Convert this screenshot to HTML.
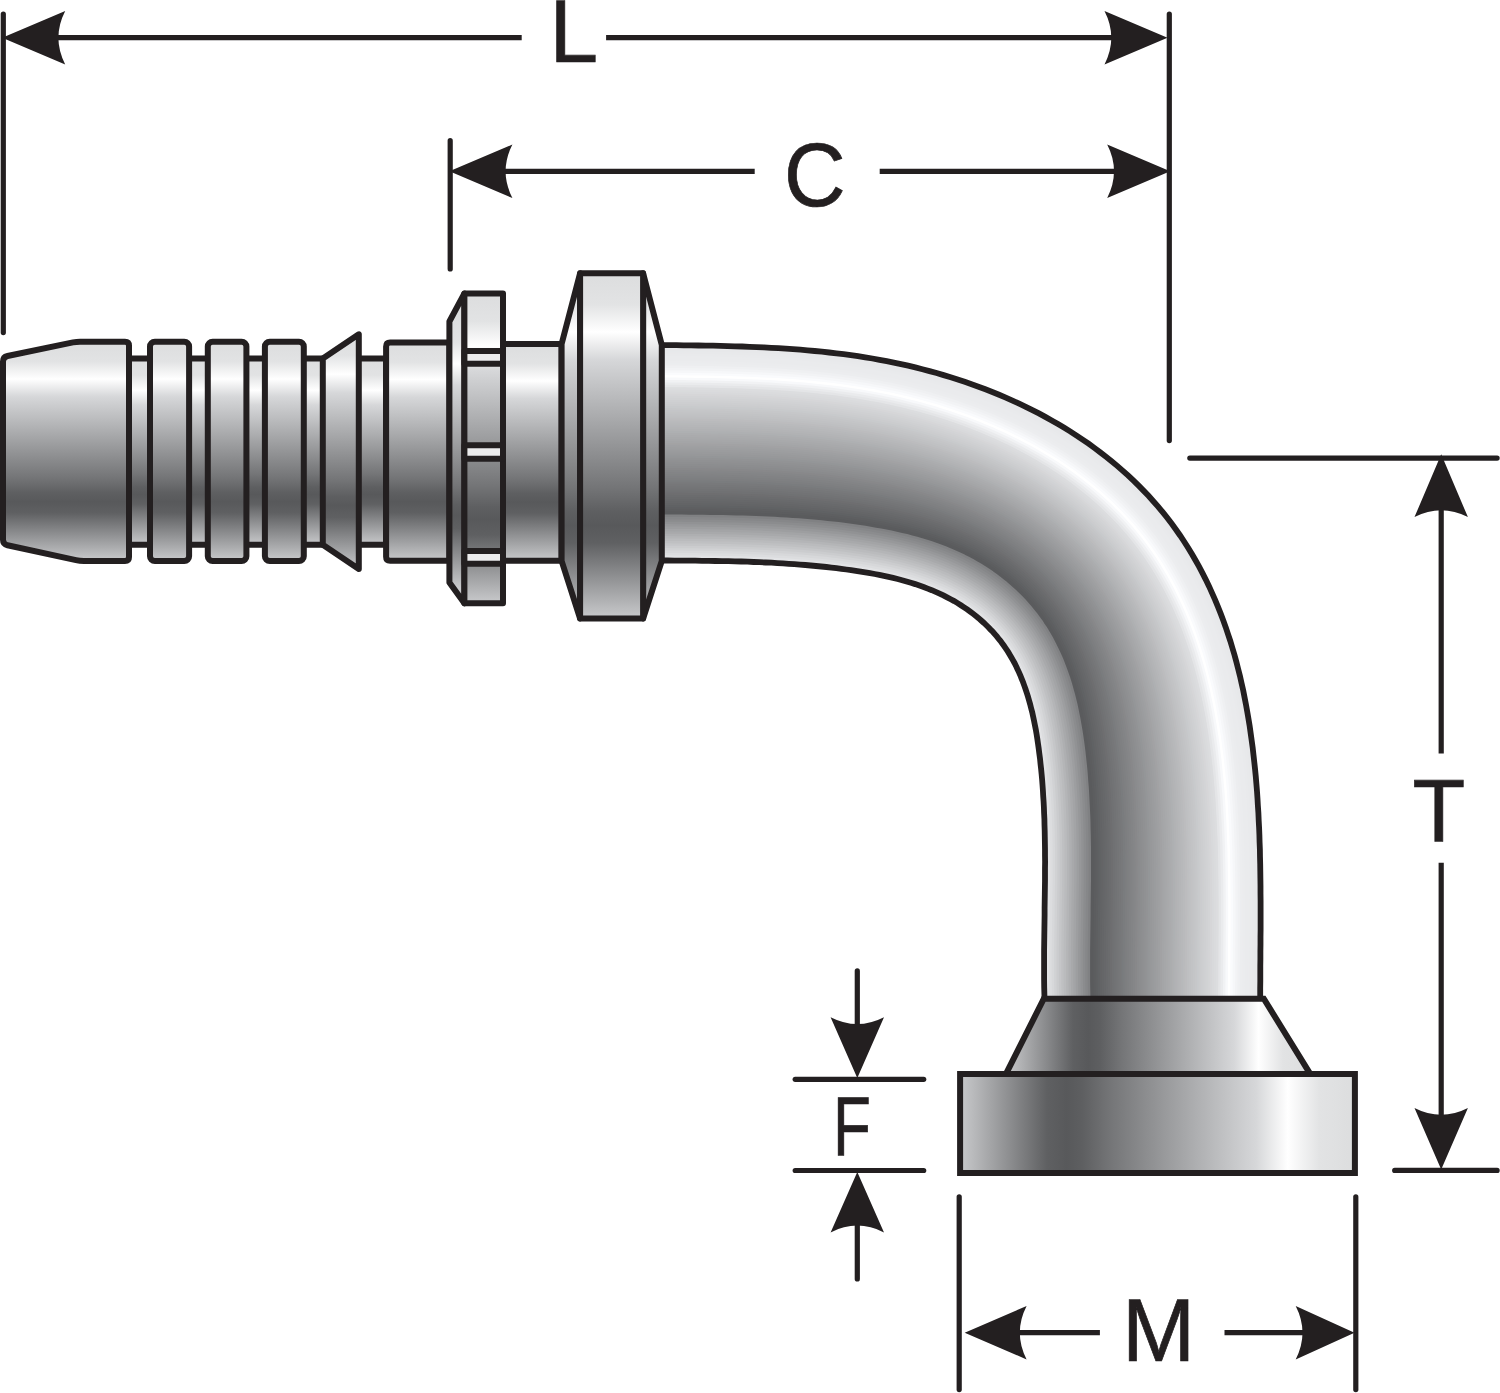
<!DOCTYPE html>
<html><head><meta charset="utf-8"><title>Fitting dimensions L C T F M</title>
<style>html,body{margin:0;padding:0;background:#fff}svg{display:block}</style></head>
<body>
<svg width="1500" height="1393" viewBox="0 0 1500 1393">
<rect width="1500" height="1393" fill="#ffffff"/>
<defs>
<linearGradient id="gv" x1="0" y1="0" x2="0" y2="1"><stop offset="0.000" stop-color="#dcddde"/><stop offset="0.090" stop-color="#e2e3e4"/><stop offset="0.170" stop-color="#ffffff"/><stop offset="0.250" stop-color="#d6d7d9"/><stop offset="0.620" stop-color="#747577"/><stop offset="0.690" stop-color="#5e5f61"/><stop offset="0.730" stop-color="#58595b"/><stop offset="0.780" stop-color="#5f6062"/><stop offset="1.000" stop-color="#c9cacc"/></linearGradient>
<linearGradient id="gh" x1="1" y1="0" x2="0" y2="0"><stop offset="0.000" stop-color="#dcddde"/><stop offset="0.090" stop-color="#e2e3e4"/><stop offset="0.170" stop-color="#ffffff"/><stop offset="0.250" stop-color="#d6d7d9"/><stop offset="0.620" stop-color="#747577"/><stop offset="0.690" stop-color="#5e5f61"/><stop offset="0.730" stop-color="#58595b"/><stop offset="0.780" stop-color="#5f6062"/><stop offset="1.000" stop-color="#c9cacc"/></linearGradient>
<linearGradient id="gbev" gradientUnits="userSpaceOnUse" x1="0" y1="318" x2="0" y2="588"><stop offset="0.000" stop-color="#dcddde"/><stop offset="0.090" stop-color="#e2e3e4"/><stop offset="0.170" stop-color="#ffffff"/><stop offset="0.250" stop-color="#d6d7d9"/><stop offset="0.620" stop-color="#747577"/><stop offset="0.690" stop-color="#5e5f61"/><stop offset="0.730" stop-color="#58595b"/><stop offset="0.780" stop-color="#5f6062"/><stop offset="1.000" stop-color="#c9cacc"/></linearGradient>
</defs>
<!-- bent tube -->
<clipPath id="tubeclip"><path d="M639.9,344.9L647.3,345.0L654.6,345.1L661.9,345.1L669.2,345.2L676.5,345.2L683.8,345.3L691.1,345.4L698.4,345.5L705.7,345.6L713.0,345.7L720.3,345.9L727.6,346.1L734.9,346.3L742.2,346.5L749.4,346.8L756.7,347.1L764.0,347.4L771.2,347.8L778.5,348.2L785.8,348.7L793.0,349.2L800.3,349.7L807.5,350.3L814.7,351.0L821.9,351.7L829.2,352.5L836.4,353.3L843.6,354.2L850.8,355.2L858.0,356.2L865.2,357.4L872.4,358.5L879.5,359.8L886.7,361.2L893.8,362.6L901.0,364.1L908.1,365.7L915.3,367.4L922.4,369.2L929.5,371.1L936.6,373.0L943.6,375.1L950.7,377.2L957.7,379.4L964.7,381.8L971.6,384.2L978.5,386.7L985.4,389.3L992.3,392.0L999.1,394.8L1005.8,397.6L1012.5,400.6L1019.2,403.7L1025.8,406.8L1032.4,410.1L1038.9,413.4L1045.3,416.9L1051.7,420.4L1058.0,424.1L1064.3,427.8L1070.5,431.6L1076.6,435.6L1082.6,439.6L1088.6,443.7L1094.5,448.0L1100.3,452.3L1106.0,456.7L1111.6,461.2L1117.2,465.9L1122.6,470.6L1128.0,475.4L1133.3,480.4L1138.4,485.4L1143.5,490.6L1148.5,495.8L1153.3,501.2L1158.1,506.6L1162.7,512.2L1167.2,517.8L1171.6,523.6L1175.9,529.5L1180.1,535.5L1184.1,541.5L1188.1,547.7L1191.9,554.0L1195.5,560.3L1199.1,566.7L1202.5,573.2L1205.9,579.8L1209.1,586.4L1212.1,593.1L1215.1,599.8L1217.9,606.6L1220.6,613.4L1223.2,620.3L1225.7,627.2L1228.0,634.1L1230.3,641.0L1232.4,648.0L1234.5,655.0L1236.4,662.1L1238.2,669.1L1240.0,676.2L1241.6,683.3L1243.2,690.4L1244.6,697.6L1246.0,704.7L1247.3,711.9L1248.5,719.1L1249.7,726.3L1250.7,733.5L1251.7,740.7L1252.7,747.9L1253.5,755.1L1254.3,762.3L1255.1,769.6L1255.8,776.8L1256.4,784.1L1257.0,791.3L1257.5,798.6L1257.9,805.9L1258.4,813.1L1258.7,820.4L1259.1,827.7L1259.4,835.0L1259.6,842.3L1259.9,849.6L1260.0,856.8L1260.2,864.1L1260.3,871.4L1260.4,878.7L1260.5,886.0L1260.5,893.3L1260.6,900.6L1260.6,907.9L1260.6,915.2L1260.6,922.5L1260.6,929.8L1260.5,937.1L1260.5,944.4L1260.4,951.7L1260.4,959.0L1260.3,966.3L1260.3,973.6L1260.3,980.9L1260.2,988.2L1260.2,995.4L1260.2,1002.7L1260.2,1010.0L1044.5,1010.3L1044.5,1002.6L1044.4,994.9L1044.2,987.4L1044.1,979.8L1044.1,972.4L1044.1,965.0L1044.1,957.6L1044.1,950.4L1044.2,943.2L1044.3,936.0L1044.4,928.9L1044.5,921.9L1044.6,915.0L1044.6,908.1L1044.7,901.3L1044.8,894.6L1044.9,887.9L1045.0,881.3L1045.0,874.8L1045.0,868.3L1045.1,861.9L1045.0,855.5L1045.0,849.3L1044.9,843.1L1044.8,836.9L1044.7,830.9L1044.5,824.9L1044.4,819.0L1044.1,813.1L1043.9,807.3L1043.6,801.6L1043.2,796.0L1042.9,790.4L1042.5,784.9L1042.1,779.5L1041.6,774.1L1041.1,768.8L1040.5,763.6L1040.0,758.5L1039.3,753.4L1038.7,748.5L1038.0,743.6L1037.3,738.8L1036.6,734.2L1035.8,729.6L1034.9,725.1L1034.0,720.7L1033.1,716.4L1032.2,712.2L1031.1,708.1L1030.1,704.1L1029.0,700.2L1027.9,696.4L1026.7,692.6L1025.5,689.0L1024.2,685.4L1023.0,682.0L1021.6,678.6L1020.3,675.3L1018.9,672.1L1017.4,669.0L1016.0,665.9L1014.5,663.0L1012.9,660.2L1011.4,657.5L1009.9,654.9L1008.4,652.4L1006.9,650.0L1005.4,647.8L1003.8,645.5L1002.1,643.2L1000.4,640.9L998.6,638.7L996.8,636.4L994.8,634.1L992.8,631.8L990.6,629.6L988.4,627.3L986.1,625.0L983.7,622.7L981.2,620.5L978.6,618.2L975.9,616.0L973.1,613.8L970.2,611.6L967.2,609.4L964.1,607.3L960.9,605.2L957.6,603.1L954.2,601.1L950.7,599.2L947.1,597.3L943.4,595.4L939.6,593.6L935.7,591.9L931.8,590.2L927.7,588.6L923.6,587.0L919.4,585.5L915.2,584.1L910.9,582.8L906.5,581.5L902.1,580.2L897.6,579.0L893.1,577.9L888.6,576.9L884.0,575.9L879.3,574.9L874.7,574.0L870.0,573.1L865.3,572.3L860.6,571.6L855.8,570.8L851.1,570.1L846.3,569.5L841.4,568.8L836.4,568.2L831.4,567.6L826.4,567.0L821.2,566.5L816.0,566.0L810.7,565.5L805.3,565.0L799.9,564.6L794.4,564.1L788.8,563.8L783.1,563.4L777.4,563.1L771.5,562.7L765.6,562.5L759.6,562.2L753.6,562.0L747.4,561.7L741.2,561.5L734.9,561.4L728.5,561.2L722.0,561.1L715.4,561.0L708.8,560.9L702.1,560.8L695.3,560.7L688.4,560.7L681.5,560.6L674.4,560.6L667.3,560.5L660.2,560.5L652.9,560.4L645.5,560.4L638.1,560.3Z"/></clipPath>
<g clip-path="url(#tubeclip)" fill="none" stroke-linejoin="round">
<path d="M639.9,346.9L647.2,347.0L654.6,347.1L661.9,347.1L669.2,347.2L676.5,347.2L683.8,347.3L691.1,347.4L698.4,347.5L705.7,347.6L713.0,347.7L720.3,347.9L727.6,348.1L734.8,348.3L742.1,348.5L749.4,348.8L756.6,349.1L763.9,349.4L771.1,349.8L778.4,350.2L785.6,350.6L792.9,351.2L800.1,351.7L807.3,352.3L814.5,353.0L821.7,353.7L828.9,354.5L836.1,355.3L843.3,356.2L850.5,357.2L857.7,358.2L864.9,359.3L872.0,360.5L879.2,361.8L886.3,363.1L893.4,364.6L900.6,366.1L907.7,367.7L914.8,369.4L921.9,371.1L929.0,373.0L936.0,374.9L943.1,377.0L950.1,379.1L957.1,381.3L964.0,383.7L970.9,386.1L977.8,388.6L984.7,391.1L991.5,393.8L998.3,396.6L1005.0,399.5L1011.7,402.4L1018.3,405.5L1024.9,408.6L1031.5,411.9L1037.9,415.2L1044.4,418.6L1050.7,422.2L1057.0,425.8L1063.2,429.5L1069.4,433.3L1075.5,437.2L1081.5,441.2L1087.4,445.4L1093.3,449.6L1099.1,453.9L1104.8,458.3L1110.4,462.8L1115.9,467.4L1121.3,472.1L1126.6,476.9L1131.9,481.8L1137.0,486.8L1142.1,491.9L1147.0,497.2L1151.8,502.5L1156.5,507.9L1161.2,513.4L1165.6,519.1L1170.0,524.8L1174.3,530.6L1178.4,536.6L1182.5,542.6L1186.4,548.8L1190.1,555.0L1193.8,561.3L1197.3,567.7L1200.8,574.1L1204.1,580.7L1207.2,587.3L1210.3,593.9L1213.2,600.6L1216.0,607.4L1218.7,614.1L1221.3,621.0L1223.8,627.8L1226.1,634.7L1228.4,641.6L1230.5,648.6L1232.5,655.6L1234.5,662.6L1236.3,669.6L1238.0,676.7L1239.7,683.7L1241.2,690.8L1242.7,698.0L1244.0,705.1L1245.3,712.2L1246.6,719.4L1247.7,726.6L1248.8,733.7L1249.8,740.9L1250.7,748.1L1251.5,755.3L1252.3,762.6L1253.1,769.8L1253.8,777.0L1254.4,784.2L1255.0,791.5L1255.5,798.7L1255.9,806.0L1256.4,813.2L1256.7,820.5L1257.1,827.8L1257.4,835.1L1257.6,842.3L1257.9,849.6L1258.0,856.9L1258.2,864.2L1258.3,871.5L1258.4,878.8L1258.5,886.1L1258.5,893.3L1258.6,900.6L1258.6,907.9L1258.6,915.2L1258.6,922.5L1258.6,929.8L1258.5,937.1L1258.5,944.4L1258.4,951.7L1258.4,959.0L1258.3,966.3L1258.3,973.6L1258.3,980.9L1258.2,988.1L1258.2,995.4L1258.2,1002.7L1258.2,1010.0" stroke="#e6e7e9" stroke-width="6.4"/>
<path d="M639.9,349.3L647.2,349.4L654.5,349.5L661.9,349.5L669.2,349.6L676.5,349.6L683.8,349.7L691.1,349.8L698.4,349.9L705.7,350.0L712.9,350.1L720.2,350.3L727.5,350.5L734.8,350.7L742.0,350.9L749.3,351.2L756.5,351.5L763.8,351.8L771.0,352.2L778.2,352.6L785.5,353.0L792.7,353.5L799.9,354.1L807.1,354.7L814.3,355.4L821.5,356.1L828.7,356.9L835.9,357.7L843.0,358.6L850.2,359.6L857.3,360.6L864.5,361.7L871.6,362.9L878.7,364.1L885.9,365.5L893.0,366.9L900.1,368.4L907.1,370.0L914.2,371.7L921.3,373.5L928.3,375.3L935.4,377.3L942.4,379.3L949.4,381.4L956.3,383.6L963.2,385.9L970.1,388.3L977.0,390.8L983.8,393.4L990.6,396.1L997.4,398.8L1004.1,401.7L1010.7,404.6L1017.3,407.6L1023.9,410.8L1030.4,414.0L1036.8,417.3L1043.2,420.7L1049.5,424.2L1055.8,427.9L1062.0,431.6L1068.1,435.4L1074.2,439.2L1080.1,443.2L1086.0,447.3L1091.9,451.5L1097.6,455.8L1103.3,460.2L1108.8,464.6L1114.3,469.2L1119.7,473.9L1125.0,478.7L1130.2,483.6L1135.3,488.5L1140.3,493.6L1145.2,498.8L1150.0,504.1L1154.7,509.5L1159.3,514.9L1163.8,520.5L1168.1,526.2L1172.3,532.0L1176.4,537.9L1180.4,543.9L1184.3,550.0L1188.1,556.2L1191.7,562.5L1195.2,568.8L1198.6,575.3L1201.9,581.7L1205.1,588.3L1208.1,594.9L1211.0,601.6L1213.8,608.3L1216.5,615.0L1219.1,621.8L1221.5,628.6L1223.9,635.5L1226.1,642.4L1228.2,649.3L1230.2,656.2L1232.1,663.2L1234.0,670.2L1235.7,677.2L1237.3,684.3L1238.9,691.3L1240.3,698.4L1241.7,705.5L1243.0,712.6L1244.2,719.8L1245.3,726.9L1246.4,734.1L1247.4,741.2L1248.3,748.4L1249.2,755.6L1250.0,762.8L1250.7,770.0L1251.4,777.2L1252.0,784.4L1252.6,791.7L1253.1,798.9L1253.6,806.1L1254.0,813.4L1254.4,820.6L1254.7,827.9L1255.0,835.1L1255.2,842.4L1255.5,849.7L1255.6,857.0L1255.8,864.2L1255.9,871.5L1256.0,878.8L1256.1,886.1L1256.1,893.4L1256.2,900.6L1256.2,907.9L1256.2,915.2L1256.2,922.5L1256.2,929.8L1256.1,937.1L1256.1,944.4L1256.0,951.7L1256.0,959.0L1255.9,966.3L1255.9,973.6L1255.9,980.9L1255.8,988.1L1255.8,995.4L1255.8,1002.7L1255.8,1010.0" stroke="#e7e8ea" stroke-width="6.4"/>
<path d="M639.9,351.7L647.2,351.8L654.5,351.9L661.8,351.9L669.1,352.0L676.4,352.0L683.7,352.1L691.0,352.2L698.3,352.3L705.6,352.4L712.9,352.5L720.2,352.7L727.4,352.9L734.7,353.1L741.9,353.3L749.2,353.6L756.4,353.9L763.7,354.2L770.9,354.6L778.1,355.0L785.3,355.4L792.5,355.9L799.7,356.5L806.9,357.1L814.1,357.8L821.2,358.5L828.4,359.2L835.6,360.1L842.7,361.0L849.8,361.9L857.0,363.0L864.1,364.1L871.2,365.2L878.3,366.5L885.4,367.8L892.5,369.3L899.5,370.8L906.6,372.3L913.7,374.0L920.7,375.8L927.7,377.6L934.7,379.6L941.7,381.6L948.6,383.7L955.6,385.9L962.5,388.2L969.3,390.6L976.2,393.1L983.0,395.6L989.7,398.3L996.4,401.0L1003.1,403.9L1009.7,406.8L1016.3,409.8L1022.8,412.9L1029.3,416.1L1035.7,419.5L1042.1,422.8L1048.4,426.3L1054.6,429.9L1060.7,433.6L1066.8,437.4L1072.9,441.3L1078.8,445.2L1084.7,449.3L1090.5,453.4L1096.2,457.7L1101.8,462.1L1107.3,466.5L1112.8,471.1L1118.1,475.7L1123.4,480.4L1128.6,485.3L1133.6,490.2L1138.6,495.3L1143.5,500.4L1148.2,505.7L1152.9,511.0L1157.4,516.5L1161.9,522.0L1166.2,527.7L1170.4,533.4L1174.5,539.3L1178.4,545.2L1182.3,551.3L1186.0,557.4L1189.6,563.7L1193.1,570.0L1196.5,576.4L1199.8,582.8L1202.9,589.3L1205.9,595.9L1208.8,602.5L1211.6,609.2L1214.3,615.9L1216.8,622.6L1219.3,629.4L1221.6,636.2L1223.8,643.1L1225.9,650.0L1227.9,656.9L1229.8,663.8L1231.6,670.8L1233.4,677.8L1235.0,684.8L1236.5,691.8L1238.0,698.9L1239.3,706.0L1240.6,713.1L1241.8,720.2L1242.9,727.3L1244.0,734.4L1245.0,741.6L1245.9,748.7L1246.8,755.9L1247.6,763.1L1248.3,770.2L1249.0,777.4L1249.6,784.6L1250.2,791.8L1250.7,799.1L1251.2,806.3L1251.6,813.5L1252.0,820.7L1252.3,828.0L1252.6,835.2L1252.8,842.5L1253.1,849.7L1253.2,857.0L1253.4,864.3L1253.5,871.5L1253.6,878.8L1253.7,886.1L1253.7,893.4L1253.8,900.7L1253.8,907.9L1253.8,915.2L1253.8,922.5L1253.8,929.8L1253.7,937.1L1253.7,944.4L1253.6,951.7L1253.6,959.0L1253.5,966.3L1253.5,973.6L1253.5,980.8L1253.4,988.1L1253.4,995.4L1253.4,1002.7L1253.4,1010.0" stroke="#e7e8ea" stroke-width="6.4"/>
<path d="M639.9,354.1L647.2,354.2L654.5,354.3L661.8,354.3L669.1,354.4L676.4,354.4L683.7,354.5L691.0,354.6L698.3,354.7L705.6,354.8L712.8,354.9L720.1,355.1L727.4,355.3L734.6,355.5L741.9,355.7L749.1,356.0L756.3,356.3L763.5,356.6L770.8,357.0L778.0,357.4L785.2,357.8L792.3,358.3L799.5,358.9L806.7,359.5L813.9,360.1L821.0,360.9L828.1,361.6L835.3,362.5L842.4,363.3L849.5,364.3L856.6,365.3L863.7,366.4L870.8,367.6L877.9,368.9L884.9,370.2L892.0,371.6L899.0,373.1L906.1,374.7L913.1,376.3L920.1,378.1L927.1,379.9L934.1,381.9L941.0,383.9L947.9,386.0L954.8,388.2L961.7,390.5L968.5,392.8L975.3,395.3L982.1,397.9L988.8,400.5L995.5,403.2L1002.2,406.1L1008.7,409.0L1015.3,412.0L1021.8,415.1L1028.2,418.3L1034.6,421.6L1040.9,425.0L1047.2,428.4L1053.4,432.0L1059.5,435.7L1065.6,439.4L1071.5,443.3L1077.4,447.2L1083.3,451.2L1089.0,455.4L1094.7,459.6L1100.3,463.9L1105.8,468.4L1111.2,472.9L1116.5,477.5L1121.8,482.2L1126.9,487.0L1131.9,491.9L1136.9,496.9L1141.7,502.1L1146.4,507.3L1151.1,512.6L1155.6,518.0L1160.0,523.5L1164.3,529.1L1168.4,534.8L1172.5,540.6L1176.4,546.5L1180.2,552.6L1183.9,558.7L1187.5,564.8L1191.0,571.1L1194.4,577.5L1197.6,583.9L1200.7,590.3L1203.7,596.9L1206.6,603.4L1209.4,610.1L1212.0,616.7L1214.6,623.5L1217.0,630.2L1219.3,637.0L1221.5,643.8L1223.6,650.7L1225.6,657.5L1227.5,664.4L1229.3,671.4L1231.0,678.3L1232.6,685.3L1234.2,692.3L1235.6,699.4L1237.0,706.4L1238.2,713.5L1239.4,720.6L1240.6,727.6L1241.6,734.8L1242.6,741.9L1243.5,749.0L1244.4,756.2L1245.2,763.3L1245.9,770.5L1246.6,777.7L1247.2,784.8L1247.8,792.0L1248.3,799.2L1248.8,806.4L1249.2,813.6L1249.6,820.9L1249.9,828.1L1250.2,835.3L1250.4,842.6L1250.7,849.8L1250.8,857.1L1251.0,864.3L1251.1,871.6L1251.2,878.8L1251.3,886.1L1251.3,893.4L1251.4,900.7L1251.4,907.9L1251.4,915.2L1251.4,922.5L1251.4,929.8L1251.3,937.1L1251.3,944.4L1251.2,951.7L1251.2,959.0L1251.1,966.2L1251.1,973.5L1251.1,980.8L1251.0,988.1L1251.0,995.4L1251.0,1002.7L1251.0,1010.0" stroke="#e8e9eb" stroke-width="6.4"/>
<path d="M639.8,356.5L647.2,356.6L654.5,356.7L661.8,356.7L669.1,356.8L676.4,356.8L683.7,356.9L691.0,357.0L698.3,357.1L705.5,357.2L712.8,357.3L720.1,357.5L727.3,357.7L734.5,357.9L741.8,358.1L749.0,358.4L756.2,358.7L763.4,359.0L770.6,359.4L777.8,359.8L785.0,360.2L792.2,360.7L799.3,361.3L806.5,361.9L813.6,362.5L820.8,363.2L827.9,364.0L835.0,364.8L842.1,365.7L849.2,366.7L856.3,367.7L863.3,368.8L870.4,370.0L877.4,371.2L884.5,372.6L891.5,374.0L898.5,375.4L905.5,377.0L912.5,378.7L919.5,380.4L926.5,382.3L933.4,384.2L940.3,386.2L947.2,388.3L954.1,390.5L960.9,392.7L967.7,395.1L974.5,397.6L981.2,400.1L987.9,402.7L994.6,405.5L1001.2,408.3L1007.8,411.2L1014.3,414.2L1020.7,417.3L1027.1,420.4L1033.5,423.7L1039.8,427.1L1046.0,430.5L1052.2,434.1L1058.2,437.7L1064.3,441.4L1070.2,445.3L1076.1,449.2L1081.9,453.2L1087.6,457.3L1093.3,461.5L1098.8,465.8L1104.3,470.2L1109.7,474.7L1115.0,479.3L1120.1,484.0L1125.2,488.8L1130.3,493.6L1135.2,498.6L1140.0,503.7L1144.6,508.9L1149.2,514.1L1153.7,519.5L1158.1,525.0L1162.3,530.5L1166.5,536.2L1170.5,542.0L1174.4,547.9L1178.2,553.8L1181.9,559.9L1185.5,566.0L1188.9,572.3L1192.2,578.6L1195.5,584.9L1198.6,591.4L1201.5,597.8L1204.4,604.4L1207.2,611.0L1209.8,617.6L1212.3,624.3L1214.7,631.0L1217.0,637.8L1219.2,644.5L1221.3,651.3L1223.3,658.2L1225.2,665.1L1227.0,672.0L1228.7,678.9L1230.3,685.9L1231.8,692.8L1233.3,699.8L1234.6,706.8L1235.9,713.9L1237.1,720.9L1238.2,728.0L1239.3,735.1L1240.2,742.2L1241.2,749.3L1242.0,756.4L1242.8,763.6L1243.5,770.7L1244.2,777.9L1244.8,785.0L1245.4,792.2L1245.9,799.4L1246.4,806.6L1246.8,813.8L1247.2,821.0L1247.5,828.2L1247.8,835.4L1248.0,842.6L1248.3,849.9L1248.4,857.1L1248.6,864.4L1248.7,871.6L1248.8,878.9L1248.9,886.1L1248.9,893.4L1249.0,900.7L1249.0,907.9L1249.0,915.2L1249.0,922.5L1249.0,929.8L1248.9,937.1L1248.9,944.4L1248.8,951.6L1248.8,958.9L1248.7,966.2L1248.7,973.5L1248.7,980.8L1248.6,988.1L1248.6,995.4L1248.6,1002.7L1248.6,1010.0" stroke="#e9eaec" stroke-width="6.4"/>
<path d="M639.8,358.9L647.1,359.0L654.5,359.1L661.8,359.1L669.1,359.2L676.4,359.2L683.7,359.3L690.9,359.4L698.2,359.5L705.5,359.6L712.7,359.7L720.0,359.9L727.2,360.1L734.5,360.3L741.7,360.5L748.9,360.8L756.1,361.1L763.3,361.4L770.5,361.8L777.7,362.2L784.8,362.6L792.0,363.1L799.1,363.7L806.3,364.3L813.4,364.9L820.5,365.6L827.6,366.4L834.7,367.2L841.8,368.1L848.9,369.1L855.9,370.1L863.0,371.2L870.0,372.3L877.0,373.6L884.0,374.9L891.0,376.3L898.0,377.8L905.0,379.4L912.0,381.0L918.9,382.8L925.8,384.6L932.7,386.5L939.6,388.5L946.5,390.6L953.3,392.8L960.2,395.0L966.9,397.4L973.7,399.8L980.4,402.3L987.0,405.0L993.7,407.7L1000.2,410.5L1006.8,413.4L1013.3,416.3L1019.7,419.4L1026.1,422.6L1032.4,425.8L1038.6,429.2L1044.8,432.6L1050.9,436.1L1057.0,439.8L1063.0,443.5L1068.9,447.3L1074.8,451.2L1080.5,455.2L1086.2,459.3L1091.8,463.4L1097.3,467.7L1102.8,472.1L1108.1,476.5L1113.4,481.1L1118.5,485.7L1123.6,490.5L1128.6,495.3L1133.4,500.3L1138.2,505.3L1142.9,510.5L1147.4,515.7L1151.9,521.0L1156.2,526.4L1160.4,532.0L1164.5,537.6L1168.5,543.3L1172.4,549.2L1176.2,555.1L1179.8,561.1L1183.4,567.2L1186.8,573.4L1190.1,579.7L1193.3,586.0L1196.4,592.4L1199.4,598.8L1202.2,605.3L1204.9,611.9L1207.6,618.5L1210.1,625.1L1212.5,631.8L1214.7,638.5L1216.9,645.3L1219.0,652.0L1221.0,658.8L1222.9,665.7L1224.7,672.6L1226.4,679.5L1228.0,686.4L1229.5,693.3L1230.9,700.3L1232.2,707.3L1233.5,714.3L1234.7,721.3L1235.8,728.4L1236.9,735.4L1237.9,742.5L1238.8,749.6L1239.6,756.7L1240.4,763.8L1241.1,771.0L1241.8,778.1L1242.4,785.2L1243.0,792.4L1243.5,799.6L1244.0,806.7L1244.4,813.9L1244.8,821.1L1245.1,828.3L1245.4,835.5L1245.6,842.7L1245.9,849.9L1246.0,857.2L1246.2,864.4L1246.3,871.7L1246.4,878.9L1246.5,886.2L1246.5,893.4L1246.6,900.7L1246.6,907.9L1246.6,915.2L1246.6,922.5L1246.6,929.8L1246.5,937.1L1246.5,944.3L1246.4,951.6L1246.4,958.9L1246.3,966.2L1246.3,973.5L1246.3,980.8L1246.2,988.1L1246.2,995.4L1246.2,1002.7L1246.2,1010.0" stroke="#eaebed" stroke-width="6.4"/>
<path d="M639.8,361.3L647.1,361.4L654.4,361.5L661.8,361.5L669.1,361.6L676.4,361.6L683.6,361.7L690.9,361.8L698.2,361.9L705.4,362.0L712.7,362.1L719.9,362.3L727.2,362.5L734.4,362.7L741.6,362.9L748.8,363.2L756.0,363.5L763.2,363.8L770.4,364.2L777.5,364.6L784.7,365.0L791.8,365.5L798.9,366.1L806.1,366.7L813.2,367.3L820.3,368.0L827.3,368.8L834.4,369.6L841.5,370.5L848.5,371.4L855.6,372.5L862.6,373.5L869.6,374.7L876.6,375.9L883.6,377.3L890.5,378.7L897.5,380.1L904.4,381.7L911.4,383.3L918.3,385.1L925.2,386.9L932.1,388.8L939.0,390.8L945.8,392.9L952.6,395.0L959.4,397.3L966.1,399.6L972.8,402.1L979.5,404.6L986.2,407.2L992.7,409.9L999.3,412.7L1005.8,415.5L1012.2,418.5L1018.6,421.6L1025.0,424.7L1031.3,428.0L1037.5,431.3L1043.6,434.7L1049.7,438.2L1055.8,441.8L1061.7,445.5L1067.6,449.3L1073.4,453.2L1079.1,457.1L1084.8,461.2L1090.4,465.3L1095.8,469.6L1101.2,473.9L1106.6,478.4L1111.8,482.9L1116.9,487.5L1121.9,492.2L1126.9,497.0L1131.7,501.9L1136.4,507.0L1141.1,512.0L1145.6,517.2L1150.0,522.5L1154.3,527.9L1158.5,533.4L1162.6,539.0L1166.5,544.7L1170.4,550.5L1174.1,556.4L1177.8,562.3L1181.3,568.4L1184.7,574.5L1188.0,580.8L1191.2,587.1L1194.2,593.4L1197.2,599.8L1200.0,606.3L1202.7,612.8L1205.3,619.3L1207.8,625.9L1210.2,632.6L1212.5,639.3L1214.6,646.0L1216.7,652.7L1218.7,659.5L1220.6,666.3L1222.3,673.1L1224.0,680.0L1225.6,686.9L1227.1,693.8L1228.5,700.8L1229.9,707.7L1231.2,714.7L1232.3,721.7L1233.5,728.7L1234.5,735.8L1235.5,742.8L1236.4,749.9L1237.2,757.0L1238.0,764.1L1238.8,771.2L1239.4,778.3L1240.0,785.4L1240.6,792.6L1241.1,799.7L1241.6,806.9L1242.0,814.0L1242.4,821.2L1242.7,828.4L1243.0,835.6L1243.2,842.8L1243.5,850.0L1243.6,857.2L1243.8,864.5L1243.9,871.7L1244.0,878.9L1244.1,886.2L1244.1,893.4L1244.2,900.7L1244.2,907.9L1244.2,915.2L1244.2,922.5L1244.2,929.8L1244.1,937.0L1244.1,944.3L1244.0,951.6L1244.0,958.9L1243.9,966.2L1243.9,973.5L1243.9,980.8L1243.8,988.1L1243.8,995.4L1243.8,1002.7L1243.8,1010.0" stroke="#eaebed" stroke-width="6.4"/>
<path d="M639.8,363.7L647.1,363.8L654.4,363.9L661.7,363.9L669.0,364.0L676.3,364.0L683.6,364.1L690.9,364.2L698.2,364.3L705.4,364.4L712.7,364.5L719.9,364.7L727.1,364.9L734.3,365.1L741.5,365.3L748.7,365.6L755.9,365.9L763.1,366.2L770.2,366.6L777.4,367.0L784.5,367.4L791.6,367.9L798.8,368.5L805.9,369.0L812.9,369.7L820.0,370.4L827.1,371.2L834.1,372.0L841.2,372.9L848.2,373.8L855.2,374.8L862.2,375.9L869.2,377.1L876.1,378.3L883.1,379.6L890.1,381.0L897.0,382.5L903.9,384.0L910.8,385.7L917.7,387.4L924.6,389.2L931.4,391.1L938.3,393.1L945.1,395.2L951.9,397.3L958.6,399.6L965.3,401.9L972.0,404.3L978.7,406.8L985.3,409.4L991.8,412.1L998.3,414.9L1004.8,417.7L1011.2,420.7L1017.6,423.7L1023.9,426.9L1030.1,430.1L1036.3,433.4L1042.5,436.8L1048.5,440.3L1054.5,443.9L1060.4,447.5L1066.3,451.3L1072.1,455.1L1077.7,459.1L1083.4,463.1L1088.9,467.3L1094.4,471.5L1099.7,475.8L1105.0,480.2L1110.2,484.7L1115.3,489.3L1120.3,494.0L1125.2,498.7L1130.0,503.6L1134.7,508.6L1139.3,513.6L1143.8,518.8L1148.1,524.1L1152.4,529.4L1156.6,534.8L1160.6,540.4L1164.5,546.0L1168.4,551.8L1172.1,557.6L1175.7,563.6L1179.2,569.6L1182.6,575.7L1185.8,581.9L1189.0,588.1L1192.0,594.4L1195.0,600.8L1197.8,607.2L1200.5,613.7L1203.1,620.2L1205.6,626.8L1207.9,633.4L1210.2,640.0L1212.4,646.7L1214.4,653.4L1216.4,660.2L1218.2,666.9L1220.0,673.7L1221.7,680.6L1223.3,687.4L1224.8,694.3L1226.2,701.2L1227.5,708.2L1228.8,715.1L1230.0,722.1L1231.1,729.1L1232.1,736.1L1233.1,743.2L1234.0,750.2L1234.9,757.3L1235.6,764.3L1236.4,771.4L1237.0,778.5L1237.6,785.6L1238.2,792.7L1238.7,799.9L1239.2,807.0L1239.6,814.2L1240.0,821.3L1240.3,828.5L1240.6,835.7L1240.8,842.9L1241.1,850.1L1241.2,857.3L1241.4,864.5L1241.5,871.7L1241.6,879.0L1241.7,886.2L1241.7,893.4L1241.8,900.7L1241.8,908.0L1241.8,915.2L1241.8,922.5L1241.8,929.8L1241.7,937.0L1241.7,944.3L1241.6,951.6L1241.6,958.9L1241.5,966.2L1241.5,973.5L1241.5,980.8L1241.4,988.1L1241.4,995.4L1241.4,1002.7L1241.4,1010.0" stroke="#ebecee" stroke-width="6.4"/>
<path d="M639.8,366.1L647.1,366.2L654.4,366.3L661.7,366.3L669.0,366.4L676.3,366.4L683.6,366.5L690.9,366.6L698.1,366.7L705.4,366.8L712.6,366.9L719.8,367.1L727.1,367.3L734.3,367.5L741.4,367.7L748.6,368.0L755.8,368.3L763.0,368.6L770.1,368.9L777.2,369.4L784.4,369.8L791.5,370.3L798.6,370.8L805.6,371.4L812.7,372.1L819.8,372.8L826.8,373.5L833.8,374.4L840.9,375.2L847.9,376.2L854.8,377.2L861.8,378.3L868.8,379.4L875.7,380.7L882.7,382.0L889.6,383.4L896.5,384.8L903.4,386.4L910.2,388.0L917.1,389.7L924.0,391.5L930.8,393.4L937.6,395.4L944.4,397.5L951.1,399.6L957.8,401.8L964.5,404.2L971.2,406.6L977.8,409.1L984.4,411.6L990.9,414.3L997.4,417.1L1003.8,419.9L1010.2,422.9L1016.5,425.9L1022.8,429.0L1029.0,432.2L1035.2,435.5L1041.3,438.9L1047.3,442.3L1053.3,445.9L1059.1,449.6L1065.0,453.3L1070.7,457.1L1076.4,461.0L1082.0,465.1L1087.5,469.2L1092.9,473.4L1098.2,477.6L1103.4,482.0L1108.6,486.5L1113.7,491.0L1118.6,495.7L1123.5,500.4L1128.2,505.3L1132.9,510.2L1137.5,515.2L1141.9,520.4L1146.3,525.6L1150.5,530.9L1154.6,536.3L1158.7,541.8L1162.6,547.4L1166.4,553.1L1170.0,558.9L1173.6,564.8L1177.1,570.8L1180.5,576.8L1183.7,583.0L1186.8,589.2L1189.9,595.4L1192.8,601.8L1195.6,608.2L1198.3,614.6L1200.8,621.1L1203.3,627.6L1205.7,634.2L1207.9,640.8L1210.1,647.4L1212.1,654.1L1214.1,660.8L1215.9,667.5L1217.7,674.3L1219.3,681.1L1220.9,688.0L1222.4,694.8L1223.8,701.7L1225.2,708.6L1226.4,715.5L1227.6,722.5L1228.7,729.5L1229.8,736.5L1230.7,743.5L1231.6,750.5L1232.5,757.5L1233.3,764.6L1234.0,771.7L1234.6,778.7L1235.3,785.8L1235.8,792.9L1236.3,800.0L1236.8,807.2L1237.2,814.3L1237.6,821.5L1237.9,828.6L1238.2,835.8L1238.4,843.0L1238.7,850.1L1238.8,857.3L1239.0,864.5L1239.1,871.8L1239.2,879.0L1239.3,886.2L1239.3,893.5L1239.4,900.7L1239.4,908.0L1239.4,915.2L1239.4,922.5L1239.4,929.7L1239.3,937.0L1239.3,944.3L1239.2,951.6L1239.2,958.9L1239.1,966.2L1239.1,973.5L1239.1,980.8L1239.0,988.1L1239.0,995.4L1239.0,1002.7L1239.0,1010.0" stroke="#ecedef" stroke-width="6.4"/>
<path d="M639.7,368.5L647.1,368.6L654.4,368.7L661.7,368.7L669.0,368.8L676.3,368.8L683.6,368.9L690.8,369.0L698.1,369.1L705.3,369.2L712.6,369.3L719.8,369.5L727.0,369.7L734.2,369.9L741.4,370.1L748.5,370.4L755.7,370.7L762.8,371.0L770.0,371.3L777.1,371.8L784.2,372.2L791.3,372.7L798.4,373.2L805.4,373.8L812.5,374.5L819.5,375.2L826.5,375.9L833.5,376.7L840.5,377.6L847.5,378.6L854.5,379.6L861.4,380.7L868.4,381.8L875.3,383.0L882.2,384.3L889.1,385.7L896.0,387.2L902.8,388.7L909.7,390.3L916.5,392.1L923.3,393.8L930.1,395.7L936.9,397.7L943.7,399.7L950.4,401.9L957.1,404.1L963.7,406.4L970.3,408.8L976.9,411.3L983.5,413.9L990.0,416.5L996.4,419.3L1002.8,422.1L1009.2,425.0L1015.5,428.0L1021.7,431.1L1027.9,434.3L1034.0,437.6L1040.1,441.0L1046.1,444.4L1052.0,448.0L1057.9,451.6L1063.6,455.3L1069.4,459.1L1075.0,463.0L1080.5,467.0L1086.0,471.1L1091.4,475.2L1096.7,479.5L1101.9,483.8L1107.0,488.3L1112.0,492.8L1117.0,497.4L1121.8,502.1L1126.5,506.9L1131.2,511.8L1135.7,516.8L1140.1,521.9L1144.4,527.1L1148.6,532.4L1152.7,537.7L1156.7,543.2L1160.6,548.7L1164.3,554.4L1168.0,560.2L1171.6,566.0L1175.0,572.0L1178.4,578.0L1181.6,584.1L1184.7,590.2L1187.7,596.5L1190.6,602.8L1193.4,609.1L1196.0,615.5L1198.6,621.9L1201.1,628.4L1203.4,635.0L1205.6,641.5L1207.8,648.1L1209.8,654.8L1211.8,661.5L1213.6,668.2L1215.3,674.9L1217.0,681.7L1218.6,688.5L1220.1,695.3L1221.5,702.2L1222.8,709.1L1224.1,716.0L1225.2,722.9L1226.3,729.8L1227.4,736.8L1228.3,743.8L1229.2,750.8L1230.1,757.8L1230.9,764.8L1231.6,771.9L1232.3,778.9L1232.9,786.0L1233.4,793.1L1233.9,800.2L1234.4,807.3L1234.8,814.4L1235.2,821.6L1235.5,828.7L1235.8,835.9L1236.0,843.0L1236.3,850.2L1236.4,857.4L1236.6,864.6L1236.7,871.8L1236.8,879.0L1236.9,886.2L1236.9,893.5L1237.0,900.7L1237.0,908.0L1237.0,915.2L1237.0,922.5L1237.0,929.7L1236.9,937.0L1236.9,944.3L1236.8,951.6L1236.8,958.9L1236.7,966.2L1236.7,973.5L1236.7,980.8L1236.6,988.1L1236.6,995.4L1236.6,1002.7L1236.6,1010.0" stroke="#eff0f2" stroke-width="6.4"/>
<path d="M639.7,370.9L647.1,371.0L654.4,371.1L661.7,371.1L669.0,371.2L676.3,371.2L683.5,371.3L690.8,371.4L698.0,371.5L705.3,371.6L712.5,371.7L719.7,371.9L726.9,372.1L734.1,372.3L741.3,372.5L748.4,372.8L755.6,373.0L762.7,373.4L769.8,373.7L776.9,374.1L784.0,374.6L791.1,375.1L798.2,375.6L805.2,376.2L812.3,376.9L819.3,377.6L826.3,378.3L833.3,379.1L840.2,380.0L847.2,380.9L854.1,382.0L861.1,383.0L868.0,384.2L874.9,385.4L881.7,386.7L888.6,388.1L895.4,389.5L902.3,391.1L909.1,392.7L915.9,394.4L922.7,396.2L929.5,398.0L936.2,400.0L942.9,402.0L949.6,404.2L956.3,406.4L962.9,408.7L969.5,411.1L976.1,413.5L982.6,416.1L989.0,418.7L995.5,421.5L1001.8,424.3L1008.2,427.2L1014.4,430.2L1020.6,433.3L1026.8,436.5L1032.9,439.7L1038.9,443.1L1044.9,446.5L1050.8,450.0L1056.6,453.6L1062.3,457.3L1068.0,461.1L1073.6,465.0L1079.1,468.9L1084.5,473.0L1089.9,477.1L1095.2,481.4L1100.3,485.7L1105.4,490.1L1110.4,494.6L1115.3,499.2L1120.1,503.8L1124.8,508.6L1129.4,513.5L1133.9,518.4L1138.3,523.5L1142.6,528.6L1146.7,533.8L1150.8,539.2L1154.7,544.6L1158.6,550.1L1162.3,555.7L1166.0,561.4L1169.5,567.2L1172.9,573.1L1176.2,579.1L1179.4,585.2L1182.5,591.3L1185.5,597.5L1188.4,603.7L1191.2,610.0L1193.8,616.4L1196.4,622.8L1198.8,629.3L1201.1,635.8L1203.4,642.3L1205.5,648.9L1207.5,655.5L1209.4,662.1L1211.3,668.8L1213.0,675.5L1214.7,682.2L1216.2,689.0L1217.7,695.8L1219.1,702.6L1220.5,709.5L1221.7,716.4L1222.9,723.3L1224.0,730.2L1225.0,737.1L1226.0,744.1L1226.9,751.1L1227.7,758.1L1228.5,765.1L1229.2,772.1L1229.9,779.2L1230.5,786.2L1231.0,793.3L1231.5,800.4L1232.0,807.5L1232.4,814.6L1232.8,821.7L1233.1,828.8L1233.4,836.0L1233.6,843.1L1233.9,850.3L1234.0,857.5L1234.2,864.6L1234.3,871.8L1234.4,879.0L1234.5,886.3L1234.5,893.5L1234.6,900.7L1234.6,908.0L1234.6,915.2L1234.6,922.5L1234.6,929.7L1234.5,937.0L1234.5,944.3L1234.4,951.6L1234.4,958.8L1234.3,966.1L1234.3,973.4L1234.3,980.7L1234.2,988.1L1234.2,995.4L1234.2,1002.7L1234.2,1010.0" stroke="#f2f3f5" stroke-width="6.4"/>
<path d="M639.7,373.3L647.0,373.4L654.4,373.5L661.7,373.5L669.0,373.6L676.2,373.6L683.5,373.7L690.8,373.8L698.0,373.9L705.2,374.0L712.5,374.1L719.7,374.3L726.9,374.5L734.0,374.7L741.2,374.9L748.4,375.2L755.5,375.4L762.6,375.8L769.7,376.1L776.8,376.5L783.9,377.0L790.9,377.5L798.0,378.0L805.0,378.6L812.0,379.3L819.0,380.0L826.0,380.7L833.0,381.5L839.9,382.4L846.9,383.3L853.8,384.3L860.7,385.4L867.6,386.5L874.4,387.8L881.3,389.0L888.1,390.4L894.9,391.9L901.7,393.4L908.5,395.0L915.3,396.7L922.1,398.5L928.8,400.3L935.5,402.3L942.2,404.3L948.9,406.5L955.5,408.7L962.1,410.9L968.7,413.3L975.2,415.8L981.7,418.3L988.1,421.0L994.5,423.7L1000.9,426.5L1007.1,429.4L1013.4,432.4L1019.6,435.4L1025.7,438.6L1031.7,441.8L1037.7,445.1L1043.7,448.6L1049.5,452.1L1055.3,455.6L1061.0,459.3L1066.7,463.1L1072.2,466.9L1077.7,470.9L1083.1,474.9L1088.4,479.0L1093.6,483.2L1098.8,487.5L1103.8,491.9L1108.8,496.3L1113.6,500.9L1118.4,505.5L1123.1,510.3L1127.6,515.1L1132.1,520.0L1136.4,525.0L1140.7,530.1L1144.8,535.3L1148.9,540.6L1152.8,546.0L1156.6,551.4L1160.3,557.0L1163.9,562.7L1167.4,568.5L1170.8,574.3L1174.1,580.3L1177.3,586.3L1180.4,592.4L1183.4,598.5L1186.2,604.7L1189.0,611.0L1191.6,617.3L1194.1,623.7L1196.5,630.1L1198.9,636.5L1201.1,643.0L1203.2,649.6L1205.2,656.2L1207.1,662.8L1209.0,669.4L1210.7,676.1L1212.3,682.8L1213.9,689.5L1215.4,696.3L1216.8,703.1L1218.1,709.9L1219.3,716.8L1220.5,723.7L1221.6,730.6L1222.6,737.5L1223.6,744.4L1224.5,751.4L1225.3,758.4L1226.1,765.4L1226.8,772.4L1227.5,779.4L1228.1,786.4L1228.6,793.5L1229.1,800.5L1229.6,807.6L1230.0,814.7L1230.4,821.8L1230.7,828.9L1231.0,836.1L1231.2,843.2L1231.5,850.3L1231.6,857.5L1231.8,864.7L1231.9,871.9L1232.0,879.1L1232.1,886.3L1232.1,893.5L1232.2,900.7L1232.2,908.0L1232.2,915.2L1232.2,922.5L1232.2,929.7L1232.1,937.0L1232.1,944.3L1232.0,951.5L1232.0,958.8L1231.9,966.1L1231.9,973.4L1231.9,980.7L1231.8,988.1L1231.8,995.4L1231.8,1002.7L1231.8,1010.0" stroke="#f6f7f9" stroke-width="6.4"/>
<path d="M639.7,375.7L647.0,375.8L654.3,375.9L661.6,375.9L668.9,376.0L676.2,376.0L683.5,376.1L690.7,376.2L698.0,376.3L705.2,376.4L712.4,376.5L719.6,376.7L726.8,376.9L734.0,377.1L741.1,377.3L748.3,377.6L755.4,377.8L762.5,378.2L769.6,378.5L776.7,378.9L783.7,379.4L790.8,379.9L797.8,380.4L804.8,381.0L811.8,381.6L818.8,382.3L825.7,383.1L832.7,383.9L839.6,384.8L846.5,385.7L853.4,386.7L860.3,387.8L867.2,388.9L874.0,390.1L880.8,391.4L887.6,392.8L894.4,394.2L901.2,395.7L908.0,397.3L914.7,399.0L921.5,400.8L928.2,402.7L934.9,404.6L941.5,406.6L948.1,408.7L954.8,410.9L961.3,413.2L967.8,415.6L974.3,418.0L980.8,420.6L987.2,423.2L993.6,425.9L999.9,428.7L1006.1,431.6L1012.3,434.5L1018.5,437.6L1024.6,440.7L1030.6,443.9L1036.5,447.2L1042.4,450.6L1048.3,454.1L1054.0,457.7L1059.7,461.3L1065.3,465.1L1070.8,468.9L1076.3,472.8L1081.6,476.8L1086.9,480.9L1092.1,485.1L1097.2,489.3L1102.2,493.7L1107.2,498.1L1112.0,502.6L1116.7,507.3L1121.3,511.9L1125.9,516.7L1130.3,521.6L1134.6,526.6L1138.8,531.6L1143.0,536.8L1147.0,542.0L1150.8,547.4L1154.6,552.8L1158.3,558.3L1161.9,564.0L1165.4,569.7L1168.8,575.5L1172.0,581.4L1175.2,587.4L1178.2,593.4L1181.2,599.5L1184.0,605.7L1186.8,611.9L1189.4,618.2L1191.9,624.5L1194.3,630.9L1196.6,637.3L1198.8,643.8L1200.9,650.3L1202.9,656.8L1204.8,663.4L1206.6,670.0L1208.4,676.7L1210.0,683.4L1211.6,690.1L1213.0,696.8L1214.4,703.6L1215.7,710.4L1217.0,717.2L1218.1,724.1L1219.2,730.9L1220.3,737.8L1221.2,744.7L1222.1,751.7L1222.9,758.6L1223.7,765.6L1224.4,772.6L1225.1,779.6L1225.7,786.6L1226.2,793.6L1226.7,800.7L1227.2,807.8L1227.6,814.8L1228.0,821.9L1228.3,829.0L1228.6,836.1L1228.8,843.3L1229.1,850.4L1229.2,857.6L1229.4,864.7L1229.5,871.9L1229.6,879.1L1229.7,886.3L1229.7,893.5L1229.8,900.7L1229.8,908.0L1229.8,915.2L1229.8,922.4L1229.8,929.7L1229.7,937.0L1229.7,944.2L1229.6,951.5L1229.6,958.8L1229.5,966.1L1229.5,973.4L1229.5,980.7L1229.4,988.0L1229.4,995.4L1229.4,1002.7L1229.4,1010.0" stroke="#fafbfd" stroke-width="6.4"/>
<path d="M639.7,378.1L647.0,378.2L654.3,378.3L661.6,378.3L668.9,378.4L676.2,378.4L683.5,378.5L690.7,378.6L697.9,378.7L705.2,378.8L712.4,378.9L719.6,379.1L726.7,379.3L733.9,379.5L741.0,379.7L748.2,380.0L755.3,380.2L762.4,380.6L769.5,380.9L776.5,381.3L783.6,381.8L790.6,382.3L797.6,382.8L804.6,383.4L811.6,384.0L818.5,384.7L825.5,385.5L832.4,386.3L839.3,387.1L846.2,388.1L853.1,389.1L859.9,390.1L866.7,391.3L873.6,392.5L880.4,393.8L887.1,395.1L893.9,396.5L900.7,398.1L907.4,399.7L914.1,401.3L920.8,403.1L927.5,405.0L934.2,406.9L940.8,408.9L947.4,411.0L954.0,413.2L960.5,415.5L967.0,417.8L973.5,420.3L979.9,422.8L986.3,425.4L992.6,428.1L998.9,430.9L1005.1,433.7L1011.3,436.7L1017.4,439.7L1023.4,442.8L1029.4,446.0L1035.4,449.3L1041.2,452.7L1047.0,456.2L1052.7,459.7L1058.4,463.3L1064.0,467.1L1069.5,470.9L1074.9,474.7L1080.2,478.7L1085.4,482.8L1090.6,486.9L1095.7,491.2L1100.6,495.5L1105.5,499.9L1110.3,504.4L1115.0,509.0L1119.6,513.6L1124.1,518.4L1128.5,523.2L1132.8,528.1L1137.0,533.2L1141.1,538.3L1145.0,543.5L1148.9,548.7L1152.6,554.1L1156.3,559.6L1159.9,565.2L1163.3,570.9L1166.7,576.7L1169.9,582.5L1173.1,588.5L1176.1,594.5L1179.0,600.6L1181.8,606.7L1184.5,612.9L1187.1,619.1L1189.6,625.4L1192.0,631.7L1194.3,638.1L1196.5,644.6L1198.6,651.0L1200.6,657.5L1202.5,664.1L1204.3,670.6L1206.0,677.3L1207.7,683.9L1209.2,690.6L1210.7,697.3L1212.1,704.0L1213.4,710.8L1214.6,717.6L1215.8,724.4L1216.9,731.3L1217.9,738.2L1218.8,745.1L1219.7,752.0L1220.6,758.9L1221.3,765.9L1222.0,772.8L1222.7,779.8L1223.3,786.8L1223.8,793.8L1224.4,800.9L1224.8,807.9L1225.2,815.0L1225.6,822.0L1225.9,829.1L1226.2,836.2L1226.4,843.3L1226.7,850.5L1226.8,857.6L1227.0,864.8L1227.1,871.9L1227.2,879.1L1227.3,886.3L1227.3,893.5L1227.4,900.7L1227.4,908.0L1227.4,915.2L1227.4,922.4L1227.4,929.7L1227.3,937.0L1227.3,944.2L1227.2,951.5L1227.2,958.8L1227.1,966.1L1227.1,973.4L1227.1,980.7L1227.0,988.0L1227.0,995.4L1227.0,1002.7L1227.0,1010.0" stroke="#ffffff" stroke-width="6.4"/>
<path d="M639.6,380.5L647.0,380.6L654.3,380.7L661.6,380.7L668.9,380.8L676.2,380.8L683.4,380.9L690.7,381.0L697.9,381.1L705.1,381.2L712.3,381.3L719.5,381.5L726.7,381.7L733.8,381.9L741.0,382.1L748.1,382.4L755.2,382.6L762.3,383.0L769.3,383.3L776.4,383.7L783.4,384.2L790.4,384.7L797.4,385.2L804.4,385.8L811.3,386.4L818.3,387.1L825.2,387.9L832.1,388.7L839.0,389.5L845.9,390.5L852.7,391.4L859.5,392.5L866.3,393.6L873.1,394.8L879.9,396.1L886.7,397.5L893.4,398.9L900.1,400.4L906.8,402.0L913.5,403.7L920.2,405.4L926.9,407.3L933.5,409.2L940.1,411.2L946.7,413.3L953.2,415.5L959.7,417.7L966.2,420.1L972.6,422.5L979.0,425.0L985.3,427.6L991.6,430.3L997.9,433.1L1004.1,435.9L1010.2,438.8L1016.3,441.8L1022.3,445.0L1028.3,448.1L1034.2,451.4L1040.0,454.8L1045.8,458.2L1051.5,461.7L1057.1,465.3L1062.6,469.0L1068.1,472.8L1073.4,476.7L1078.7,480.6L1084.0,484.7L1089.1,488.8L1094.1,493.0L1099.1,497.3L1103.9,501.6L1108.7,506.1L1113.3,510.7L1117.9,515.3L1122.4,520.0L1126.7,524.8L1131.0,529.7L1135.1,534.7L1139.2,539.7L1143.1,544.9L1146.9,550.1L1150.7,555.5L1154.3,560.9L1157.8,566.5L1161.2,572.1L1164.6,577.9L1167.8,583.7L1170.9,589.6L1173.9,595.6L1176.8,601.6L1179.6,607.7L1182.3,613.8L1184.9,620.0L1187.4,626.3L1189.8,632.6L1192.1,638.9L1194.2,645.3L1196.3,651.7L1198.3,658.2L1200.2,664.7L1202.0,671.3L1203.7,677.8L1205.3,684.5L1206.9,691.1L1208.3,697.8L1209.7,704.5L1211.0,711.3L1212.2,718.0L1213.4,724.8L1214.5,731.7L1215.5,738.5L1216.5,745.4L1217.3,752.3L1218.2,759.2L1218.9,766.1L1219.6,773.1L1220.3,780.0L1220.9,787.0L1221.5,794.0L1222.0,801.0L1222.4,808.0L1222.8,815.1L1223.2,822.2L1223.5,829.2L1223.8,836.3L1224.0,843.4L1224.3,850.5L1224.4,857.7L1224.6,864.8L1224.7,872.0L1224.8,879.2L1224.9,886.3L1224.9,893.5L1225.0,900.7L1225.0,908.0L1225.0,915.2L1225.0,922.4L1225.0,929.7L1224.9,936.9L1224.9,944.2L1224.8,951.5L1224.8,958.8L1224.7,966.1L1224.7,973.4L1224.7,980.7L1224.6,988.0L1224.6,995.4L1224.6,1002.7L1224.6,1010.0" stroke="#f8f9fb" stroke-width="6.4"/>
<path d="M639.6,382.9L647.0,383.0L654.3,383.1L661.6,383.1L668.9,383.2L676.1,383.2L683.4,383.3L690.6,383.4L697.9,383.5L705.1,383.6L712.3,383.7L719.5,383.9L726.6,384.1L733.8,384.3L740.9,384.5L748.0,384.7L755.1,385.0L762.1,385.4L769.2,385.7L776.2,386.1L783.2,386.6L790.2,387.1L797.2,387.6L804.2,388.2L811.1,388.8L818.0,389.5L824.9,390.2L831.8,391.0L838.7,391.9L845.5,392.8L852.3,393.8L859.2,394.9L865.9,396.0L872.7,397.2L879.4,398.5L886.2,399.8L892.9,401.2L899.6,402.7L906.3,404.3L912.9,406.0L919.6,407.7L926.2,409.6L932.8,411.5L939.4,413.5L945.9,415.6L952.4,417.7L958.9,420.0L965.4,422.3L971.8,424.7L978.1,427.2L984.4,429.8L990.7,432.5L996.9,435.2L1003.1,438.1L1009.2,441.0L1015.2,444.0L1021.2,447.1L1027.1,450.2L1033.0,453.5L1038.8,456.8L1044.5,460.3L1050.2,463.8L1055.8,467.3L1061.3,471.0L1066.7,474.8L1072.0,478.6L1077.3,482.5L1082.5,486.5L1087.6,490.6L1092.6,494.8L1097.5,499.1L1102.3,503.4L1107.0,507.8L1111.6,512.4L1116.2,517.0L1120.6,521.6L1124.9,526.4L1129.1,531.3L1133.3,536.2L1137.3,541.2L1141.2,546.3L1145.0,551.5L1148.7,556.8L1152.3,562.3L1155.8,567.8L1159.2,573.4L1162.5,579.1L1165.7,584.8L1168.8,590.7L1171.8,596.6L1174.7,602.6L1177.5,608.7L1180.1,614.8L1182.7,620.9L1185.2,627.1L1187.5,633.4L1189.8,639.7L1192.0,646.1L1194.0,652.5L1196.0,658.9L1197.9,665.4L1199.7,671.9L1201.4,678.4L1203.0,685.0L1204.5,691.6L1206.0,698.3L1207.4,705.0L1208.7,711.7L1209.9,718.4L1211.0,725.2L1212.1,732.0L1213.1,738.8L1214.1,745.7L1215.0,752.6L1215.8,759.5L1216.5,766.4L1217.3,773.3L1217.9,780.2L1218.5,787.2L1219.1,794.2L1219.6,801.2L1220.0,808.2L1220.4,815.2L1220.8,822.3L1221.1,829.3L1221.4,836.4L1221.7,843.5L1221.9,850.6L1222.0,857.7L1222.2,864.9L1222.3,872.0L1222.4,879.2L1222.5,886.4L1222.5,893.6L1222.6,900.8L1222.6,908.0L1222.6,915.2L1222.6,922.4L1222.6,929.7L1222.5,936.9L1222.5,944.2L1222.4,951.5L1222.4,958.8L1222.3,966.1L1222.3,973.4L1222.3,980.7L1222.2,988.0L1222.2,995.3L1222.2,1002.7L1222.2,1010.0" stroke="#f1f2f4" stroke-width="6.4"/>
<path d="M639.6,385.3L646.9,385.4L654.3,385.5L661.6,385.5L668.9,385.6L676.1,385.6L683.4,385.7L690.6,385.8L697.8,385.9L705.0,386.0L712.2,386.1L719.4,386.3L726.5,386.5L733.7,386.7L740.8,386.9L747.9,387.1L755.0,387.4L762.0,387.8L769.1,388.1L776.1,388.5L783.1,389.0L790.1,389.5L797.0,390.0L804.0,390.6L810.9,391.2L817.8,391.9L824.7,392.6L831.5,393.4L838.4,394.3L845.2,395.2L852.0,396.2L858.8,397.2L865.5,398.4L872.3,399.6L879.0,400.8L885.7,402.2L892.4,403.6L899.0,405.1L905.7,406.7L912.3,408.3L919.0,410.1L925.5,411.9L932.1,413.8L938.7,415.8L945.2,417.9L951.7,420.0L958.1,422.3L964.5,424.6L970.9,427.0L977.2,429.5L983.5,432.0L989.7,434.7L995.9,437.4L1002.0,440.2L1008.1,443.1L1014.1,446.1L1020.1,449.2L1026.0,452.4L1031.8,455.6L1037.6,458.9L1043.3,462.3L1048.9,465.8L1054.4,469.4L1059.9,473.0L1065.3,476.7L1070.6,480.6L1075.8,484.5L1081.0,488.4L1086.0,492.5L1091.0,496.6L1095.9,500.9L1100.7,505.2L1105.3,509.6L1109.9,514.1L1114.4,518.6L1118.8,523.3L1123.1,528.0L1127.3,532.8L1131.4,537.7L1135.4,542.7L1139.3,547.8L1143.0,552.9L1146.7,558.2L1150.3,563.6L1153.7,569.0L1157.1,574.6L1160.4,580.2L1163.6,586.0L1166.7,591.8L1169.6,597.7L1172.5,603.6L1175.3,609.6L1177.9,615.7L1180.5,621.8L1182.9,628.0L1185.3,634.2L1187.5,640.5L1189.7,646.8L1191.8,653.2L1193.7,659.6L1195.6,666.0L1197.4,672.5L1199.1,679.0L1200.7,685.6L1202.2,692.2L1203.6,698.8L1205.0,705.4L1206.3,712.1L1207.5,718.9L1208.7,725.6L1209.7,732.4L1210.7,739.2L1211.7,746.0L1212.6,752.9L1213.4,759.7L1214.2,766.6L1214.9,773.5L1215.5,780.5L1216.1,787.4L1216.7,794.4L1217.2,801.3L1217.6,808.3L1218.0,815.4L1218.4,822.4L1218.7,829.4L1219.0,836.5L1219.3,843.6L1219.5,850.7L1219.6,857.8L1219.8,864.9L1219.9,872.1L1220.0,879.2L1220.1,886.4L1220.1,893.6L1220.2,900.8L1220.2,908.0L1220.2,915.2L1220.2,922.4L1220.2,929.7L1220.1,936.9L1220.1,944.2L1220.0,951.5L1220.0,958.8L1219.9,966.1L1219.9,973.4L1219.9,980.7L1219.8,988.0L1219.8,995.3L1219.8,1002.7L1219.8,1010.0" stroke="#eaebed" stroke-width="6.4"/>
<path d="M639.6,387.7L646.9,387.8L654.2,387.9L661.5,387.9L668.8,388.0L676.1,388.0L683.4,388.1L690.6,388.2L697.8,388.3L705.0,388.4L712.2,388.5L719.3,388.7L726.5,388.9L733.6,389.1L740.7,389.3L747.8,389.5L754.9,389.8L761.9,390.2L768.9,390.5L775.9,390.9L782.9,391.4L789.9,391.8L796.8,392.4L803.8,393.0L810.7,393.6L817.5,394.3L824.4,395.0L831.2,395.8L838.1,396.7L844.9,397.6L851.6,398.6L858.4,399.6L865.1,400.7L871.8,401.9L878.5,403.2L885.2,404.5L891.9,405.9L898.5,407.4L905.1,409.0L911.7,410.6L918.3,412.4L924.9,414.2L931.4,416.1L938.0,418.1L944.4,420.1L950.9,422.3L957.3,424.5L963.7,426.8L970.0,429.2L976.3,431.7L982.6,434.3L988.8,436.9L994.9,439.6L1001.0,442.4L1007.1,445.3L1013.1,448.3L1019.0,451.3L1024.8,454.5L1030.6,457.7L1036.4,461.0L1042.0,464.4L1047.6,467.8L1053.1,471.4L1058.6,475.0L1063.9,478.7L1069.2,482.5L1074.4,486.4L1079.5,490.3L1084.5,494.4L1089.4,498.5L1094.3,502.7L1099.0,506.9L1103.7,511.3L1108.2,515.8L1112.7,520.3L1117.1,524.9L1121.3,529.6L1125.5,534.4L1129.5,539.2L1133.5,544.2L1137.3,549.2L1141.1,554.3L1144.7,559.5L1148.3,564.9L1151.7,570.3L1155.1,575.8L1158.3,581.4L1161.5,587.1L1164.5,592.9L1167.5,598.7L1170.3,604.6L1173.1,610.6L1175.7,616.7L1178.3,622.7L1180.7,628.9L1183.0,635.1L1185.3,641.3L1187.4,647.6L1189.5,653.9L1191.4,660.3L1193.3,666.7L1195.0,673.1L1196.7,679.6L1198.3,686.1L1199.9,692.7L1201.3,699.3L1202.7,705.9L1203.9,712.6L1205.2,719.3L1206.3,726.0L1207.4,732.7L1208.4,739.5L1209.3,746.3L1210.2,753.2L1211.0,760.0L1211.8,766.9L1212.5,773.8L1213.1,780.7L1213.7,787.6L1214.3,794.5L1214.8,801.5L1215.2,808.5L1215.6,815.5L1216.0,822.5L1216.3,829.5L1216.6,836.6L1216.9,843.7L1217.1,850.7L1217.2,857.8L1217.4,865.0L1217.5,872.1L1217.6,879.2L1217.7,886.4L1217.7,893.6L1217.8,900.8L1217.8,908.0L1217.8,915.2L1217.8,922.4L1217.8,929.7L1217.7,936.9L1217.7,944.2L1217.6,951.5L1217.6,958.7L1217.5,966.0L1217.5,973.3L1217.5,980.7L1217.4,988.0L1217.4,995.3L1217.4,1002.7L1217.4,1010.0" stroke="#e4e5e7" stroke-width="6.4"/>
<path d="M639.6,390.1L646.9,390.2L654.2,390.3L661.5,390.3L668.8,390.4L676.1,390.4L683.3,390.5L690.6,390.6L697.8,390.7L705.0,390.8L712.1,390.9L719.3,391.1L726.4,391.3L733.5,391.5L740.6,391.7L747.7,391.9L754.8,392.2L761.8,392.6L768.8,392.9L775.8,393.3L782.8,393.8L789.7,394.2L796.6,394.8L803.5,395.3L810.4,396.0L817.3,396.7L824.1,397.4L831.0,398.2L837.8,399.0L844.5,400.0L851.3,400.9L858.0,402.0L864.7,403.1L871.4,404.3L878.1,405.5L884.7,406.9L891.4,408.3L898.0,409.8L904.6,411.3L911.1,413.0L917.7,414.7L924.2,416.5L930.8,418.4L937.2,420.4L943.7,422.4L950.1,424.6L956.5,426.8L962.9,429.1L969.2,431.5L975.4,433.9L981.7,436.5L987.8,439.1L993.9,441.8L1000.0,444.6L1006.0,447.5L1012.0,450.4L1017.9,453.5L1023.7,456.6L1029.5,459.8L1035.2,463.0L1040.8,466.4L1046.3,469.8L1051.8,473.4L1057.2,477.0L1062.5,480.7L1067.8,484.4L1072.9,488.3L1078.0,492.2L1083.0,496.2L1087.9,500.3L1092.7,504.5L1097.4,508.7L1102.0,513.0L1106.6,517.5L1111.0,522.0L1115.3,526.5L1119.5,531.2L1123.7,535.9L1127.7,540.7L1131.6,545.7L1135.4,550.6L1139.1,555.7L1142.7,560.9L1146.2,566.2L1149.7,571.6L1153.0,577.0L1156.2,582.6L1159.4,588.3L1162.4,594.0L1165.3,599.8L1168.2,605.7L1170.9,611.6L1173.5,617.6L1176.0,623.6L1178.5,629.7L1180.8,635.9L1183.0,642.1L1185.1,648.3L1187.2,654.6L1189.1,661.0L1191.0,667.3L1192.7,673.7L1194.4,680.2L1196.0,686.7L1197.5,693.2L1198.9,699.8L1200.3,706.4L1201.6,713.0L1202.8,719.7L1203.9,726.4L1205.0,733.1L1206.0,739.9L1206.9,746.7L1207.8,753.5L1208.6,760.3L1209.4,767.1L1210.1,774.0L1210.7,780.9L1211.3,787.8L1211.9,794.7L1212.4,801.7L1212.8,808.6L1213.2,815.6L1213.6,822.6L1213.9,829.6L1214.2,836.7L1214.5,843.7L1214.7,850.8L1214.9,857.9L1215.0,865.0L1215.1,872.1L1215.2,879.3L1215.3,886.4L1215.3,893.6L1215.4,900.8L1215.4,908.0L1215.4,915.2L1215.4,922.4L1215.4,929.6L1215.3,936.9L1215.3,944.2L1215.2,951.4L1215.2,958.7L1215.1,966.0L1215.1,973.3L1215.1,980.7L1215.0,988.0L1215.0,995.3L1215.0,1002.7L1215.0,1010.0" stroke="#dddee0" stroke-width="6.4"/>
<path d="M639.6,390.4L646.9,390.5L654.2,390.6L661.5,390.6L668.8,390.7L676.1,390.7L683.3,390.8L690.6,390.9L697.8,391.0L705.0,391.1L712.1,391.2L719.3,391.4L726.4,391.6L733.5,391.8L740.6,392.0L747.7,392.2L754.7,392.5L761.8,392.9L768.8,393.2L775.8,393.6L782.7,394.1L789.7,394.5L796.6,395.1L803.5,395.6L810.4,396.3L817.3,397.0L824.1,397.7L830.9,398.5L837.7,399.3L844.5,400.3L851.2,401.2L858.0,402.3L864.7,403.4L871.4,404.6L878.0,405.8L884.7,407.2L891.3,408.6L897.9,410.1L904.5,411.6L911.1,413.3L917.6,415.0L924.2,416.8L930.7,418.7L937.1,420.7L943.6,422.7L950.0,424.8L956.4,427.1L962.8,429.4L969.1,431.7L975.3,434.2L981.5,436.7L987.7,439.4L993.8,442.1L999.9,444.9L1005.9,447.7L1011.8,450.7L1017.7,453.7L1023.6,456.8L1029.3,460.0L1035.0,463.3L1040.6,466.7L1046.2,470.1L1051.6,473.6L1057.0,477.2L1062.4,480.9L1067.6,484.7L1072.8,488.5L1077.8,492.4L1082.8,496.4L1087.7,500.5L1092.5,504.7L1097.2,508.9L1101.8,513.3L1106.3,517.7L1110.8,522.2L1115.1,526.7L1119.3,531.4L1123.4,536.1L1127.5,540.9L1131.4,545.8L1135.2,550.8L1138.9,555.9L1142.5,561.1L1146.0,566.3L1149.4,571.7L1152.7,577.2L1156.0,582.8L1159.1,588.4L1162.1,594.1L1165.1,599.9L1167.9,605.8L1170.6,611.7L1173.2,617.7L1175.8,623.8L1178.2,629.9L1180.5,636.0L1182.7,642.2L1184.9,648.4L1186.9,654.7L1188.8,661.0L1190.7,667.4L1192.4,673.8L1194.1,680.3L1195.7,686.8L1197.2,693.3L1198.7,699.8L1200.0,706.4L1201.3,713.1L1202.5,719.7L1203.6,726.4L1204.7,733.2L1205.7,739.9L1206.6,746.7L1207.5,753.5L1208.3,760.3L1209.1,767.2L1209.8,774.0L1210.4,780.9L1211.0,787.8L1211.6,794.7L1212.1,801.7L1212.5,808.7L1212.9,815.6L1213.3,822.6L1213.6,829.7L1213.9,836.7L1214.2,843.8L1214.4,850.8L1214.6,857.9L1214.7,865.0L1214.8,872.1L1214.9,879.3L1215.0,886.4L1215.0,893.6L1215.1,900.8L1215.1,908.0L1215.1,915.2L1215.1,922.4L1215.1,929.6L1215.0,936.9L1215.0,944.2L1214.9,951.4L1214.9,958.7L1214.8,966.0L1214.8,973.3L1214.8,980.7L1214.7,988.0L1214.7,995.3L1214.7,1002.7L1214.7,1010.0" stroke="#dcdddf" stroke-width="6.4"/>
<path d="M639.5,392.5L646.9,392.6L654.2,392.6L661.5,392.7L668.8,392.7L676.1,392.8L683.3,392.9L690.5,393.0L697.7,393.1L704.9,393.2L712.1,393.3L719.2,393.4L726.4,393.6L733.5,393.8L740.6,394.0L747.6,394.3L754.7,394.6L761.7,394.9L768.7,395.3L775.7,395.7L782.6,396.1L789.5,396.6L796.5,397.1L803.3,397.7L810.2,398.3L817.1,399.0L823.9,399.7L830.7,400.5L837.4,401.4L844.2,402.3L850.9,403.2L857.6,404.3L864.3,405.4L871.0,406.6L877.6,407.8L884.3,409.1L890.9,410.5L897.4,412.0L904.0,413.5L910.6,415.2L917.1,416.9L923.6,418.7L930.1,420.6L936.6,422.5L943.0,424.6L949.4,426.7L955.8,428.9L962.1,431.2L968.4,433.5L974.6,436.0L980.8,438.5L986.9,441.1L993.0,443.8L999.1,446.6L1005.1,449.4L1011.0,452.4L1016.8,455.4L1022.6,458.5L1028.4,461.7L1034.0,464.9L1039.6,468.3L1045.2,471.7L1050.6,475.2L1056.0,478.8L1061.3,482.5L1066.5,486.2L1071.6,490.0L1076.6,493.9L1081.6,497.9L1086.5,502.0L1091.2,506.1L1095.9,510.3L1100.5,514.6L1105.0,519.0L1109.4,523.5L1113.7,528.0L1117.9,532.7L1122.0,537.4L1126.0,542.2L1129.8,547.0L1133.6,552.0L1137.3,557.0L1140.9,562.2L1144.4,567.4L1147.8,572.7L1151.1,578.2L1154.3,583.7L1157.4,589.3L1160.4,595.0L1163.3,600.8L1166.1,606.6L1168.8,612.5L1171.4,618.5L1173.9,624.5L1176.3,630.6L1178.7,636.7L1180.9,642.8L1183.0,649.1L1185.0,655.3L1186.9,661.6L1188.8,668.0L1190.5,674.3L1192.2,680.8L1193.8,687.2L1195.3,693.7L1196.7,700.3L1198.0,706.8L1199.3,713.4L1200.5,720.1L1201.6,726.8L1202.7,733.5L1203.7,740.2L1204.6,747.0L1205.5,753.7L1206.3,760.6L1207.1,767.4L1207.8,774.2L1208.4,781.1L1209.0,788.0L1209.6,794.9L1210.0,801.8L1210.5,808.8L1210.9,815.8L1211.3,822.7L1211.6,829.7L1211.9,836.8L1212.1,843.8L1212.3,850.9L1212.5,858.0L1212.6,865.1L1212.8,872.2L1212.9,879.3L1212.9,886.4L1213.0,893.6L1213.0,900.8L1213.0,908.0L1213.0,915.2L1213.0,922.4L1213.0,929.6L1212.9,936.9L1212.9,944.1L1212.9,951.4L1212.8,958.7L1212.8,966.0L1212.7,973.3L1212.7,980.6L1212.7,988.0L1212.6,995.3L1212.6,1002.7L1212.6,1010.0" stroke="#dadbdd" stroke-width="6.4"/>
<path d="M639.5,394.6L646.9,394.6L654.2,394.7L661.5,394.7L668.8,394.8L676.0,394.9L683.3,394.9L690.5,395.0L697.7,395.1L704.9,395.2L712.1,395.4L719.2,395.5L726.3,395.7L733.4,395.9L740.5,396.1L747.5,396.4L754.6,396.6L761.6,397.0L768.6,397.3L775.5,397.7L782.5,398.1L789.4,398.6L796.3,399.2L803.2,399.7L810.0,400.3L816.8,401.0L823.6,401.7L830.4,402.5L837.2,403.4L843.9,404.3L850.6,405.2L857.3,406.3L864.0,407.4L870.6,408.5L877.3,409.8L883.9,411.1L890.4,412.5L897.0,413.9L903.5,415.5L910.1,417.1L916.6,418.8L923.1,420.6L929.5,422.5L936.0,424.4L942.4,426.4L948.8,428.5L955.1,430.7L961.4,433.0L967.7,435.3L973.9,437.8L980.1,440.3L986.2,442.9L992.2,445.6L998.3,448.3L1004.2,451.2L1010.1,454.1L1016.0,457.1L1021.7,460.2L1027.4,463.3L1033.1,466.6L1038.7,469.9L1044.1,473.3L1049.6,476.8L1054.9,480.4L1060.2,484.0L1065.4,487.7L1070.5,491.5L1075.5,495.4L1080.4,499.4L1085.2,503.4L1090.0,507.6L1094.6,511.8L1099.2,516.0L1103.6,520.4L1108.0,524.8L1112.3,529.3L1116.4,533.9L1120.5,538.6L1124.5,543.4L1128.3,548.2L1132.1,553.1L1135.7,558.1L1139.3,563.2L1142.7,568.5L1146.1,573.8L1149.4,579.2L1152.6,584.7L1155.7,590.3L1158.7,595.9L1161.6,601.7L1164.4,607.5L1167.0,613.3L1169.6,619.3L1172.1,625.2L1174.5,631.3L1176.8,637.4L1179.0,643.5L1181.1,649.7L1183.1,655.9L1185.0,662.2L1186.9,668.5L1188.6,674.8L1190.3,681.2L1191.8,687.7L1193.3,694.2L1194.7,700.7L1196.1,707.2L1197.4,713.8L1198.5,720.4L1199.7,727.1L1200.7,733.8L1201.7,740.5L1202.6,747.2L1203.5,754.0L1204.3,760.8L1205.1,767.6L1205.8,774.4L1206.4,781.3L1207.0,788.2L1207.5,795.1L1208.0,802.0L1208.5,808.9L1208.9,815.9L1209.2,822.8L1209.5,829.8L1209.8,836.9L1210.0,843.9L1210.3,850.9L1210.4,858.0L1210.6,865.1L1210.7,872.2L1210.8,879.3L1210.9,886.5L1210.9,893.6L1210.9,900.8L1210.9,908.0L1210.9,915.2L1210.9,922.4L1210.9,929.6L1210.9,936.9L1210.8,944.1L1210.8,951.4L1210.7,958.7L1210.7,966.0L1210.6,973.3L1210.6,980.6L1210.6,988.0L1210.6,995.3L1210.6,1002.7L1210.6,1010.1" stroke="#d8d9db" stroke-width="6.4"/>
<path d="M639.5,396.6L646.8,396.7L654.2,396.7L661.5,396.8L668.8,396.9L676.0,396.9L683.3,397.0L690.5,397.1L697.7,397.2L704.9,397.3L712.0,397.4L719.1,397.6L726.3,397.7L733.3,397.9L740.4,398.2L747.5,398.4L754.5,398.7L761.5,399.0L768.5,399.4L775.4,399.8L782.3,400.2L789.2,400.7L796.1,401.2L803.0,401.8L809.8,402.4L816.6,403.1L823.4,403.8L830.2,404.6L836.9,405.4L843.6,406.3L850.3,407.3L857.0,408.3L863.6,409.4L870.3,410.5L876.9,411.8L883.4,413.1L890.0,414.4L896.5,415.9L903.1,417.4L909.6,419.0L916.1,420.7L922.5,422.5L929.0,424.3L935.4,426.3L941.8,428.3L948.1,430.4L954.5,432.6L960.7,434.8L967.0,437.1L973.2,439.6L979.3,442.1L985.4,444.6L991.5,447.3L997.5,450.0L1003.4,452.9L1009.3,455.8L1015.1,458.8L1020.8,461.8L1026.5,465.0L1032.1,468.2L1037.7,471.5L1043.1,474.9L1048.5,478.4L1053.8,481.9L1059.1,485.6L1064.2,489.3L1069.3,493.1L1074.3,496.9L1079.2,500.9L1084.0,504.9L1088.7,509.0L1093.3,513.2L1097.9,517.4L1102.3,521.7L1106.6,526.2L1110.9,530.7L1115.0,535.2L1119.0,539.9L1123.0,544.6L1126.8,549.4L1130.5,554.3L1134.1,559.3L1137.7,564.3L1141.1,569.5L1144.5,574.8L1147.7,580.2L1150.9,585.6L1154.0,591.2L1156.9,596.8L1159.8,602.5L1162.6,608.3L1165.3,614.1L1167.8,620.0L1170.3,626.0L1172.7,632.0L1175.0,638.0L1177.2,644.1L1179.2,650.3L1181.2,656.5L1183.1,662.7L1185.0,669.0L1186.7,675.4L1188.3,681.7L1189.9,688.1L1191.4,694.6L1192.8,701.1L1194.1,707.6L1195.4,714.2L1196.6,720.8L1197.7,727.4L1198.7,734.1L1199.7,740.8L1200.6,747.5L1201.5,754.2L1202.3,761.0L1203.0,767.8L1203.7,774.6L1204.4,781.5L1205.0,788.3L1205.5,795.2L1206.0,802.1L1206.4,809.0L1206.8,816.0L1207.2,822.9L1207.5,829.9L1207.8,836.9L1208.0,844.0L1208.2,851.0L1208.4,858.1L1208.5,865.1L1208.6,872.2L1208.7,879.3L1208.8,886.5L1208.8,893.6L1208.9,900.8L1208.9,908.0L1208.9,915.2L1208.8,922.4L1208.8,929.6L1208.8,936.9L1208.7,944.1L1208.7,951.4L1208.6,958.7L1208.6,966.0L1208.6,973.3L1208.5,980.6L1208.5,988.0L1208.5,995.3L1208.5,1002.7L1208.5,1010.1" stroke="#d6d6d8" stroke-width="6.4"/>
<path d="M639.5,398.7L646.8,398.8L654.2,398.8L661.5,398.9L668.7,398.9L676.0,399.0L683.2,399.1L690.5,399.1L697.6,399.2L704.8,399.4L712.0,399.5L719.1,399.6L726.2,399.8L733.3,400.0L740.3,400.2L747.4,400.5L754.4,400.7L761.4,401.1L768.3,401.4L775.3,401.8L782.2,402.2L789.1,402.7L796.0,403.2L802.8,403.8L809.6,404.4L816.4,405.1L823.2,405.8L829.9,406.6L836.7,407.4L843.4,408.3L850.0,409.3L856.7,410.3L863.3,411.4L869.9,412.5L876.5,413.7L883.0,415.0L889.6,416.4L896.1,417.8L902.6,419.4L909.1,421.0L915.6,422.6L922.0,424.4L928.4,426.2L934.8,428.1L941.2,430.1L947.5,432.2L953.8,434.4L960.1,436.6L966.3,438.9L972.5,441.3L978.6,443.8L984.7,446.4L990.7,449.0L996.6,451.8L1002.6,454.6L1008.4,457.5L1014.2,460.4L1019.9,463.5L1025.6,466.6L1031.2,469.8L1036.7,473.1L1042.1,476.5L1047.5,480.0L1052.8,483.5L1058.0,487.1L1063.1,490.8L1068.2,494.6L1073.1,498.4L1078.0,502.3L1082.7,506.3L1087.4,510.4L1092.0,514.6L1096.5,518.8L1100.9,523.1L1105.2,527.5L1109.5,532.0L1113.6,536.5L1117.6,541.1L1121.5,545.8L1125.3,550.6L1129.0,555.4L1132.6,560.4L1136.1,565.4L1139.5,570.6L1142.8,575.8L1146.1,581.2L1149.2,586.6L1152.2,592.1L1155.2,597.7L1158.1,603.4L1160.8,609.1L1163.5,614.9L1166.0,620.8L1168.5,626.7L1170.9,632.7L1173.1,638.7L1175.3,644.8L1177.4,650.9L1179.4,657.1L1181.3,663.3L1183.1,669.6L1184.8,675.9L1186.4,682.2L1188.0,688.6L1189.4,695.0L1190.8,701.5L1192.2,708.0L1193.4,714.5L1194.6,721.1L1195.7,727.7L1196.7,734.4L1197.7,741.1L1198.6,747.8L1199.5,754.5L1200.3,761.2L1201.0,768.0L1201.7,774.8L1202.3,781.6L1202.9,788.5L1203.5,795.4L1203.9,802.2L1204.4,809.2L1204.8,816.1L1205.1,823.0L1205.4,830.0L1205.7,837.0L1205.9,844.0L1206.1,851.1L1206.3,858.1L1206.5,865.2L1206.6,872.3L1206.7,879.4L1206.7,886.5L1206.8,893.6L1206.8,900.8L1206.8,908.0L1206.8,915.2L1206.8,922.4L1206.7,929.6L1206.7,936.9L1206.7,944.1L1206.6,951.4L1206.6,958.7L1206.5,966.0L1206.5,973.3L1206.5,980.6L1206.4,988.0L1206.4,995.3L1206.4,1002.7L1206.4,1010.1" stroke="#d3d4d6" stroke-width="6.4"/>
<path d="M639.5,400.8L646.8,400.8L654.1,400.9L661.4,400.9L668.7,401.0L676.0,401.1L683.2,401.1L690.4,401.2L697.6,401.3L704.8,401.4L711.9,401.5L719.1,401.7L726.1,401.9L733.2,402.1L740.3,402.3L747.3,402.5L754.3,402.8L761.3,403.1L768.2,403.5L775.2,403.9L782.1,404.3L788.9,404.8L795.8,405.3L802.6,405.8L809.4,406.5L816.2,407.1L823.0,407.8L829.7,408.6L836.4,409.4L843.1,410.3L849.7,411.3L856.4,412.3L863.0,413.3L869.5,414.5L876.1,415.7L882.6,417.0L889.2,418.3L895.6,419.8L902.1,421.3L908.6,422.9L915.0,424.5L921.5,426.3L927.9,428.1L934.2,430.0L940.6,432.0L946.9,434.1L953.2,436.2L959.4,438.4L965.6,440.7L971.7,443.1L977.8,445.6L983.9,448.2L989.9,450.8L995.8,453.5L1001.7,456.3L1007.5,459.2L1013.3,462.1L1019.0,465.2L1024.6,468.3L1030.2,471.5L1035.7,474.8L1041.1,478.1L1046.5,481.6L1051.7,485.1L1056.9,488.7L1062.0,492.3L1067.0,496.1L1071.9,499.9L1076.8,503.8L1081.5,507.8L1086.2,511.8L1090.7,516.0L1095.2,520.2L1099.6,524.5L1103.9,528.8L1108.0,533.3L1112.1,537.8L1116.1,542.4L1120.0,547.0L1123.8,551.8L1127.4,556.6L1131.0,561.5L1134.5,566.5L1137.9,571.6L1141.2,576.8L1144.4,582.2L1147.5,587.6L1150.5,593.0L1153.5,598.6L1156.3,604.3L1159.1,610.0L1161.7,615.7L1164.2,621.6L1166.7,627.4L1169.0,633.4L1171.3,639.4L1173.4,645.4L1175.5,651.5L1177.5,657.7L1179.4,663.9L1181.2,670.1L1182.9,676.4L1184.5,682.7L1186.0,689.1L1187.5,695.5L1188.9,701.9L1190.2,708.4L1191.4,714.9L1192.6,721.5L1193.7,728.1L1194.8,734.7L1195.7,741.3L1196.6,748.0L1197.5,754.7L1198.3,761.5L1199.0,768.2L1199.7,775.0L1200.3,781.8L1200.9,788.7L1201.4,795.5L1201.9,802.4L1202.3,809.3L1202.7,816.2L1203.1,823.1L1203.4,830.1L1203.7,837.1L1203.9,844.1L1204.1,851.1L1204.3,858.2L1204.4,865.2L1204.5,872.3L1204.6,879.4L1204.7,886.5L1204.7,893.7L1204.7,900.8L1204.7,908.0L1204.7,915.2L1204.7,922.4L1204.7,929.6L1204.6,936.8L1204.6,944.1L1204.5,951.4L1204.5,958.7L1204.4,966.0L1204.4,973.3L1204.4,980.6L1204.4,987.9L1204.3,995.3L1204.3,1002.7L1204.4,1010.1" stroke="#d1d2d4" stroke-width="6.4"/>
<path d="M639.5,402.8L646.8,402.9L654.1,402.9L661.4,403.0L668.7,403.1L676.0,403.1L683.2,403.2L690.4,403.3L697.6,403.4L704.7,403.5L711.9,403.6L719.0,403.7L726.1,403.9L733.2,404.1L740.2,404.3L747.2,404.6L754.2,404.9L761.2,405.2L768.1,405.5L775.0,405.9L781.9,406.3L788.8,406.8L795.6,407.3L802.5,407.9L809.2,408.5L816.0,409.1L822.7,409.9L829.4,410.6L836.1,411.4L842.8,412.3L849.4,413.3L856.0,414.3L862.6,415.3L869.2,416.5L875.7,417.7L882.2,419.0L888.7,420.3L895.2,421.7L901.7,423.2L908.1,424.8L914.5,426.5L920.9,428.2L927.3,430.0L933.7,431.9L940.0,433.9L946.3,435.9L952.5,438.0L958.7,440.3L964.9,442.5L971.0,444.9L977.1,447.4L983.1,449.9L989.1,452.5L995.0,455.2L1000.9,458.0L1006.7,460.9L1012.4,463.8L1018.1,466.8L1023.7,469.9L1029.2,473.1L1034.7,476.4L1040.1,479.7L1045.4,483.1L1050.6,486.6L1055.8,490.2L1060.9,493.9L1065.8,497.6L1070.7,501.4L1075.6,505.3L1080.3,509.2L1084.9,513.3L1089.4,517.4L1093.9,521.6L1098.2,525.8L1102.5,530.2L1106.6,534.6L1110.7,539.1L1114.6,543.6L1118.5,548.3L1122.2,553.0L1125.9,557.8L1129.4,562.6L1132.9,567.6L1136.2,572.7L1139.5,577.9L1142.7,583.1L1145.8,588.5L1148.8,594.0L1151.7,599.5L1154.6,605.1L1157.3,610.8L1159.9,616.5L1162.4,622.3L1164.9,628.2L1167.2,634.1L1169.4,640.1L1171.6,646.1L1173.6,652.2L1175.6,658.3L1177.5,664.4L1179.3,670.6L1181.0,676.9L1182.6,683.2L1184.1,689.5L1185.6,695.9L1186.9,702.3L1188.2,708.8L1189.5,715.3L1190.6,721.8L1191.7,728.4L1192.8,735.0L1193.7,741.6L1194.6,748.3L1195.5,755.0L1196.3,761.7L1197.0,768.5L1197.7,775.2L1198.3,782.0L1198.9,788.8L1199.4,795.7L1199.9,802.5L1200.3,809.4L1200.7,816.3L1201.0,823.2L1201.3,830.2L1201.6,837.2L1201.8,844.2L1202.0,851.2L1202.2,858.2L1202.3,865.3L1202.4,872.3L1202.5,879.4L1202.6,886.5L1202.6,893.7L1202.6,900.8L1202.6,908.0L1202.6,915.2L1202.6,922.4L1202.6,929.6L1202.5,936.8L1202.5,944.1L1202.5,951.4L1202.4,958.6L1202.4,965.9L1202.3,973.3L1202.3,980.6L1202.3,987.9L1202.3,995.3L1202.3,1002.7L1202.3,1010.1" stroke="#cfd0d2" stroke-width="6.4"/>
<path d="M639.4,404.9L646.8,405.0L654.1,405.0L661.4,405.1L668.7,405.1L675.9,405.2L683.2,405.3L690.4,405.3L697.6,405.4L704.7,405.5L711.8,405.7L719.0,405.8L726.0,406.0L733.1,406.2L740.1,406.4L747.1,406.6L754.1,406.9L761.1,407.2L768.0,407.6L774.9,408.0L781.8,408.4L788.6,408.8L795.5,409.4L802.3,409.9L809.0,410.5L815.8,411.2L822.5,411.9L829.2,412.6L835.9,413.5L842.5,414.3L849.1,415.3L855.7,416.3L862.3,417.3L868.8,418.5L875.3,419.7L881.8,420.9L888.3,422.3L894.7,423.7L901.2,425.2L907.6,426.7L914.0,428.4L920.4,430.1L926.7,431.9L933.1,433.8L939.4,435.7L945.6,437.8L951.9,439.9L958.1,442.1L964.2,444.3L970.3,446.7L976.4,449.2L982.4,451.7L988.3,454.3L994.2,457.0L1000.1,459.7L1005.8,462.6L1011.5,465.5L1017.2,468.5L1022.8,471.6L1028.3,474.8L1033.7,478.0L1039.1,481.3L1044.4,484.7L1049.6,488.2L1054.7,491.8L1059.7,495.4L1064.7,499.1L1069.6,502.9L1074.3,506.8L1079.0,510.7L1083.6,514.7L1088.1,518.8L1092.6,523.0L1096.9,527.2L1101.1,531.5L1105.2,535.9L1109.2,540.3L1113.2,544.9L1117.0,549.5L1120.7,554.2L1124.3,558.9L1127.8,563.8L1131.3,568.7L1134.6,573.7L1137.9,578.9L1141.0,584.1L1144.1,589.5L1147.1,594.9L1150.0,600.4L1152.8,606.0L1155.5,611.6L1158.1,617.3L1160.6,623.1L1163.1,628.9L1165.4,634.8L1167.6,640.8L1169.7,646.7L1171.8,652.8L1173.7,658.9L1175.6,665.0L1177.3,671.2L1179.0,677.4L1180.6,683.7L1182.2,690.0L1183.6,696.3L1185.0,702.7L1186.3,709.2L1187.5,715.6L1188.7,722.2L1189.8,728.7L1190.8,735.3L1191.7,741.9L1192.6,748.6L1193.5,755.2L1194.3,761.9L1195.0,768.7L1195.7,775.4L1196.3,782.2L1196.8,789.0L1197.4,795.8L1197.8,802.7L1198.3,809.5L1198.6,816.4L1199.0,823.3L1199.3,830.3L1199.6,837.2L1199.8,844.2L1200.0,851.2L1200.1,858.2L1200.3,865.3L1200.4,872.4L1200.5,879.4L1200.5,886.6L1200.6,893.7L1200.6,900.8L1200.6,908.0L1200.6,915.2L1200.5,922.4L1200.5,929.6L1200.5,936.8L1200.4,944.1L1200.4,951.3L1200.3,958.6L1200.3,965.9L1200.2,973.3L1200.2,980.6L1200.2,987.9L1200.2,995.3L1200.2,1002.7L1200.2,1010.1" stroke="#cdced0" stroke-width="6.4"/>
<path d="M639.4,407.0L646.8,407.0L654.1,407.1L661.4,407.1L668.7,407.2L675.9,407.3L683.1,407.3L690.3,407.4L697.5,407.5L704.7,407.6L711.8,407.7L718.9,407.9L726.0,408.0L733.0,408.2L740.1,408.4L747.1,408.7L754.0,409.0L761.0,409.3L767.9,409.6L774.8,410.0L781.7,410.4L788.5,410.9L795.3,411.4L802.1,412.0L808.9,412.6L815.6,413.2L822.3,413.9L829.0,414.7L835.6,415.5L842.2,416.3L848.8,417.3L855.4,418.3L861.9,419.3L868.5,420.4L875.0,421.6L881.4,422.9L887.9,424.2L894.3,425.6L900.7,427.1L907.1,428.6L913.5,430.3L919.9,432.0L926.2,433.8L932.5,435.6L938.8,437.6L945.0,439.6L951.2,441.7L957.4,443.9L963.5,446.2L969.6,448.5L975.6,450.9L981.6,453.4L987.5,456.0L993.4,458.7L999.2,461.4L1005.0,464.3L1010.7,467.2L1016.3,470.2L1021.8,473.2L1027.3,476.4L1032.7,479.6L1038.1,482.9L1043.3,486.3L1048.5,489.8L1053.6,493.3L1058.6,496.9L1063.5,500.6L1068.4,504.4L1073.1,508.2L1077.8,512.1L1082.4,516.1L1086.9,520.2L1091.2,524.3L1095.5,528.5L1099.7,532.8L1103.8,537.2L1107.8,541.6L1111.7,546.1L1115.5,550.7L1119.2,555.3L1122.8,560.1L1126.3,564.9L1129.7,569.8L1133.0,574.8L1136.2,579.9L1139.4,585.1L1142.4,590.4L1145.4,595.8L1148.3,601.3L1151.1,606.8L1153.8,612.5L1156.3,618.1L1158.8,623.9L1161.2,629.7L1163.5,635.5L1165.8,641.4L1167.9,647.4L1169.9,653.4L1171.8,659.5L1173.7,665.6L1175.4,671.7L1177.1,677.9L1178.7,684.2L1180.2,690.5L1181.7,696.8L1183.0,703.2L1184.3,709.6L1185.5,716.0L1186.7,722.5L1187.8,729.0L1188.8,735.6L1189.7,742.2L1190.6,748.8L1191.5,755.5L1192.3,762.2L1193.0,768.9L1193.6,775.6L1194.3,782.4L1194.8,789.2L1195.3,796.0L1195.8,802.8L1196.2,809.7L1196.6,816.5L1196.9,823.4L1197.2,830.4L1197.5,837.3L1197.7,844.3L1197.9,851.3L1198.1,858.3L1198.2,865.3L1198.3,872.4L1198.4,879.5L1198.4,886.6L1198.5,893.7L1198.5,900.8L1198.5,908.0L1198.5,915.2L1198.5,922.4L1198.4,929.6L1198.4,936.8L1198.3,944.1L1198.3,951.3L1198.2,958.6L1198.2,965.9L1198.2,973.2L1198.1,980.6L1198.1,987.9L1198.1,995.3L1198.1,1002.7L1198.1,1010.1" stroke="#cbccce" stroke-width="6.4"/>
<path d="M639.4,409.0L646.7,409.1L654.1,409.1L661.4,409.2L668.6,409.3L675.9,409.3L683.1,409.4L690.3,409.5L697.5,409.6L704.6,409.7L711.8,409.8L718.9,409.9L725.9,410.1L733.0,410.3L740.0,410.5L747.0,410.7L753.9,411.0L760.9,411.3L767.8,411.7L774.7,412.1L781.5,412.5L788.3,412.9L795.1,413.4L801.9,414.0L808.7,414.6L815.4,415.2L822.1,415.9L828.7,416.7L835.3,417.5L842.0,418.4L848.5,419.3L855.1,420.3L861.6,421.3L868.1,422.4L874.6,423.6L881.0,424.8L887.4,426.2L893.8,427.6L900.2,429.0L906.6,430.6L913.0,432.2L919.3,433.9L925.6,435.6L931.9,437.5L938.2,439.4L944.4,441.4L950.6,443.5L956.7,445.7L962.8,448.0L968.9,450.3L974.9,452.7L980.8,455.2L986.7,457.8L992.6,460.4L998.4,463.1L1004.1,466.0L1009.8,468.9L1015.4,471.8L1020.9,474.9L1026.4,478.0L1031.8,481.2L1037.1,484.5L1042.3,487.9L1047.4,491.3L1052.5,494.9L1057.5,498.5L1062.4,502.1L1067.2,505.9L1071.9,509.7L1076.6,513.6L1081.1,517.6L1085.6,521.6L1089.9,525.7L1094.2,529.9L1098.3,534.2L1102.4,538.5L1106.4,542.9L1110.2,547.4L1114.0,551.9L1117.7,556.5L1121.2,561.2L1124.7,566.0L1128.1,570.9L1131.4,575.9L1134.6,580.9L1137.7,586.1L1140.7,591.4L1143.7,596.8L1146.5,602.2L1149.3,607.7L1152.0,613.3L1154.6,618.9L1157.0,624.6L1159.4,630.4L1161.7,636.2L1163.9,642.1L1166.0,648.0L1168.0,654.0L1169.9,660.1L1171.8,666.1L1173.5,672.3L1175.2,678.4L1176.8,684.7L1178.3,690.9L1179.7,697.2L1181.1,703.6L1182.4,710.0L1183.6,716.4L1184.7,722.9L1185.8,729.4L1186.8,735.9L1187.8,742.5L1188.6,749.1L1189.5,755.7L1190.2,762.4L1191.0,769.1L1191.6,775.8L1192.2,782.6L1192.8,789.3L1193.3,796.1L1193.8,802.9L1194.2,809.8L1194.6,816.6L1194.9,823.5L1195.2,830.5L1195.5,837.4L1195.7,844.4L1195.9,851.3L1196.0,858.3L1196.2,865.4L1196.3,872.4L1196.3,879.5L1196.4,886.6L1196.4,893.7L1196.4,900.8L1196.4,908.0L1196.4,915.2L1196.4,922.4L1196.3,929.6L1196.3,936.8L1196.3,944.0L1196.2,951.3L1196.2,958.6L1196.1,965.9L1196.1,973.2L1196.1,980.6L1196.1,987.9L1196.1,995.3L1196.1,1002.7L1196.1,1010.1" stroke="#c8cacc" stroke-width="6.4"/>
<path d="M639.4,411.1L646.7,411.1L654.1,411.2L661.4,411.3L668.6,411.3L675.9,411.4L683.1,411.4L690.3,411.5L697.5,411.6L704.6,411.7L711.7,411.8L718.8,412.0L725.9,412.2L732.9,412.3L739.9,412.6L746.9,412.8L753.9,413.1L760.8,413.4L767.7,413.7L774.5,414.1L781.4,414.5L788.2,415.0L795.0,415.5L801.7,416.0L808.5,416.6L815.2,417.3L821.8,418.0L828.5,418.7L835.1,419.5L841.7,420.4L848.2,421.3L854.8,422.3L861.3,423.3L867.7,424.4L874.2,425.6L880.6,426.8L887.0,428.1L893.4,429.5L899.8,431.0L906.1,432.5L912.5,434.1L918.8,435.8L925.1,437.5L931.3,439.4L937.6,441.3L943.8,443.3L949.9,445.4L956.0,447.5L962.1,449.8L968.2,452.1L974.1,454.5L980.1,456.9L986.0,459.5L991.8,462.1L997.6,464.9L1003.3,467.7L1008.9,470.5L1014.5,473.5L1020.0,476.5L1025.4,479.7L1030.8,482.9L1036.1,486.1L1041.3,489.5L1046.4,492.9L1051.4,496.4L1056.4,500.0L1061.2,503.7L1066.0,507.4L1070.7,511.2L1075.3,515.1L1079.8,519.0L1084.3,523.0L1088.6,527.1L1092.8,531.3L1097.0,535.5L1101.0,539.8L1104.9,544.2L1108.8,548.6L1112.5,553.1L1116.1,557.7L1119.7,562.4L1123.1,567.1L1126.5,572.0L1129.7,576.9L1132.9,582.0L1136.0,587.1L1139.0,592.4L1142.0,597.7L1144.8,603.1L1147.6,608.6L1150.2,614.1L1152.8,619.7L1155.2,625.4L1157.6,631.1L1159.9,636.9L1162.1,642.8L1164.2,648.7L1166.2,654.6L1168.1,660.7L1169.9,666.7L1171.6,672.8L1173.3,678.9L1174.9,685.1L1176.4,691.4L1177.8,697.7L1179.1,704.0L1180.4,710.3L1181.6,716.8L1182.7,723.2L1183.8,729.7L1184.8,736.2L1185.8,742.8L1186.6,749.4L1187.5,756.0L1188.2,762.6L1188.9,769.3L1189.6,776.0L1190.2,782.7L1190.8,789.5L1191.3,796.3L1191.7,803.1L1192.2,809.9L1192.5,816.8L1192.9,823.6L1193.1,830.5L1193.4,837.5L1193.6,844.4L1193.8,851.4L1194.0,858.4L1194.1,865.4L1194.2,872.5L1194.3,879.5L1194.3,886.6L1194.3,893.7L1194.4,900.8L1194.4,908.0L1194.3,915.2L1194.3,922.4L1194.3,929.6L1194.2,936.8L1194.2,944.0L1194.1,951.3L1194.1,958.6L1194.0,965.9L1194.0,973.2L1194.0,980.6L1194.0,987.9L1194.0,995.3L1194.0,1002.7L1194.0,1010.1" stroke="#c6c7c9" stroke-width="6.4"/>
<path d="M639.4,413.1L646.7,413.2L654.0,413.3L661.3,413.3L668.6,413.4L675.9,413.4L683.1,413.5L690.3,413.6L697.4,413.7L704.6,413.8L711.7,413.9L718.8,414.0L725.8,414.2L732.9,414.4L739.9,414.6L746.8,414.9L753.8,415.1L760.7,415.4L767.6,415.8L774.4,416.1L781.3,416.6L788.0,417.0L794.8,417.5L801.6,418.1L808.3,418.7L815.0,419.3L821.6,420.0L828.2,420.7L834.8,421.5L841.4,422.4L847.9,423.3L854.4,424.3L860.9,425.3L867.4,426.4L873.8,427.6L880.2,428.8L886.6,430.1L893.0,431.4L899.3,432.9L905.6,434.4L911.9,436.0L918.2,437.7L924.5,439.4L930.7,441.2L937.0,443.1L943.1,445.1L949.3,447.2L955.4,449.3L961.4,451.6L967.4,453.9L973.4,456.2L979.3,458.7L985.2,461.2L991.0,463.9L996.7,466.6L1002.4,469.4L1008.0,472.2L1013.6,475.2L1019.0,478.2L1024.5,481.3L1029.8,484.5L1035.0,487.7L1040.2,491.1L1045.3,494.5L1050.3,498.0L1055.3,501.5L1060.1,505.2L1064.9,508.9L1069.5,512.7L1074.1,516.5L1078.6,520.4L1083.0,524.4L1087.3,528.5L1091.5,532.6L1095.6,536.8L1099.6,541.1L1103.5,545.4L1107.3,549.9L1111.0,554.4L1114.6,558.9L1118.1,563.5L1121.5,568.3L1124.9,573.1L1128.1,578.0L1131.3,583.0L1134.4,588.1L1137.4,593.3L1140.3,598.6L1143.1,604.0L1145.8,609.4L1148.5,615.0L1151.0,620.5L1153.4,626.2L1155.8,631.9L1158.1,637.6L1160.2,643.5L1162.3,649.3L1164.3,655.3L1166.2,661.2L1168.0,667.3L1169.7,673.3L1171.4,679.5L1172.9,685.6L1174.4,691.8L1175.8,698.1L1177.2,704.4L1178.4,710.7L1179.6,717.1L1180.8,723.5L1181.8,730.0L1182.8,736.5L1183.8,743.1L1184.6,749.6L1185.5,756.2L1186.2,762.9L1186.9,769.5L1187.6,776.2L1188.2,782.9L1188.7,789.7L1189.2,796.4L1189.7,803.2L1190.1,810.0L1190.5,816.9L1190.8,823.7L1191.1,830.6L1191.4,837.5L1191.6,844.5L1191.8,851.5L1191.9,858.4L1192.0,865.5L1192.1,872.5L1192.2,879.5L1192.2,886.6L1192.3,893.7L1192.3,900.8L1192.3,908.0L1192.3,915.2L1192.2,922.3L1192.2,929.6L1192.1,936.8L1192.1,944.0L1192.1,951.3L1192.0,958.6L1192.0,965.9L1191.9,973.2L1191.9,980.5L1191.9,987.9L1191.9,995.3L1191.9,1002.7L1191.9,1010.1" stroke="#c4c5c7" stroke-width="6.4"/>
<path d="M639.3,415.2L646.7,415.3L654.0,415.3L661.3,415.4L668.6,415.4L675.8,415.5L683.1,415.6L690.2,415.7L697.4,415.7L704.5,415.8L711.6,416.0L718.7,416.1L725.8,416.3L732.8,416.5L739.8,416.7L746.7,416.9L753.7,417.2L760.6,417.5L767.5,417.8L774.3,418.2L781.1,418.6L787.9,419.1L794.7,419.6L801.4,420.1L808.1,420.7L814.7,421.3L821.4,422.0L828.0,422.8L834.6,423.5L841.1,424.4L847.6,425.3L854.1,426.3L860.6,427.3L867.0,428.4L873.4,429.5L879.8,430.7L886.2,432.0L892.5,433.4L898.8,434.8L905.1,436.3L911.4,437.9L917.7,439.6L923.9,441.3L930.2,443.1L936.4,445.0L942.5,447.0L948.6,449.0L954.7,451.2L960.7,453.4L966.7,455.6L972.7,458.0L978.6,460.5L984.4,463.0L990.2,465.6L995.9,468.3L1001.5,471.1L1007.1,473.9L1012.7,476.8L1018.1,479.8L1023.5,482.9L1028.8,486.1L1034.0,489.3L1039.2,492.7L1044.2,496.1L1049.2,499.5L1054.1,503.1L1058.9,506.7L1063.7,510.4L1068.3,514.1L1072.9,518.0L1077.3,521.9L1081.7,525.8L1085.9,529.9L1090.1,534.0L1094.2,538.2L1098.2,542.4L1102.1,546.7L1105.8,551.1L1109.5,555.6L1113.1,560.1L1116.6,564.7L1120.0,569.4L1123.3,574.1L1126.5,579.0L1129.6,584.0L1132.7,589.1L1135.7,594.3L1138.6,599.5L1141.4,604.9L1144.1,610.3L1146.7,615.8L1149.2,621.3L1151.6,626.9L1154.0,632.6L1156.2,638.4L1158.4,644.1L1160.4,650.0L1162.4,655.9L1164.3,661.8L1166.1,667.8L1167.8,673.9L1169.5,680.0L1171.0,686.1L1172.5,692.3L1173.9,698.5L1175.2,704.8L1176.5,711.1L1177.7,717.5L1178.8,723.9L1179.9,730.3L1180.8,736.8L1181.8,743.3L1182.6,749.9L1183.5,756.5L1184.2,763.1L1184.9,769.7L1185.6,776.4L1186.2,783.1L1186.7,789.8L1187.2,796.6L1187.7,803.4L1188.1,810.2L1188.4,817.0L1188.8,823.8L1189.1,830.7L1189.3,837.6L1189.5,844.6L1189.7,851.5L1189.8,858.5L1190.0,865.5L1190.1,872.5L1190.1,879.6L1190.2,886.6L1190.2,893.7L1190.2,900.9L1190.2,908.0L1190.2,915.2L1190.2,922.3L1190.1,929.5L1190.1,936.8L1190.0,944.0L1190.0,951.3L1189.9,958.6L1189.9,965.9L1189.9,973.2L1189.8,980.5L1189.8,987.9L1189.8,995.3L1189.9,1002.7L1189.9,1010.1" stroke="#c2c3c5" stroke-width="6.4"/>
<path d="M639.3,417.3L646.7,417.3L654.0,417.4L661.3,417.5L668.6,417.5L675.8,417.6L683.0,417.6L690.2,417.7L697.4,417.8L704.5,417.9L711.6,418.0L718.7,418.2L725.7,418.3L732.7,418.5L739.7,418.7L746.7,419.0L753.6,419.2L760.5,419.5L767.3,419.9L774.2,420.2L781.0,420.7L787.8,421.1L794.5,421.6L801.2,422.1L807.9,422.7L814.5,423.4L821.1,424.0L827.7,424.8L834.3,425.6L840.8,426.4L847.3,427.3L853.8,428.3L860.2,429.3L866.7,430.4L873.0,431.5L879.4,432.7L885.7,434.0L892.1,435.3L898.4,436.8L904.6,438.3L910.9,439.8L917.2,441.5L923.4,443.2L929.6,445.0L935.7,446.9L941.9,448.8L948.0,450.9L954.0,453.0L960.0,455.2L966.0,457.4L971.9,459.8L977.8,462.2L983.6,464.7L989.4,467.3L995.1,470.0L1000.7,472.8L1006.2,475.6L1011.7,478.5L1017.2,481.5L1022.5,484.6L1027.8,487.7L1033.0,490.9L1038.1,494.2L1043.2,497.6L1048.1,501.1L1053.0,504.6L1057.8,508.2L1062.5,511.9L1067.1,515.6L1071.6,519.4L1076.0,523.3L1080.4,527.2L1084.6,531.3L1088.8,535.3L1092.8,539.5L1096.8,543.7L1100.6,548.0L1104.4,552.4L1108.0,556.8L1111.6,561.3L1115.0,565.9L1118.4,570.5L1121.7,575.2L1124.9,580.1L1128.0,585.0L1131.0,590.1L1134.0,595.2L1136.8,600.5L1139.6,605.8L1142.3,611.2L1144.9,616.6L1147.4,622.1L1149.8,627.7L1152.2,633.4L1154.4,639.1L1156.5,644.8L1158.6,650.6L1160.5,656.5L1162.4,662.4L1164.2,668.4L1165.9,674.4L1167.5,680.5L1169.1,686.6L1170.6,692.8L1172.0,699.0L1173.3,705.2L1174.5,711.5L1175.7,717.9L1176.8,724.2L1177.9,730.7L1178.9,737.1L1179.8,743.6L1180.6,750.2L1181.5,756.7L1182.2,763.3L1182.9,770.0L1183.5,776.6L1184.1,783.3L1184.7,790.0L1185.2,796.7L1185.6,803.5L1186.0,810.3L1186.4,817.1L1186.7,823.9L1187.0,830.8L1187.3,837.7L1187.5,844.6L1187.6,851.6L1187.8,858.5L1187.9,865.5L1188.0,872.6L1188.1,879.6L1188.1,886.7L1188.1,893.7L1188.1,900.9L1188.1,908.0L1188.1,915.2L1188.1,922.3L1188.0,929.5L1188.0,936.8L1187.9,944.0L1187.9,951.3L1187.8,958.5L1187.8,965.9L1187.8,973.2L1187.8,980.5L1187.8,987.9L1187.8,995.3L1187.8,1002.7L1187.8,1010.1" stroke="#c0c1c3" stroke-width="6.4"/>
<path d="M639.3,419.3L646.7,419.4L654.0,419.5L661.3,419.5L668.6,419.6L675.8,419.6L683.0,419.7L690.2,419.8L697.3,419.9L704.5,420.0L711.6,420.1L718.6,420.2L725.7,420.4L732.7,420.6L739.6,420.8L746.6,421.0L753.5,421.3L760.4,421.6L767.2,421.9L774.1,422.3L780.8,422.7L787.6,423.2L794.3,423.6L801.0,424.2L807.7,424.8L814.3,425.4L820.9,426.1L827.5,426.8L834.0,427.6L840.5,428.4L847.0,429.3L853.5,430.3L859.9,431.3L866.3,432.3L872.7,433.5L879.0,434.7L885.3,435.9L891.6,437.3L897.9,438.7L904.2,440.2L910.4,441.7L916.6,443.4L922.8,445.1L929.0,446.9L935.1,448.7L941.3,450.7L947.3,452.7L953.4,454.8L959.3,457.0L965.3,459.2L971.2,461.6L977.0,464.0L982.8,466.5L988.5,469.1L994.2,471.7L999.8,474.5L1005.4,477.3L1010.8,480.2L1016.2,483.1L1021.6,486.2L1026.8,489.3L1032.0,492.5L1037.1,495.8L1042.1,499.2L1047.0,502.6L1051.9,506.1L1056.6,509.7L1061.3,513.4L1065.9,517.1L1070.4,520.9L1074.8,524.7L1079.1,528.6L1083.3,532.6L1087.4,536.7L1091.4,540.8L1095.4,545.0L1099.2,549.3L1102.9,553.6L1106.5,558.0L1110.1,562.5L1113.5,567.0L1116.8,571.6L1120.1,576.3L1123.2,581.1L1126.3,586.1L1129.3,591.1L1132.3,596.2L1135.1,601.4L1137.9,606.7L1140.6,612.0L1143.2,617.4L1145.6,622.9L1148.0,628.5L1150.3,634.1L1152.6,639.8L1154.7,645.5L1156.7,651.3L1158.7,657.1L1160.5,663.0L1162.3,669.0L1164.0,675.0L1165.6,681.0L1167.2,687.1L1168.6,693.2L1170.0,699.4L1171.3,705.6L1172.6,711.9L1173.7,718.2L1174.8,724.6L1175.9,731.0L1176.9,737.4L1177.8,743.9L1178.6,750.4L1179.4,757.0L1180.2,763.6L1180.9,770.2L1181.5,776.8L1182.1,783.5L1182.7,790.2L1183.2,796.9L1183.6,803.6L1184.0,810.4L1184.4,817.2L1184.7,824.0L1185.0,830.9L1185.2,837.8L1185.4,844.7L1185.6,851.6L1185.7,858.6L1185.8,865.6L1185.9,872.6L1186.0,879.6L1186.0,886.7L1186.1,893.8L1186.1,900.9L1186.1,908.0L1186.0,915.2L1186.0,922.3L1186.0,929.5L1185.9,936.7L1185.9,944.0L1185.8,951.3L1185.8,958.5L1185.7,965.8L1185.7,973.2L1185.7,980.5L1185.7,987.9L1185.7,995.3L1185.7,1002.7L1185.7,1010.1" stroke="#bebfc1" stroke-width="6.4"/>
<path d="M639.3,421.4L646.7,421.5L654.0,421.5L661.3,421.6L668.5,421.6L675.8,421.7L683.0,421.8L690.2,421.8L697.3,421.9L704.4,422.0L711.5,422.2L718.6,422.3L725.6,422.4L732.6,422.6L739.6,422.8L746.5,423.1L753.4,423.3L760.3,423.6L767.1,424.0L773.9,424.3L780.7,424.8L787.5,425.2L794.2,425.7L800.8,426.2L807.5,426.8L814.1,427.4L820.7,428.1L827.2,428.8L833.8,429.6L840.3,430.4L846.7,431.3L853.2,432.3L859.6,433.3L865.9,434.3L872.3,435.5L878.6,436.6L884.9,437.9L891.2,439.2L897.4,440.6L903.7,442.1L909.9,443.6L916.1,445.3L922.3,447.0L928.4,448.7L934.5,450.6L940.6,452.5L946.7,454.5L952.7,456.6L958.7,458.8L964.6,461.0L970.4,463.3L976.3,465.7L982.0,468.2L987.7,470.8L993.4,473.4L999.0,476.2L1004.5,479.0L1009.9,481.8L1015.3,484.8L1020.6,487.8L1025.8,491.0L1031.0,494.1L1036.1,497.4L1041.0,500.8L1045.9,504.2L1050.8,507.7L1055.5,511.2L1060.1,514.9L1064.7,518.6L1069.1,522.3L1073.5,526.2L1077.8,530.1L1082.0,534.0L1086.1,538.1L1090.1,542.2L1093.9,546.3L1097.7,550.6L1101.4,554.9L1105.0,559.2L1108.5,563.7L1111.9,568.2L1115.2,572.7L1118.5,577.4L1121.6,582.2L1124.7,587.1L1127.7,592.1L1130.6,597.1L1133.4,602.3L1136.2,607.6L1138.8,612.9L1141.4,618.3L1143.9,623.7L1146.2,629.3L1148.5,634.8L1150.7,640.5L1152.8,646.2L1154.9,651.9L1156.8,657.8L1158.7,663.6L1160.4,669.5L1162.1,675.5L1163.7,681.5L1165.2,687.6L1166.7,693.7L1168.1,699.8L1169.4,706.0L1170.6,712.3L1171.8,718.6L1172.9,724.9L1173.9,731.3L1174.9,737.7L1175.8,744.2L1176.6,750.7L1177.4,757.2L1178.2,763.8L1178.9,770.4L1179.5,777.0L1180.1,783.7L1180.6,790.3L1181.1,797.0L1181.6,803.8L1182.0,810.5L1182.3,817.3L1182.6,824.1L1182.9,831.0L1183.2,837.9L1183.4,844.8L1183.5,851.7L1183.7,858.6L1183.8,865.6L1183.9,872.6L1183.9,879.6L1184.0,886.7L1184.0,893.8L1184.0,900.9L1184.0,908.0L1184.0,915.1L1183.9,922.3L1183.9,929.5L1183.8,936.7L1183.8,944.0L1183.7,951.2L1183.7,958.5L1183.6,965.8L1183.6,973.2L1183.6,980.5L1183.6,987.9L1183.6,995.3L1183.7,1002.7L1183.7,1010.1" stroke="#bcbcbe" stroke-width="6.4"/>
<path d="M639.3,423.5L646.6,423.5L654.0,423.6L661.3,423.6L668.5,423.7L675.8,423.8L683.0,423.8L690.1,423.9L697.3,424.0L704.4,424.1L711.5,424.2L718.5,424.4L725.6,424.5L732.5,424.7L739.5,424.9L746.4,425.1L753.3,425.4L760.2,425.7L767.0,426.0L773.8,426.4L780.6,426.8L787.3,427.2L794.0,427.7L800.7,428.3L807.3,428.8L813.9,429.5L820.5,430.1L827.0,430.8L833.5,431.6L840.0,432.4L846.4,433.3L852.8,434.3L859.2,435.3L865.6,436.3L871.9,437.4L878.2,438.6L884.5,439.9L890.7,441.2L896.9,442.6L903.2,444.0L909.4,445.6L915.6,447.2L921.7,448.8L927.8,450.6L933.9,452.4L940.0,454.4L946.0,456.3L952.0,458.4L958.0,460.6L963.9,462.8L969.7,465.1L975.5,467.5L981.2,470.0L986.9,472.5L992.5,475.1L998.1,477.8L1003.6,480.6L1009.0,483.5L1014.4,486.5L1019.7,489.5L1024.9,492.6L1030.0,495.8L1035.0,499.0L1040.0,502.3L1044.9,505.7L1049.6,509.2L1054.3,512.7L1059.0,516.3L1063.5,520.0L1067.9,523.8L1072.3,527.6L1076.5,531.5L1080.7,535.4L1084.7,539.4L1088.7,543.5L1092.5,547.6L1096.3,551.8L1100.0,556.1L1103.5,560.5L1107.0,564.9L1110.4,569.3L1113.7,573.9L1116.9,578.5L1120.0,583.3L1123.0,588.1L1126.0,593.1L1128.9,598.1L1131.7,603.2L1134.4,608.5L1137.1,613.7L1139.6,619.1L1142.1,624.5L1144.4,630.0L1146.7,635.6L1148.9,641.2L1151.0,646.9L1153.0,652.6L1154.9,658.4L1156.8,664.2L1158.5,670.1L1160.2,676.0L1161.8,682.0L1163.3,688.1L1164.8,694.1L1166.1,700.3L1167.4,706.5L1168.7,712.7L1169.8,719.0L1170.9,725.3L1171.9,731.6L1172.9,738.0L1173.8,744.5L1174.6,751.0L1175.4,757.5L1176.2,764.0L1176.9,770.6L1177.5,777.2L1178.1,783.8L1178.6,790.5L1179.1,797.2L1179.5,803.9L1179.9,810.7L1180.3,817.4L1180.6,824.2L1180.9,831.1L1181.1,837.9L1181.3,844.8L1181.5,851.7L1181.6,858.7L1181.7,865.7L1181.8,872.6L1181.9,879.7L1181.9,886.7L1181.9,893.8L1181.9,900.9L1181.9,908.0L1181.9,915.1L1181.8,922.3L1181.8,929.5L1181.8,936.7L1181.7,944.0L1181.7,951.2L1181.6,958.5L1181.6,965.8L1181.5,973.1L1181.5,980.5L1181.5,987.9L1181.5,995.3L1181.6,1002.7L1181.6,1010.1" stroke="#b9babc" stroke-width="6.4"/>
<path d="M639.3,425.5L646.6,425.6L653.9,425.7L661.2,425.7L668.5,425.8L675.7,425.8L682.9,425.9L690.1,426.0L697.3,426.1L704.4,426.2L711.4,426.3L718.5,426.4L725.5,426.6L732.5,426.7L739.4,427.0L746.4,427.2L753.2,427.5L760.1,427.7L766.9,428.1L773.7,428.4L780.4,428.8L787.2,429.3L793.8,429.8L800.5,430.3L807.1,430.9L813.7,431.5L820.2,432.1L826.8,432.9L833.2,433.6L839.7,434.4L846.1,435.3L852.5,436.3L858.9,437.2L865.2,438.3L871.5,439.4L877.8,440.6L884.0,441.8L890.3,443.1L896.5,444.5L902.7,445.9L908.9,447.5L915.0,449.1L921.1,450.7L927.3,452.5L933.3,454.3L939.4,456.2L945.4,458.2L951.3,460.2L957.3,462.4L963.1,464.6L969.0,466.9L974.7,469.2L980.5,471.7L986.1,474.2L991.7,476.9L997.2,479.5L1002.7,482.3L1008.1,485.2L1013.4,488.1L1018.7,491.1L1023.9,494.2L1029.0,497.4L1034.0,500.6L1038.9,503.9L1043.8,507.3L1048.5,510.7L1053.2,514.3L1057.8,517.8L1062.3,521.5L1066.7,525.2L1071.0,529.0L1075.2,532.9L1079.3,536.8L1083.4,540.8L1087.3,544.8L1091.1,548.9L1094.9,553.1L1098.5,557.4L1102.0,561.7L1105.5,566.0L1108.8,570.5L1112.1,575.0L1115.3,579.6L1118.4,584.3L1121.4,589.1L1124.3,594.1L1127.2,599.1L1130.0,604.2L1132.7,609.4L1135.3,614.6L1137.9,619.9L1140.3,625.3L1142.6,630.8L1144.9,636.3L1147.1,641.9L1149.2,647.5L1151.2,653.2L1153.1,659.0L1154.9,664.8L1156.6,670.7L1158.3,676.6L1159.9,682.5L1161.4,688.5L1162.8,694.6L1164.2,700.7L1165.5,706.9L1166.7,713.1L1167.8,719.3L1168.9,725.6L1169.9,732.0L1170.9,738.3L1171.8,744.8L1172.6,751.2L1173.4,757.7L1174.2,764.3L1174.8,770.8L1175.5,777.4L1176.1,784.0L1176.6,790.7L1177.1,797.3L1177.5,804.0L1177.9,810.8L1178.2,817.5L1178.5,824.3L1178.8,831.2L1179.1,838.0L1179.3,844.9L1179.4,851.8L1179.6,858.7L1179.7,865.7L1179.7,872.7L1179.8,879.7L1179.8,886.7L1179.9,893.8L1179.8,900.9L1179.8,908.0L1179.8,915.1L1179.8,922.3L1179.7,929.5L1179.7,936.7L1179.6,944.0L1179.6,951.2L1179.5,958.5L1179.5,965.8L1179.5,973.1L1179.4,980.5L1179.5,987.9L1179.5,995.3L1179.5,1002.7L1179.5,1010.1" stroke="#b7b8ba" stroke-width="6.4"/>
<path d="M639.2,427.6L646.6,427.7L653.9,427.7L661.2,427.8L668.5,427.8L675.7,427.9L682.9,428.0L690.1,428.0L697.2,428.1L704.3,428.2L711.4,428.3L718.4,428.5L725.5,428.6L732.4,428.8L739.4,429.0L746.3,429.2L753.1,429.5L760.0,429.8L766.8,430.1L773.6,430.5L780.3,430.9L787.0,431.3L793.7,431.8L800.3,432.3L806.9,432.9L813.5,433.5L820.0,434.2L826.5,434.9L833.0,435.6L839.4,436.5L845.8,437.3L852.2,438.3L858.5,439.2L864.8,440.3L871.1,441.4L877.4,442.5L883.6,443.8L889.8,445.1L896.0,446.4L902.2,447.9L908.3,449.4L914.5,451.0L920.6,452.6L926.7,454.3L932.7,456.2L938.7,458.0L944.7,460.0L950.7,462.0L956.6,464.2L962.4,466.4L968.2,468.6L974.0,471.0L979.7,473.4L985.3,476.0L990.9,478.6L996.4,481.2L1001.8,484.0L1007.2,486.8L1012.5,489.8L1017.7,492.7L1022.9,495.8L1028.0,499.0L1032.9,502.2L1037.8,505.5L1042.7,508.8L1047.4,512.3L1052.0,515.8L1056.6,519.3L1061.1,523.0L1065.4,526.7L1069.7,530.4L1073.9,534.3L1078.0,538.2L1082.0,542.1L1085.9,546.2L1089.7,550.2L1093.4,554.4L1097.0,558.6L1100.6,562.9L1104.0,567.2L1107.3,571.6L1110.5,576.1L1113.7,580.7L1116.7,585.4L1119.7,590.2L1122.7,595.0L1125.5,600.0L1128.3,605.1L1131.0,610.2L1133.6,615.5L1136.1,620.8L1138.5,626.1L1140.8,631.6L1143.1,637.1L1145.2,642.6L1147.3,648.2L1149.3,653.9L1151.2,659.6L1153.0,665.4L1154.7,671.2L1156.4,677.1L1158.0,683.0L1159.5,689.0L1160.9,695.1L1162.2,701.1L1163.5,707.3L1164.7,713.5L1165.9,719.7L1166.9,726.0L1168.0,732.3L1168.9,738.7L1169.8,745.1L1170.6,751.5L1171.4,758.0L1172.2,764.5L1172.8,771.0L1173.5,777.6L1174.0,784.2L1174.6,790.8L1175.0,797.5L1175.5,804.2L1175.9,810.9L1176.2,817.7L1176.5,824.4L1176.8,831.2L1177.0,838.1L1177.2,845.0L1177.4,851.9L1177.5,858.8L1177.6,865.7L1177.7,872.7L1177.7,879.7L1177.8,886.7L1177.8,893.8L1177.8,900.9L1177.8,908.0L1177.7,915.1L1177.7,922.3L1177.6,929.5L1177.6,936.7L1177.5,943.9L1177.5,951.2L1177.4,958.5L1177.4,965.8L1177.4,973.1L1177.4,980.5L1177.4,987.8L1177.4,995.2L1177.4,1002.7L1177.5,1010.1" stroke="#b5b6b8" stroke-width="6.4"/>
<path d="M639.2,429.7L646.6,429.7L653.9,429.8L661.2,429.8L668.5,429.9L675.7,430.0L682.9,430.0L690.1,430.1L697.2,430.2L704.3,430.3L711.4,430.4L718.4,430.5L725.4,430.7L732.4,430.9L739.3,431.1L746.2,431.3L753.1,431.6L759.9,431.9L766.7,432.2L773.4,432.5L780.2,432.9L786.9,433.4L793.5,433.9L800.1,434.4L806.7,434.9L813.3,435.5L819.8,436.2L826.3,436.9L832.7,437.7L839.1,438.5L845.5,439.3L851.9,440.3L858.2,441.2L864.5,442.3L870.7,443.3L877.0,444.5L883.2,445.7L889.4,447.0L895.5,448.4L901.7,449.8L907.8,451.3L913.9,452.9L920.0,454.5L926.1,456.2L932.1,458.0L938.1,459.9L944.1,461.8L950.0,463.9L955.9,466.0L961.7,468.2L967.5,470.4L973.2,472.8L978.9,475.2L984.5,477.7L990.0,480.3L995.5,482.9L1001.0,485.7L1006.3,488.5L1011.6,491.4L1016.8,494.4L1021.9,497.4L1026.9,500.6L1031.9,503.8L1036.8,507.0L1041.6,510.4L1046.3,513.8L1050.9,517.3L1055.4,520.8L1059.9,524.4L1064.2,528.1L1068.5,531.9L1072.6,535.7L1076.7,539.6L1080.7,543.5L1084.5,547.5L1088.3,551.6L1092.0,555.7L1095.6,559.9L1099.1,564.1L1102.4,568.4L1105.7,572.8L1108.9,577.2L1112.1,581.8L1115.1,586.4L1118.1,591.2L1121.0,596.0L1123.8,601.0L1126.6,606.0L1129.2,611.1L1131.8,616.3L1134.3,621.6L1136.7,626.9L1139.0,632.3L1141.3,637.8L1143.4,643.3L1145.5,648.9L1147.4,654.5L1149.3,660.2L1151.1,666.0L1152.9,671.8L1154.5,677.6L1156.1,683.6L1157.5,689.5L1159.0,695.5L1160.3,701.6L1161.6,707.7L1162.8,713.9L1163.9,720.1L1165.0,726.3L1166.0,732.6L1166.9,739.0L1167.8,745.3L1168.6,751.8L1169.4,758.2L1170.1,764.7L1170.8,771.2L1171.4,777.8L1172.0,784.4L1172.5,791.0L1173.0,797.6L1173.4,804.3L1173.8,811.0L1174.2,817.8L1174.5,824.5L1174.7,831.3L1175.0,838.2L1175.1,845.0L1175.3,851.9L1175.4,858.8L1175.5,865.8L1175.6,872.7L1175.7,879.7L1175.7,886.8L1175.7,893.8L1175.7,900.9L1175.7,908.0L1175.7,915.1L1175.6,922.3L1175.6,929.5L1175.5,936.7L1175.5,943.9L1175.4,951.2L1175.4,958.5L1175.3,965.8L1175.3,973.1L1175.3,980.5L1175.3,987.8L1175.3,995.2L1175.4,1002.7L1175.4,1010.1" stroke="#b3b4b6" stroke-width="6.4"/>
<path d="M639.2,431.7L646.6,431.8L653.9,431.8L661.2,431.9L668.5,432.0L675.7,432.0L682.9,432.1L690.0,432.2L697.2,432.2L704.3,432.3L711.3,432.5L718.4,432.6L725.3,432.7L732.3,432.9L739.2,433.1L746.1,433.4L753.0,433.6L759.8,433.9L766.6,434.2L773.3,434.6L780.0,435.0L786.7,435.4L793.3,435.9L800.0,436.4L806.5,437.0L813.1,437.6L819.6,438.2L826.0,438.9L832.5,439.7L838.9,440.5L845.2,441.3L851.6,442.2L857.9,443.2L864.1,444.2L870.4,445.3L876.6,446.5L882.7,447.7L888.9,448.9L895.1,450.3L901.2,451.7L907.3,453.2L913.4,454.7L919.5,456.4L925.5,458.1L931.5,459.9L937.5,461.7L943.4,463.7L949.3,465.7L955.2,467.8L961.0,469.9L966.7,472.2L972.4,474.5L978.1,476.9L983.7,479.4L989.2,482.0L994.7,484.6L1000.1,487.4L1005.4,490.2L1010.6,493.1L1015.8,496.0L1020.9,499.1L1025.9,502.2L1030.9,505.4L1035.7,508.6L1040.5,511.9L1045.2,515.3L1049.7,518.8L1054.2,522.3L1058.7,525.9L1063.0,529.6L1067.2,533.3L1071.3,537.1L1075.4,540.9L1079.3,544.9L1083.1,548.8L1086.9,552.9L1090.5,557.0L1094.1,561.1L1097.6,565.3L1100.9,569.6L1104.2,574.0L1107.4,578.4L1110.5,582.9L1113.5,587.5L1116.4,592.2L1119.3,597.0L1122.1,601.9L1124.9,607.0L1127.5,612.0L1130.1,617.2L1132.6,622.4L1134.9,627.7L1137.2,633.1L1139.5,638.5L1141.6,644.0L1143.6,649.6L1145.6,655.2L1147.5,660.9L1149.2,666.6L1151.0,672.4L1152.6,678.2L1154.1,684.1L1155.6,690.0L1157.0,696.0L1158.4,702.0L1159.6,708.1L1160.8,714.2L1161.9,720.4L1163.0,726.7L1164.0,732.9L1164.9,739.3L1165.8,745.6L1166.6,752.0L1167.4,758.5L1168.1,765.0L1168.8,771.5L1169.4,778.0L1170.0,784.6L1170.5,791.2L1171.0,797.8L1171.4,804.5L1171.8,811.2L1172.1,817.9L1172.4,824.6L1172.7,831.4L1172.9,838.2L1173.1,845.1L1173.3,852.0L1173.4,858.9L1173.5,865.8L1173.6,872.8L1173.6,879.8L1173.6,886.8L1173.6,893.8L1173.6,900.9L1173.6,908.0L1173.6,915.1L1173.5,922.3L1173.5,929.5L1173.4,936.7L1173.4,943.9L1173.3,951.2L1173.3,958.5L1173.3,965.8L1173.2,973.1L1173.2,980.5L1173.2,987.8L1173.3,995.2L1173.3,1002.7L1173.3,1010.1" stroke="#b1b2b4" stroke-width="6.4"/>
<path d="M639.2,433.8L646.6,433.9L653.9,433.9L661.2,434.0L668.4,434.0L675.7,434.1L682.9,434.1L690.0,434.2L697.1,434.3L704.2,434.4L711.3,434.5L718.3,434.7L725.3,434.8L732.2,435.0L739.2,435.2L746.0,435.4L752.9,435.7L759.7,436.0L766.5,436.3L773.2,436.6L779.9,437.0L786.6,437.5L793.2,437.9L799.8,438.4L806.3,439.0L812.8,439.6L819.3,440.3L825.8,441.0L832.2,441.7L838.6,442.5L844.9,443.3L851.2,444.2L857.5,445.2L863.8,446.2L870.0,447.3L876.2,448.4L882.3,449.6L888.5,450.9L894.6,452.2L900.7,453.6L906.8,455.1L912.9,456.6L918.9,458.3L924.9,460.0L930.9,461.7L936.9,463.6L942.8,465.5L948.7,467.5L954.5,469.6L960.3,471.7L966.0,474.0L971.7,476.3L977.3,478.7L982.9,481.1L988.4,483.7L993.8,486.3L999.2,489.0L1004.5,491.8L1009.7,494.7L1014.9,497.7L1019.9,500.7L1024.9,503.8L1029.8,506.9L1034.6,510.2L1039.4,513.5L1044.0,516.9L1048.6,520.3L1053.1,523.8L1057.4,527.4L1061.7,531.0L1065.9,534.7L1070.0,538.5L1074.0,542.3L1077.9,546.2L1081.8,550.2L1085.5,554.2L1089.1,558.2L1092.6,562.4L1096.1,566.6L1099.4,570.8L1102.6,575.1L1105.8,579.5L1108.9,584.0L1111.9,588.5L1114.8,593.2L1117.7,598.0L1120.4,602.9L1123.2,607.9L1125.8,612.9L1128.3,618.1L1130.8,623.3L1133.2,628.5L1135.4,633.9L1137.6,639.3L1139.8,644.7L1141.8,650.3L1143.7,655.8L1145.6,661.5L1147.4,667.2L1149.1,672.9L1150.7,678.7L1152.2,684.6L1153.7,690.5L1155.1,696.4L1156.4,702.5L1157.7,708.5L1158.9,714.6L1160.0,720.8L1161.0,727.0L1162.0,733.3L1163.0,739.6L1163.8,745.9L1164.6,752.3L1165.4,758.7L1166.1,765.2L1166.8,771.7L1167.4,778.2L1168.0,784.7L1168.5,791.3L1168.9,797.9L1169.4,804.6L1169.7,811.3L1170.1,818.0L1170.4,824.7L1170.6,831.5L1170.9,838.3L1171.0,845.2L1171.2,852.0L1171.3,858.9L1171.4,865.8L1171.5,872.8L1171.5,879.8L1171.6,886.8L1171.6,893.8L1171.6,900.9L1171.5,908.0L1171.5,915.1L1171.5,922.3L1171.4,929.5L1171.4,936.7L1171.3,943.9L1171.3,951.2L1171.2,958.4L1171.2,965.8L1171.1,973.1L1171.1,980.4L1171.2,987.8L1171.2,995.2L1171.2,1002.7L1171.2,1010.1" stroke="#aeb0b2" stroke-width="6.4"/>
<path d="M639.2,435.9L646.5,435.9L653.9,436.0L661.2,436.0L668.4,436.1L675.6,436.1L682.8,436.2L690.0,436.3L697.1,436.4L704.2,436.5L711.2,436.6L718.3,436.7L725.2,436.9L732.2,437.0L739.1,437.2L746.0,437.5L752.8,437.7L759.6,438.0L766.3,438.3L773.1,438.7L779.8,439.1L786.4,439.5L793.0,440.0L799.6,440.5L806.1,441.0L812.6,441.6L819.1,442.3L825.5,443.0L831.9,443.7L838.3,444.5L844.6,445.3L850.9,446.2L857.2,447.2L863.4,448.2L869.6,449.3L875.8,450.4L881.9,451.6L888.0,452.8L894.1,454.2L900.2,455.6L906.3,457.0L912.3,458.5L918.3,460.1L924.3,461.8L930.3,463.6L936.2,465.4L942.1,467.3L948.0,469.3L953.8,471.4L959.6,473.5L965.3,475.7L970.9,478.0L976.5,480.4L982.1,482.9L987.5,485.4L993.0,488.0L998.3,490.7L1003.6,493.5L1008.8,496.4L1013.9,499.3L1018.9,502.3L1023.9,505.4L1028.8,508.5L1033.6,511.7L1038.3,515.0L1042.9,518.4L1047.4,521.8L1051.9,525.3L1056.2,528.9L1060.5,532.5L1064.7,536.2L1068.7,539.9L1072.7,543.7L1076.6,547.6L1080.4,551.5L1084.1,555.5L1087.7,559.5L1091.2,563.6L1094.6,567.8L1097.9,572.0L1101.1,576.3L1104.2,580.6L1107.2,585.1L1110.2,589.6L1113.1,594.3L1116.0,599.0L1118.8,603.9L1121.4,608.8L1124.1,613.8L1126.6,618.9L1129.0,624.1L1131.4,629.3L1133.6,634.6L1135.8,640.0L1137.9,645.4L1139.9,650.9L1141.9,656.5L1143.7,662.1L1145.5,667.8L1147.2,673.5L1148.8,679.3L1150.3,685.1L1151.8,691.0L1153.2,696.9L1154.5,702.9L1155.7,708.9L1156.9,715.0L1158.0,721.2L1159.1,727.4L1160.0,733.6L1161.0,739.9L1161.8,746.2L1162.6,752.6L1163.4,759.0L1164.1,765.4L1164.8,771.9L1165.4,778.4L1165.9,784.9L1166.4,791.5L1166.9,798.1L1167.3,804.7L1167.7,811.4L1168.0,818.1L1168.3,824.8L1168.6,831.6L1168.8,838.4L1169.0,845.2L1169.1,852.1L1169.3,859.0L1169.4,865.9L1169.4,872.8L1169.5,879.8L1169.5,886.8L1169.5,893.9L1169.5,900.9L1169.5,908.0L1169.4,915.1L1169.4,922.3L1169.3,929.5L1169.3,936.7L1169.2,943.9L1169.2,951.1L1169.1,958.4L1169.1,965.7L1169.1,973.1L1169.1,980.4L1169.1,987.8L1169.1,995.2L1169.2,1002.7L1169.2,1010.1" stroke="#acadaf" stroke-width="6.4"/>
<path d="M639.2,437.9L646.5,438.0L653.8,438.0L661.1,438.1L668.4,438.2L675.6,438.2L682.8,438.3L690.0,438.3L697.1,438.4L704.2,438.5L711.2,438.6L718.2,438.8L725.2,438.9L732.1,439.1L739.0,439.3L745.9,439.5L752.7,439.8L759.5,440.1L766.2,440.4L772.9,440.7L779.6,441.1L786.3,441.5L792.9,442.0L799.4,442.5L805.9,443.1L812.4,443.7L818.9,444.3L825.3,445.0L831.7,445.7L838.0,446.5L844.3,447.4L850.6,448.2L856.8,449.2L863.0,450.2L869.2,451.2L875.3,452.4L881.5,453.5L887.6,454.8L893.6,456.1L899.7,457.5L905.8,458.9L911.8,460.4L917.8,462.0L923.8,463.7L929.7,465.4L935.6,467.3L941.5,469.2L947.3,471.1L953.1,473.2L958.8,475.3L964.5,477.5L970.2,479.8L975.7,482.2L981.3,484.6L986.7,487.1L992.1,489.7L997.4,492.4L1002.7,495.2L1007.8,498.0L1012.9,500.9L1018.0,503.9L1022.9,507.0L1027.7,510.1L1032.5,513.3L1037.2,516.6L1041.8,519.9L1046.3,523.3L1050.7,526.8L1055.0,530.3L1059.3,533.9L1063.4,537.6L1067.4,541.3L1071.4,545.1L1075.2,548.9L1079.0,552.8L1082.7,556.8L1086.2,560.8L1089.7,564.9L1093.1,569.0L1096.4,573.2L1099.5,577.4L1102.6,581.7L1105.6,586.1L1108.6,590.7L1111.5,595.3L1114.3,600.0L1117.1,604.8L1119.7,609.7L1122.3,614.7L1124.8,619.8L1127.3,624.9L1129.6,630.1L1131.8,635.4L1134.0,640.8L1136.1,646.2L1138.1,651.6L1140.0,657.1L1141.8,662.7L1143.6,668.4L1145.3,674.1L1146.9,679.8L1148.4,685.6L1149.8,691.5L1151.2,697.4L1152.5,703.3L1153.8,709.3L1154.9,715.4L1156.0,721.5L1157.1,727.7L1158.1,733.9L1159.0,740.2L1159.8,746.5L1160.6,752.8L1161.4,759.2L1162.1,765.6L1162.8,772.1L1163.4,778.6L1163.9,785.1L1164.4,791.7L1164.9,798.3L1165.3,804.9L1165.7,811.5L1166.0,818.2L1166.3,824.9L1166.5,831.7L1166.8,838.5L1166.9,845.3L1167.1,852.1L1167.2,859.0L1167.3,865.9L1167.4,872.9L1167.4,879.8L1167.4,886.8L1167.4,893.9L1167.4,900.9L1167.4,908.0L1167.4,915.1L1167.3,922.3L1167.3,929.4L1167.2,936.6L1167.1,943.9L1167.1,951.1L1167.0,958.4L1167.0,965.7L1167.0,973.1L1167.0,980.4L1167.0,987.8L1167.0,995.2L1167.1,1002.7L1167.1,1010.1" stroke="#aaabad" stroke-width="6.4"/>
<path d="M639.1,440.0L646.5,440.1L653.8,440.1L661.1,440.2L668.4,440.2L675.6,440.3L682.8,440.3L689.9,440.4L697.0,440.5L704.1,440.6L711.2,440.7L718.2,440.8L725.1,441.0L732.1,441.2L738.9,441.4L745.8,441.6L752.6,441.8L759.4,442.1L766.1,442.4L772.8,442.8L779.5,443.2L786.1,443.6L792.7,444.1L799.2,444.6L805.7,445.1L812.2,445.7L818.6,446.3L825.0,447.0L831.4,447.7L837.7,448.5L844.0,449.4L850.3,450.2L856.5,451.2L862.7,452.2L868.8,453.2L874.9,454.3L881.0,455.5L887.1,456.7L893.2,458.0L899.2,459.4L905.2,460.8L911.2,462.3L917.2,463.9L923.2,465.6L929.1,467.3L935.0,469.1L940.8,471.0L946.6,472.9L952.4,475.0L958.1,477.1L963.8,479.3L969.4,481.6L975.0,483.9L980.4,486.3L985.9,488.8L991.2,491.4L996.5,494.1L1001.8,496.8L1006.9,499.7L1012.0,502.6L1017.0,505.5L1021.9,508.6L1026.7,511.7L1031.4,514.9L1036.1,518.1L1040.7,521.5L1045.1,524.9L1049.5,528.3L1053.8,531.8L1058.0,535.4L1062.1,539.0L1066.1,542.7L1070.1,546.5L1073.9,550.3L1077.6,554.2L1081.3,558.1L1084.8,562.1L1088.2,566.1L1091.6,570.2L1094.8,574.4L1098.0,578.6L1101.1,582.9L1104.0,587.2L1107.0,591.7L1109.8,596.3L1112.6,601.0L1115.4,605.8L1118.0,610.7L1120.6,615.6L1123.1,620.7L1125.5,625.8L1127.8,630.9L1130.0,636.2L1132.2,641.5L1134.3,646.9L1136.3,652.3L1138.2,657.8L1140.0,663.3L1141.7,669.0L1143.4,674.6L1145.0,680.3L1146.5,686.1L1147.9,691.9L1149.3,697.8L1150.6,703.8L1151.8,709.8L1153.0,715.8L1154.1,721.9L1155.1,728.0L1156.1,734.2L1157.0,740.5L1157.8,746.8L1158.6,753.1L1159.4,759.5L1160.1,765.9L1160.7,772.3L1161.3,778.8L1161.9,785.3L1162.4,791.8L1162.8,798.4L1163.3,805.0L1163.6,811.7L1164.0,818.3L1164.2,825.0L1164.5,831.8L1164.7,838.6L1164.9,845.4L1165.0,852.2L1165.1,859.1L1165.2,866.0L1165.3,872.9L1165.3,879.9L1165.4,886.9L1165.4,893.9L1165.3,900.9L1165.3,908.0L1165.3,915.1L1165.2,922.3L1165.2,929.4L1165.1,936.6L1165.1,943.9L1165.0,951.1L1165.0,958.4L1164.9,965.7L1164.9,973.0L1164.9,980.4L1164.9,987.8L1165.0,995.2L1165.0,1002.7L1165.0,1010.1" stroke="#a8a9ab" stroke-width="6.4"/>
<path d="M639.1,442.1L646.5,442.1L653.8,442.2L661.1,442.2L668.4,442.3L675.6,442.3L682.8,442.4L689.9,442.5L697.0,442.6L704.1,442.6L711.1,442.8L718.1,442.9L725.1,443.0L732.0,443.2L738.9,443.4L745.7,443.6L752.5,443.9L759.3,444.2L766.0,444.5L772.7,444.8L779.3,445.2L786.0,445.6L792.5,446.1L799.1,446.6L805.6,447.1L812.0,447.7L818.4,448.4L824.8,449.0L831.1,449.8L837.4,450.5L843.7,451.4L849.9,452.2L856.1,453.2L862.3,454.2L868.4,455.2L874.5,456.3L880.6,457.5L886.7,458.7L892.7,460.0L898.7,461.3L904.7,462.7L910.7,464.2L916.7,465.8L922.6,467.4L928.5,469.2L934.4,470.9L940.2,472.8L946.0,474.8L951.7,476.8L957.4,478.9L963.0,481.1L968.6,483.3L974.2,485.6L979.6,488.1L985.0,490.6L990.4,493.1L995.7,495.8L1000.9,498.5L1006.0,501.3L1011.0,504.2L1016.0,507.2L1020.9,510.2L1025.7,513.3L1030.4,516.5L1035.0,519.7L1039.5,523.0L1044.0,526.4L1048.3,529.8L1052.6,533.3L1056.8,536.8L1060.9,540.5L1064.9,544.1L1068.7,547.9L1072.5,551.7L1076.2,555.5L1079.8,559.4L1083.4,563.4L1086.8,567.4L1090.1,571.4L1093.3,575.6L1096.4,579.7L1099.5,584.0L1102.4,588.3L1105.4,592.8L1108.2,597.3L1111.0,602.0L1113.7,606.7L1116.3,611.6L1118.9,616.5L1121.3,621.5L1123.7,626.6L1126.0,631.7L1128.2,637.0L1130.4,642.2L1132.4,647.6L1134.4,653.0L1136.3,658.4L1138.1,664.0L1139.8,669.5L1141.5,675.2L1143.1,680.9L1144.6,686.6L1146.0,692.4L1147.4,698.3L1148.6,704.2L1149.9,710.2L1151.0,716.2L1152.1,722.3L1153.1,728.4L1154.1,734.6L1155.0,740.8L1155.9,747.1L1156.7,753.4L1157.4,759.7L1158.1,766.1L1158.7,772.5L1159.3,779.0L1159.9,785.5L1160.4,792.0L1160.8,798.6L1161.2,805.2L1161.6,811.8L1161.9,818.4L1162.2,825.1L1162.4,831.9L1162.7,838.6L1162.8,845.4L1163.0,852.3L1163.1,859.1L1163.2,866.0L1163.2,872.9L1163.3,879.9L1163.3,886.9L1163.3,893.9L1163.3,900.9L1163.2,908.0L1163.2,915.1L1163.2,922.3L1163.1,929.4L1163.0,936.6L1163.0,943.9L1162.9,951.1L1162.9,958.4L1162.9,965.7L1162.8,973.0L1162.8,980.4L1162.8,987.8L1162.9,995.2L1163.0,1002.7L1163.0,1010.1" stroke="#a6a7a9" stroke-width="6.4"/>
<path d="M639.1,444.1L646.5,444.2L653.8,444.2L661.1,444.3L668.3,444.3L675.6,444.4L682.7,444.5L689.9,444.5L697.0,444.6L704.1,444.7L711.1,444.8L718.1,445.0L725.0,445.1L731.9,445.3L738.8,445.5L745.6,445.7L752.4,445.9L759.2,446.2L765.9,446.5L772.6,446.9L779.2,447.3L785.8,447.7L792.4,448.1L798.9,448.6L805.4,449.2L811.8,449.8L818.2,450.4L824.6,451.1L830.9,451.8L837.2,452.5L843.4,453.4L849.6,454.2L855.8,455.2L861.9,456.1L868.1,457.2L874.1,458.3L880.2,459.4L886.2,460.6L892.2,461.9L898.2,463.2L904.2,464.7L910.2,466.1L916.1,467.7L922.0,469.3L927.9,471.0L933.7,472.8L939.5,474.6L945.3,476.6L951.0,478.6L956.7,480.7L962.3,482.8L967.9,485.1L973.4,487.4L978.8,489.8L984.2,492.3L989.5,494.8L994.8,497.5L999.9,500.2L1005.0,503.0L1010.1,505.8L1015.0,508.8L1019.9,511.8L1024.6,514.9L1029.3,518.0L1033.9,521.2L1038.4,524.5L1042.8,527.9L1047.2,531.3L1051.4,534.8L1055.6,538.3L1059.6,541.9L1063.6,545.5L1067.4,549.2L1071.2,553.0L1074.9,556.8L1078.4,560.7L1081.9,564.6L1085.3,568.6L1088.6,572.7L1091.8,576.7L1094.9,580.9L1097.9,585.1L1100.8,589.4L1103.7,593.8L1106.5,598.4L1109.3,603.0L1112.0,607.7L1114.6,612.5L1117.1,617.4L1119.6,622.4L1122.0,627.4L1124.2,632.5L1126.4,637.7L1128.6,643.0L1130.6,648.3L1132.6,653.7L1134.4,659.1L1136.2,664.6L1138.0,670.1L1139.6,675.7L1141.2,681.4L1142.7,687.1L1144.1,692.9L1145.4,698.8L1146.7,704.6L1147.9,710.6L1149.1,716.6L1150.1,722.6L1151.2,728.7L1152.1,734.9L1153.0,741.1L1153.9,747.3L1154.7,753.6L1155.4,760.0L1156.1,766.3L1156.7,772.7L1157.3,779.2L1157.8,785.7L1158.3,792.2L1158.8,798.7L1159.2,805.3L1159.5,811.9L1159.9,818.6L1160.1,825.2L1160.4,832.0L1160.6,838.7L1160.8,845.5L1160.9,852.3L1161.0,859.2L1161.1,866.0L1161.2,873.0L1161.2,879.9L1161.2,886.9L1161.2,893.9L1161.2,900.9L1161.2,908.0L1161.1,915.1L1161.1,922.3L1161.0,929.4L1161.0,936.6L1160.9,943.8L1160.9,951.1L1160.8,958.4L1160.8,965.7L1160.8,973.0L1160.8,980.4L1160.8,987.8L1160.8,995.2L1160.9,1002.7L1160.9,1010.1" stroke="#a4a5a7" stroke-width="6.4"/>
<path d="M639.1,446.2L646.5,446.2L653.8,446.3L661.1,446.4L668.3,446.4L675.5,446.5L682.7,446.5L689.9,446.6L697.0,446.7L704.0,446.8L711.0,446.9L718.0,447.0L725.0,447.2L731.9,447.3L738.7,447.5L745.6,447.7L752.3,448.0L759.1,448.3L765.8,448.6L772.5,448.9L779.1,449.3L785.7,449.7L792.2,450.2L798.7,450.7L805.2,451.2L811.6,451.8L818.0,452.4L824.3,453.1L830.6,453.8L836.9,454.6L843.1,455.4L849.3,456.2L855.5,457.2L861.6,458.1L867.7,459.1L873.7,460.2L879.8,461.4L885.8,462.6L891.8,463.8L897.7,465.2L903.7,466.6L909.6,468.0L915.5,469.6L921.4,471.2L927.3,472.9L933.1,474.6L938.9,476.5L944.6,478.4L950.3,480.4L956.0,482.4L961.6,484.6L967.1,486.8L972.6,489.1L978.0,491.5L983.4,494.0L988.7,496.5L993.9,499.1L999.0,501.8L1004.1,504.6L1009.1,507.5L1014.0,510.4L1018.8,513.4L1023.6,516.5L1028.2,519.6L1032.8,522.8L1037.3,526.1L1041.7,529.4L1046.0,532.8L1050.2,536.2L1054.3,539.8L1058.3,543.3L1062.3,547.0L1066.1,550.6L1069.8,554.4L1073.5,558.2L1077.0,562.0L1080.5,565.9L1083.8,569.9L1087.1,573.9L1090.3,577.9L1093.3,582.1L1096.3,586.2L1099.2,590.5L1102.1,594.9L1104.9,599.4L1107.6,604.0L1110.3,608.7L1112.9,613.4L1115.4,618.3L1117.8,623.2L1120.2,628.3L1122.5,633.3L1124.6,638.5L1126.7,643.7L1128.8,649.0L1130.7,654.3L1132.6,659.7L1134.4,665.2L1136.1,670.7L1137.7,676.3L1139.3,682.0L1140.7,687.6L1142.1,693.4L1143.5,699.2L1144.8,705.1L1146.0,711.0L1147.1,717.0L1148.2,723.0L1149.2,729.1L1150.1,735.2L1151.0,741.4L1151.9,747.6L1152.7,753.9L1153.4,760.2L1154.1,766.6L1154.7,773.0L1155.3,779.4L1155.8,785.8L1156.3,792.3L1156.8,798.9L1157.2,805.4L1157.5,812.0L1157.8,818.7L1158.1,825.3L1158.3,832.0L1158.6,838.8L1158.7,845.6L1158.9,852.4L1159.0,859.2L1159.1,866.1L1159.1,873.0L1159.1,879.9L1159.2,886.9L1159.1,893.9L1159.1,901.0L1159.1,908.0L1159.0,915.1L1159.0,922.3L1158.9,929.4L1158.9,936.6L1158.8,943.8L1158.8,951.1L1158.7,958.4L1158.7,965.7L1158.7,973.0L1158.7,980.4L1158.7,987.8L1158.7,995.2L1158.8,1002.7L1158.8,1010.1" stroke="#a2a2a4" stroke-width="6.4"/>
<path d="M639.1,448.3L646.4,448.3L653.8,448.4L661.1,448.4L668.3,448.5L675.5,448.5L682.7,448.6L689.8,448.7L696.9,448.7L704.0,448.8L711.0,448.9L718.0,449.1L724.9,449.2L731.8,449.4L738.7,449.6L745.5,449.8L752.3,450.0L759.0,450.3L765.7,450.6L772.3,451.0L778.9,451.4L785.5,451.8L792.0,452.2L798.5,452.7L805.0,453.2L811.4,453.8L817.7,454.4L824.1,455.1L830.4,455.8L836.6,456.6L842.8,457.4L849.0,458.2L855.1,459.1L861.2,460.1L867.3,461.1L873.3,462.2L879.3,463.3L885.3,464.5L891.3,465.8L897.2,467.1L903.2,468.5L909.1,469.9L915.0,471.5L920.9,473.1L926.7,474.7L932.5,476.5L938.2,478.3L944.0,480.2L949.6,482.2L955.3,484.2L960.8,486.4L966.3,488.6L971.8,490.9L977.2,493.2L982.5,495.7L987.8,498.2L993.0,500.8L998.1,503.5L1003.2,506.3L1008.1,509.1L1013.0,512.0L1017.8,515.0L1022.5,518.0L1027.2,521.2L1031.7,524.3L1036.2,527.6L1040.5,530.9L1044.8,534.3L1049.0,537.7L1053.1,541.2L1057.1,544.8L1061.0,548.4L1064.8,552.0L1068.5,555.7L1072.1,559.5L1075.6,563.3L1079.0,567.2L1082.4,571.1L1085.6,575.1L1088.7,579.1L1091.8,583.2L1094.7,587.4L1097.6,591.6L1100.5,595.9L1103.3,600.4L1106.0,605.0L1108.6,609.6L1111.2,614.4L1113.7,619.2L1116.1,624.1L1118.4,629.1L1120.7,634.1L1122.8,639.3L1124.9,644.4L1126.9,649.7L1128.9,655.0L1130.7,660.4L1132.5,665.8L1134.2,671.3L1135.8,676.9L1137.4,682.5L1138.8,688.2L1140.2,693.9L1141.6,699.7L1142.8,705.5L1144.0,711.4L1145.1,717.4L1146.2,723.4L1147.2,729.4L1148.1,735.5L1149.0,741.7L1149.9,747.9L1150.7,754.2L1151.4,760.5L1152.1,766.8L1152.7,773.2L1153.3,779.6L1153.8,786.0L1154.3,792.5L1154.7,799.0L1155.1,805.6L1155.5,812.2L1155.8,818.8L1156.1,825.4L1156.3,832.1L1156.5,838.9L1156.7,845.6L1156.8,852.4L1156.9,859.3L1157.0,866.1L1157.0,873.0L1157.1,880.0L1157.1,886.9L1157.1,893.9L1157.1,901.0L1157.0,908.0L1157.0,915.1L1156.9,922.2L1156.9,929.4L1156.8,936.6L1156.7,943.8L1156.7,951.1L1156.6,958.3L1156.6,965.7L1156.6,973.0L1156.6,980.4L1156.6,987.8L1156.7,995.2L1156.8,1002.7L1156.8,1010.1" stroke="#9fa0a2" stroke-width="6.4"/>
<path d="M639.1,450.3L646.4,450.4L653.7,450.4L661.0,450.5L668.3,450.5L675.5,450.6L682.7,450.7L689.8,450.7L696.9,450.8L704.0,450.9L711.0,451.0L717.9,451.1L724.9,451.3L731.7,451.4L738.6,451.6L745.4,451.9L752.2,452.1L758.9,452.4L765.6,452.7L772.2,453.0L778.8,453.4L785.4,453.8L791.9,454.3L798.3,454.8L804.8,455.3L811.2,455.9L817.5,456.5L823.8,457.1L830.1,457.8L836.3,458.6L842.5,459.4L848.7,460.2L854.8,461.1L860.9,462.1L866.9,463.1L872.9,464.2L878.9,465.3L884.9,466.5L890.8,467.7L896.7,469.0L902.7,470.4L908.6,471.8L914.4,473.3L920.3,474.9L926.1,476.6L931.9,478.3L937.6,480.1L943.3,482.0L948.9,484.0L954.5,486.0L960.1,488.1L965.6,490.3L971.0,492.6L976.4,495.0L981.7,497.4L986.9,499.9L992.1,502.5L997.2,505.2L1002.2,507.9L1007.2,510.7L1012.0,513.6L1016.8,516.6L1021.5,519.6L1026.1,522.7L1030.6,525.9L1035.1,529.1L1039.4,532.4L1043.6,535.8L1047.8,539.2L1051.8,542.7L1055.8,546.2L1059.7,549.8L1063.5,553.4L1067.1,557.1L1070.7,560.8L1074.2,564.6L1077.6,568.5L1080.9,572.4L1084.1,576.3L1087.2,580.3L1090.2,584.4L1093.2,588.5L1096.0,592.7L1098.9,597.0L1101.6,601.4L1104.3,606.0L1106.9,610.6L1109.5,615.3L1111.9,620.1L1114.3,625.0L1116.7,629.9L1118.9,634.9L1121.0,640.0L1123.1,645.2L1125.1,650.4L1127.0,655.7L1128.9,661.0L1130.6,666.4L1132.3,671.9L1133.9,677.4L1135.5,683.0L1136.9,688.7L1138.3,694.4L1139.6,700.1L1140.9,706.0L1142.1,711.8L1143.2,717.8L1144.2,723.7L1145.2,729.8L1146.2,735.9L1147.0,742.0L1147.9,748.2L1148.7,754.4L1149.4,760.7L1150.0,767.0L1150.7,773.4L1151.2,779.8L1151.8,786.2L1152.3,792.7L1152.7,799.2L1153.1,805.7L1153.4,812.3L1153.7,818.9L1154.0,825.5L1154.3,832.2L1154.4,838.9L1154.6,845.7L1154.7,852.5L1154.9,859.3L1154.9,866.2L1155.0,873.1L1155.0,880.0L1155.0,886.9L1155.0,893.9L1155.0,901.0L1154.9,908.0L1154.9,915.1L1154.8,922.2L1154.8,929.4L1154.7,936.6L1154.7,943.8L1154.6,951.1L1154.6,958.3L1154.5,965.6L1154.5,973.0L1154.5,980.4L1154.5,987.8L1154.6,995.2L1154.7,1002.7L1154.7,1010.1" stroke="#9d9ea0" stroke-width="6.4"/>
<path d="M639.0,452.4L646.4,452.4L653.7,452.5L661.0,452.5L668.3,452.6L675.5,452.7L682.7,452.7L689.8,452.8L696.9,452.9L703.9,453.0L710.9,453.1L717.9,453.2L724.8,453.3L731.7,453.5L738.5,453.7L745.3,453.9L752.1,454.2L758.8,454.4L765.5,454.7L772.1,455.1L778.7,455.4L785.2,455.9L791.7,456.3L798.2,456.8L804.6,457.3L811.0,457.9L817.3,458.5L823.6,459.1L829.8,459.8L836.0,460.6L842.2,461.4L848.3,462.2L854.4,463.1L860.5,464.1L866.5,465.1L872.5,466.1L878.5,467.2L884.4,468.4L890.3,469.6L896.3,470.9L902.1,472.3L908.0,473.7L913.9,475.2L919.7,476.8L925.5,478.4L931.2,480.2L936.9,482.0L942.6,483.8L948.2,485.8L953.8,487.8L959.4,489.9L964.8,492.1L970.2,494.4L975.6,496.7L980.9,499.1L986.1,501.6L991.2,504.2L996.3,506.8L1001.3,509.6L1006.2,512.4L1011.1,515.2L1015.8,518.2L1020.5,521.2L1025.0,524.3L1029.5,527.4L1033.9,530.7L1038.2,533.9L1042.5,537.3L1046.6,540.7L1050.6,544.1L1054.5,547.6L1058.4,551.2L1062.1,554.8L1065.8,558.4L1069.3,562.2L1072.8,565.9L1076.2,569.7L1079.4,573.6L1082.6,577.5L1085.7,581.5L1088.7,585.5L1091.6,589.6L1094.4,593.8L1097.2,598.1L1100.0,602.5L1102.6,606.9L1105.2,611.5L1107.7,616.2L1110.2,621.0L1112.6,625.8L1114.9,630.8L1117.1,635.7L1119.2,640.8L1121.3,645.9L1123.3,651.1L1125.2,656.4L1127.0,661.7L1128.8,667.1L1130.4,672.5L1132.0,678.0L1133.5,683.6L1135.0,689.2L1136.4,694.9L1137.7,700.6L1138.9,706.4L1140.1,712.2L1141.2,718.1L1142.3,724.1L1143.3,730.1L1144.2,736.2L1145.1,742.3L1145.9,748.5L1146.7,754.7L1147.4,761.0L1148.0,767.3L1148.7,773.6L1149.2,780.0L1149.8,786.4L1150.2,792.8L1150.7,799.3L1151.1,805.8L1151.4,812.4L1151.7,819.0L1152.0,825.6L1152.2,832.3L1152.4,839.0L1152.6,845.8L1152.7,852.5L1152.8,859.4L1152.9,866.2L1152.9,873.1L1152.9,880.0L1152.9,887.0L1152.9,894.0L1152.9,901.0L1152.9,908.0L1152.8,915.1L1152.8,922.2L1152.7,929.4L1152.6,936.6L1152.6,943.8L1152.5,951.0L1152.5,958.3L1152.5,965.6L1152.4,973.0L1152.4,980.4L1152.5,987.8L1152.5,995.2L1152.6,1002.7L1152.6,1010.1" stroke="#9b9c9e" stroke-width="6.4"/>
<path d="M639.0,454.4L646.4,454.5L653.7,454.6L661.0,454.6L668.3,454.7L675.5,454.7L682.6,454.8L689.8,454.8L696.8,454.9L703.9,455.0L710.9,455.1L717.8,455.3L724.8,455.4L731.6,455.6L738.5,455.8L745.2,456.0L752.0,456.2L758.7,456.5L765.3,456.8L772.0,457.1L778.5,457.5L785.1,457.9L791.5,458.3L798.0,458.8L804.4,459.4L810.7,459.9L817.1,460.5L823.3,461.2L829.6,461.9L835.8,462.6L841.9,463.4L848.0,464.2L854.1,465.1L860.1,466.1L866.1,467.0L872.1,468.1L878.0,469.2L884.0,470.3L889.9,471.6L895.8,472.8L901.6,474.2L907.5,475.6L913.3,477.1L919.1,478.7L924.9,480.3L930.6,482.0L936.3,483.8L941.9,485.7L947.5,487.6L953.1,489.6L958.6,491.7L964.1,493.9L969.4,496.1L974.8,498.4L980.0,500.8L985.2,503.3L990.4,505.9L995.4,508.5L1000.4,511.2L1005.3,514.0L1010.1,516.9L1014.8,519.8L1019.4,522.8L1024.0,525.9L1028.4,529.0L1032.8,532.2L1037.1,535.5L1041.3,538.8L1045.4,542.1L1049.4,545.6L1053.3,549.0L1057.1,552.6L1060.8,556.2L1064.4,559.8L1068.0,563.5L1071.4,567.2L1074.7,571.0L1078.0,574.9L1081.1,578.8L1084.2,582.7L1087.1,586.7L1090.0,590.7L1092.8,594.9L1095.6,599.1L1098.3,603.5L1100.9,607.9L1103.5,612.5L1106.0,617.1L1108.5,621.9L1110.8,626.7L1113.1,631.6L1115.3,636.5L1117.4,641.6L1119.5,646.7L1121.5,651.8L1123.3,657.1L1125.2,662.3L1126.9,667.7L1128.5,673.1L1130.1,678.6L1131.6,684.1L1133.1,689.7L1134.5,695.3L1135.8,701.1L1137.0,706.8L1138.2,712.7L1139.3,718.5L1140.3,724.5L1141.3,730.5L1142.2,736.5L1143.1,742.6L1143.9,748.8L1144.7,755.0L1145.4,761.2L1146.0,767.5L1146.6,773.8L1147.2,780.2L1147.7,786.6L1148.2,793.0L1148.6,799.5L1149.0,806.0L1149.4,812.5L1149.7,819.1L1149.9,825.7L1150.2,832.4L1150.3,839.1L1150.5,845.8L1150.6,852.6L1150.7,859.4L1150.8,866.2L1150.9,873.1L1150.9,880.0L1150.9,887.0L1150.9,894.0L1150.8,901.0L1150.8,908.0L1150.7,915.1L1150.7,922.2L1150.6,929.4L1150.6,936.6L1150.5,943.8L1150.5,951.0L1150.4,958.3L1150.4,965.6L1150.4,973.0L1150.4,980.3L1150.4,987.7L1150.5,995.2L1150.5,1002.7L1150.6,1010.1" stroke="#999a9c" stroke-width="6.4"/>
<path d="M639.0,456.5L646.4,456.6L653.7,456.6L661.0,456.7L668.2,456.7L675.4,456.8L682.6,456.8L689.7,456.9L696.8,457.0L703.8,457.1L710.8,457.2L717.8,457.3L724.7,457.5L731.6,457.6L738.4,457.8L745.2,458.0L751.9,458.3L758.6,458.5L765.2,458.8L771.8,459.2L778.4,459.5L784.9,459.9L791.4,460.4L797.8,460.9L804.2,461.4L810.5,461.9L816.8,462.5L823.1,463.2L829.3,463.9L835.5,464.6L841.6,465.4L847.7,466.2L853.8,467.1L859.8,468.0L865.8,469.0L871.7,470.1L877.6,471.1L883.5,472.3L889.4,473.5L895.3,474.8L901.1,476.1L906.9,477.5L912.7,479.0L918.5,480.5L924.3,482.2L930.0,483.9L935.6,485.6L941.3,487.5L946.9,489.4L952.4,491.4L957.9,493.5L963.3,495.6L968.7,497.8L974.0,500.2L979.2,502.5L984.4,505.0L989.5,507.6L994.5,510.2L999.4,512.9L1004.3,515.6L1009.1,518.5L1013.8,521.4L1018.4,524.4L1022.9,527.4L1027.3,530.6L1031.7,533.7L1035.9,537.0L1040.1,540.3L1044.2,543.6L1048.1,547.0L1052.0,550.5L1055.8,554.0L1059.5,557.6L1063.1,561.2L1066.6,564.8L1070.0,568.5L1073.3,572.3L1076.5,576.1L1079.6,580.0L1082.7,583.9L1085.6,587.8L1088.4,591.8L1091.2,596.0L1094.0,600.2L1096.7,604.5L1099.3,608.9L1101.8,613.5L1104.3,618.1L1106.7,622.8L1109.1,627.6L1111.4,632.4L1113.5,637.4L1115.6,642.3L1117.7,647.4L1119.6,652.5L1121.5,657.7L1123.3,663.0L1125.0,668.3L1126.7,673.7L1128.2,679.1L1129.7,684.6L1131.2,690.2L1132.5,695.8L1133.8,701.5L1135.0,707.3L1136.2,713.1L1137.3,718.9L1138.3,724.8L1139.3,730.8L1140.2,736.8L1141.1,742.9L1141.9,749.1L1142.7,755.2L1143.4,761.5L1144.0,767.7L1144.6,774.0L1145.2,780.4L1145.7,786.8L1146.2,793.2L1146.6,799.6L1147.0,806.1L1147.3,812.7L1147.6,819.2L1147.9,825.8L1148.1,832.5L1148.3,839.2L1148.5,845.9L1148.6,852.7L1148.7,859.5L1148.7,866.3L1148.8,873.2L1148.8,880.1L1148.8,887.0L1148.8,894.0L1148.8,901.0L1148.7,908.0L1148.7,915.1L1148.6,922.2L1148.5,929.4L1148.5,936.6L1148.4,943.8L1148.4,951.0L1148.3,958.3L1148.3,965.6L1148.3,973.0L1148.3,980.3L1148.3,987.7L1148.4,995.2L1148.5,1002.7L1148.5,1010.2" stroke="#97989a" stroke-width="6.4"/>
<path d="M639.0,458.6L646.4,458.6L653.7,458.7L661.0,458.7L668.2,458.8L675.4,458.8L682.6,458.9L689.7,459.0L696.8,459.1L703.8,459.1L710.8,459.2L717.7,459.4L724.6,459.5L731.5,459.7L738.3,459.9L745.1,460.1L751.8,460.3L758.5,460.6L765.1,460.9L771.7,461.2L778.3,461.6L784.8,462.0L791.2,462.4L797.6,462.9L804.0,463.4L810.3,464.0L816.6,464.6L822.8,465.2L829.0,465.9L835.2,466.6L841.3,467.4L847.4,468.2L853.4,469.1L859.4,470.0L865.4,471.0L871.3,472.0L877.2,473.1L883.1,474.2L888.9,475.4L894.8,476.7L900.6,478.0L906.4,479.4L912.2,480.9L917.9,482.4L923.7,484.0L929.3,485.7L935.0,487.5L940.6,489.3L946.2,491.2L951.7,493.2L957.1,495.2L962.5,497.4L967.9,499.6L973.2,501.9L978.4,504.3L983.5,506.7L988.6,509.2L993.6,511.8L998.5,514.5L1003.3,517.3L1008.1,520.1L1012.8,523.0L1017.4,526.0L1021.8,529.0L1026.3,532.1L1030.6,535.3L1034.8,538.5L1038.9,541.8L1043.0,545.1L1046.9,548.5L1050.7,551.9L1054.5,555.4L1058.2,558.9L1061.7,562.5L1065.2,566.2L1068.6,569.8L1071.9,573.6L1075.0,577.4L1078.1,581.2L1081.1,585.1L1084.0,589.0L1086.9,593.0L1089.6,597.0L1092.3,601.2L1095.0,605.5L1097.6,609.9L1100.1,614.4L1102.6,619.0L1105.0,623.7L1107.3,628.4L1109.6,633.3L1111.8,638.2L1113.8,643.1L1115.9,648.1L1117.8,653.2L1119.7,658.4L1121.4,663.6L1123.2,668.9L1124.8,674.3L1126.3,679.7L1127.8,685.2L1129.3,690.7L1130.6,696.3L1131.9,702.0L1133.1,707.7L1134.2,713.5L1135.3,719.3L1136.4,725.2L1137.3,731.2L1138.2,737.2L1139.1,743.2L1139.9,749.3L1140.7,755.5L1141.4,761.7L1142.0,768.0L1142.6,774.2L1143.2,780.6L1143.7,786.9L1144.1,793.3L1144.6,799.8L1144.9,806.3L1145.3,812.8L1145.6,819.3L1145.8,825.9L1146.1,832.6L1146.2,839.3L1146.4,846.0L1146.5,852.7L1146.6,859.5L1146.7,866.3L1146.7,873.2L1146.7,880.1L1146.7,887.0L1146.7,894.0L1146.7,901.0L1146.6,908.0L1146.6,915.1L1146.5,922.2L1146.5,929.4L1146.4,936.5L1146.3,943.8L1146.3,951.0L1146.2,958.3L1146.2,965.6L1146.2,972.9L1146.2,980.3L1146.2,987.7L1146.3,995.2L1146.4,1002.7L1146.4,1010.2" stroke="#949698" stroke-width="6.4"/>
<path d="M639.0,460.6L646.3,460.7L653.7,460.8L661.0,460.8L668.2,460.9L675.4,460.9L682.6,461.0L689.7,461.0L696.7,461.1L703.8,461.2L710.8,461.3L717.7,461.4L724.6,461.6L731.4,461.7L738.2,461.9L745.0,462.1L751.7,462.4L758.4,462.6L765.0,462.9L771.6,463.3L778.1,463.6L784.6,464.0L791.1,464.5L797.5,464.9L803.8,465.5L810.1,466.0L816.4,466.6L822.6,467.2L828.8,467.9L834.9,468.6L841.0,469.4L847.1,470.2L853.1,471.1L859.1,472.0L865.0,473.0L870.9,474.0L876.8,475.1L882.6,476.2L888.5,477.4L894.3,478.6L900.1,479.9L905.9,481.3L911.6,482.8L917.4,484.3L923.1,485.9L928.7,487.5L934.3,489.3L939.9,491.1L945.5,493.0L951.0,495.0L956.4,497.0L961.8,499.1L967.1,501.3L972.3,503.6L977.5,506.0L982.7,508.4L987.7,510.9L992.7,513.5L997.6,516.2L1002.4,518.9L1007.1,521.7L1011.8,524.6L1016.3,527.6L1020.8,530.6L1025.2,533.7L1029.4,536.8L1033.6,540.0L1037.7,543.3L1041.7,546.6L1045.7,549.9L1049.5,553.3L1053.2,556.8L1056.8,560.3L1060.4,563.9L1063.8,567.5L1067.2,571.2L1070.4,574.9L1073.6,578.6L1076.6,582.4L1079.6,586.3L1082.5,590.2L1085.3,594.1L1088.0,598.1L1090.7,602.3L1093.4,606.6L1095.9,610.9L1098.5,615.4L1100.9,619.9L1103.3,624.6L1105.6,629.3L1107.8,634.1L1110.0,639.0L1112.0,643.9L1114.0,648.9L1116.0,653.9L1117.8,659.1L1119.6,664.3L1121.3,669.6L1122.9,674.9L1124.5,680.3L1125.9,685.7L1127.3,691.2L1128.7,696.8L1129.9,702.4L1131.2,708.1L1132.3,713.9L1133.4,719.7L1134.4,725.6L1135.4,731.5L1136.3,737.5L1137.1,743.5L1137.9,749.6L1138.7,755.8L1139.4,762.0L1140.0,768.2L1140.6,774.5L1141.2,780.8L1141.7,787.1L1142.1,793.5L1142.5,799.9L1142.9,806.4L1143.2,812.9L1143.5,819.5L1143.8,826.0L1144.0,832.7L1144.2,839.3L1144.3,846.0L1144.5,852.8L1144.6,859.5L1144.6,866.4L1144.7,873.2L1144.7,880.1L1144.7,887.0L1144.7,894.0L1144.6,901.0L1144.6,908.0L1144.5,915.1L1144.5,922.2L1144.4,929.4L1144.3,936.5L1144.3,943.7L1144.2,951.0L1144.2,958.3L1144.1,965.6L1144.1,972.9L1144.1,980.3L1144.2,987.7L1144.2,995.2L1144.3,1002.6L1144.3,1010.2" stroke="#929395" stroke-width="6.4"/>
<path d="M638.9,462.7L646.3,462.8L653.7,462.8L660.9,462.9L668.2,462.9L675.4,463.0L682.5,463.0L689.7,463.1L696.7,463.2L703.7,463.3L710.7,463.4L717.7,463.5L724.5,463.6L731.4,463.8L738.2,464.0L744.9,464.2L751.6,464.4L758.3,464.7L764.9,465.0L771.5,465.3L778.0,465.7L784.5,466.1L790.9,466.5L797.3,467.0L803.6,467.5L809.9,468.0L816.2,468.6L822.4,469.3L828.5,469.9L834.6,470.7L840.7,471.4L846.7,472.2L852.7,473.1L858.7,474.0L864.6,474.9L870.5,475.9L876.3,477.0L882.2,478.1L888.0,479.3L893.8,480.5L899.6,481.8L905.3,483.2L911.1,484.6L916.8,486.2L922.5,487.7L928.1,489.4L933.7,491.1L939.3,492.9L944.8,494.8L950.2,496.7L955.7,498.8L961.0,500.9L966.3,503.1L971.5,505.3L976.7,507.7L981.8,510.1L986.8,512.6L991.8,515.2L996.6,517.8L1001.4,520.6L1006.1,523.3L1010.7,526.2L1015.3,529.1L1019.7,532.1L1024.1,535.2L1028.3,538.3L1032.5,541.5L1036.6,544.7L1040.5,548.0L1044.4,551.4L1048.2,554.8L1051.9,558.2L1055.5,561.7L1059.0,565.2L1062.4,568.8L1065.7,572.5L1069.0,576.1L1072.1,579.9L1075.1,583.6L1078.1,587.4L1080.9,591.3L1083.7,595.2L1086.4,599.2L1089.1,603.3L1091.7,607.6L1094.3,611.9L1096.8,616.3L1099.2,620.9L1101.6,625.5L1103.8,630.2L1106.1,634.9L1108.2,639.8L1110.2,644.6L1112.2,649.6L1114.1,654.7L1116.0,659.8L1117.7,664.9L1119.4,670.2L1121.0,675.5L1122.6,680.8L1124.0,686.3L1125.4,691.7L1126.8,697.3L1128.0,702.9L1129.2,708.6L1130.3,714.3L1131.4,720.1L1132.4,725.9L1133.4,731.9L1134.3,737.8L1135.1,743.8L1135.9,749.9L1136.7,756.0L1137.3,762.2L1138.0,768.4L1138.6,774.7L1139.1,781.0L1139.6,787.3L1140.1,793.7L1140.5,800.1L1140.9,806.5L1141.2,813.0L1141.5,819.6L1141.8,826.1L1142.0,832.8L1142.1,839.4L1142.3,846.1L1142.4,852.8L1142.5,859.6L1142.6,866.4L1142.6,873.2L1142.6,880.1L1142.6,887.1L1142.6,894.0L1142.5,901.0L1142.5,908.0L1142.4,915.1L1142.4,922.2L1142.3,929.3L1142.2,936.5L1142.2,943.7L1142.1,951.0L1142.1,958.3L1142.1,965.6L1142.0,972.9L1142.1,980.3L1142.1,987.7L1142.2,995.2L1142.3,1002.6L1142.3,1010.2" stroke="#909193" stroke-width="6.4"/>
<path d="M638.9,464.8L646.3,464.8L653.6,464.9L660.9,464.9L668.2,465.0L675.4,465.0L682.5,465.1L689.6,465.2L696.7,465.2L703.7,465.3L710.7,465.4L717.6,465.6L724.5,465.7L731.3,465.9L738.1,466.0L744.8,466.2L751.5,466.5L758.2,466.7L764.8,467.0L771.3,467.4L777.9,467.7L784.3,468.1L790.7,468.6L797.1,469.0L803.4,469.5L809.7,470.1L815.9,470.7L822.1,471.3L828.3,471.9L834.3,472.7L840.4,473.4L846.4,474.2L852.4,475.1L858.3,476.0L864.2,476.9L870.1,477.9L875.9,479.0L881.7,480.1L887.5,481.2L893.3,482.5L899.1,483.8L904.8,485.1L910.5,486.5L916.2,488.0L921.8,489.6L927.5,491.2L933.0,492.9L938.6,494.7L944.1,496.6L949.5,498.5L954.9,500.5L960.2,502.6L965.5,504.8L970.7,507.1L975.9,509.4L980.9,511.8L985.9,514.3L990.9,516.8L995.7,519.5L1000.5,522.2L1005.1,525.0L1009.7,527.8L1014.2,530.7L1018.6,533.7L1023.0,536.8L1027.2,539.9L1031.3,543.0L1035.4,546.2L1039.3,549.5L1043.2,552.8L1046.9,556.2L1050.6,559.6L1054.2,563.1L1057.7,566.6L1061.0,570.2L1064.3,573.8L1067.5,577.4L1070.6,581.1L1073.6,584.8L1076.6,588.6L1079.4,592.5L1082.1,596.3L1084.8,600.3L1087.5,604.4L1090.1,608.6L1092.6,612.9L1095.1,617.3L1097.5,621.8L1099.8,626.4L1102.1,631.0L1104.3,635.8L1106.4,640.6L1108.4,645.4L1110.4,650.4L1112.3,655.4L1114.1,660.4L1115.9,665.6L1117.5,670.8L1119.1,676.1L1120.7,681.4L1122.1,686.8L1123.5,692.3L1124.8,697.8L1126.1,703.4L1127.3,709.0L1128.4,714.7L1129.5,720.5L1130.5,726.3L1131.4,732.2L1132.3,738.1L1133.1,744.1L1133.9,750.2L1134.7,756.3L1135.3,762.5L1136.0,768.7L1136.6,774.9L1137.1,781.2L1137.6,787.5L1138.1,793.8L1138.5,800.2L1138.8,806.7L1139.2,813.2L1139.5,819.7L1139.7,826.2L1139.9,832.8L1140.1,839.5L1140.2,846.2L1140.4,852.9L1140.4,859.6L1140.5,866.4L1140.5,873.3L1140.5,880.2L1140.5,887.1L1140.5,894.0L1140.5,901.0L1140.4,908.0L1140.4,915.1L1140.3,922.2L1140.2,929.3L1140.2,936.5L1140.1,943.7L1140.1,951.0L1140.0,958.2L1140.0,965.6L1140.0,972.9L1140.0,980.3L1140.0,987.7L1140.1,995.2L1140.2,1002.6L1140.2,1010.2" stroke="#8e8f91" stroke-width="6.4"/>
<path d="M638.9,466.8L646.3,466.9L653.6,466.9L660.9,467.0L668.1,467.0L675.3,467.1L682.5,467.2L689.6,467.2L696.7,467.3L703.7,467.4L710.6,467.5L717.6,467.6L724.4,467.8L731.3,467.9L738.0,468.1L744.8,468.3L751.5,468.5L758.1,468.8L764.7,469.1L771.2,469.4L777.7,469.8L784.2,470.2L790.6,470.6L796.9,471.1L803.2,471.6L809.5,472.1L815.7,472.7L821.9,473.3L828.0,474.0L834.1,474.7L840.1,475.4L846.1,476.2L852.1,477.1L858.0,478.0L863.8,478.9L869.7,479.9L875.5,480.9L881.3,482.0L887.0,483.2L892.8,484.4L898.5,485.7L904.3,487.0L909.9,488.4L915.6,489.9L921.2,491.5L926.8,493.1L932.4,494.8L937.9,496.5L943.4,498.4L948.8,500.3L954.2,502.3L959.5,504.4L964.7,506.6L969.9,508.8L975.0,511.1L980.1,513.5L985.1,516.0L990.0,518.5L994.8,521.1L999.5,523.8L1004.2,526.6L1008.7,529.4L1013.2,532.3L1017.6,535.3L1021.9,538.3L1026.1,541.4L1030.2,544.5L1034.2,547.7L1038.1,551.0L1042.0,554.3L1045.7,557.6L1049.3,561.0L1052.9,564.5L1056.3,568.0L1059.7,571.5L1062.9,575.1L1066.1,578.7L1069.2,582.4L1072.2,586.1L1075.0,589.8L1077.9,593.6L1080.6,597.5L1083.2,601.4L1085.8,605.5L1088.4,609.6L1090.9,613.9L1093.4,618.3L1095.8,622.7L1098.1,627.3L1100.3,631.9L1102.5,636.6L1104.6,641.4L1106.6,646.2L1108.6,651.1L1110.5,656.1L1112.3,661.1L1114.0,666.2L1115.7,671.4L1117.3,676.7L1118.8,682.0L1120.2,687.3L1121.6,692.8L1122.9,698.3L1124.1,703.8L1125.3,709.4L1126.4,715.1L1127.5,720.9L1128.5,726.7L1129.4,732.5L1130.3,738.5L1131.1,744.5L1131.9,750.5L1132.7,756.6L1133.3,762.7L1134.0,768.9L1134.6,775.1L1135.1,781.4L1135.6,787.7L1136.0,794.0L1136.4,800.4L1136.8,806.8L1137.1,813.3L1137.4,819.8L1137.7,826.3L1137.9,832.9L1138.0,839.6L1138.2,846.2L1138.3,852.9L1138.4,859.7L1138.4,866.5L1138.5,873.3L1138.5,880.2L1138.5,887.1L1138.4,894.0L1138.4,901.0L1138.4,908.0L1138.3,915.1L1138.2,922.2L1138.2,929.3L1138.1,936.5L1138.0,943.7L1138.0,951.0L1137.9,958.2L1137.9,965.5L1137.9,972.9L1137.9,980.3L1137.9,987.7L1138.0,995.2L1138.1,1002.6L1138.1,1010.2" stroke="#8c8d8f" stroke-width="6.4"/>
<path d="M638.9,468.9L646.3,469.0L653.6,469.0L660.9,469.1L668.1,469.1L675.3,469.2L682.5,469.2L689.6,469.3L696.6,469.4L703.6,469.5L710.6,469.6L717.5,469.7L724.4,469.8L731.2,470.0L738.0,470.2L744.7,470.4L751.4,470.6L758.0,470.9L764.6,471.1L771.1,471.5L777.6,471.8L784.0,472.2L790.4,472.6L796.7,473.1L803.0,473.6L809.3,474.1L815.5,474.7L821.6,475.3L827.7,476.0L833.8,476.7L839.8,477.4L845.8,478.2L851.7,479.1L857.6,479.9L863.5,480.9L869.3,481.8L875.1,482.9L880.8,484.0L886.6,485.1L892.3,486.3L898.0,487.6L903.7,488.9L909.4,490.3L915.0,491.8L920.6,493.3L926.2,494.9L931.8,496.6L937.2,498.4L942.7,500.2L948.1,502.1L953.4,504.1L958.7,506.2L963.9,508.3L969.1,510.5L974.2,512.8L979.2,515.2L984.2,517.7L989.0,520.2L993.8,522.8L998.5,525.5L1003.2,528.2L1007.7,531.0L1012.2,533.9L1016.5,536.9L1020.8,539.9L1025.0,542.9L1029.0,546.1L1033.0,549.2L1036.9,552.5L1040.7,555.7L1044.4,559.1L1048.0,562.4L1051.5,565.9L1055.0,569.3L1058.3,572.8L1061.5,576.4L1064.7,580.0L1067.7,583.6L1070.7,587.3L1073.5,591.0L1076.3,594.8L1079.0,598.6L1081.6,602.5L1084.2,606.5L1086.8,610.6L1089.3,614.9L1091.7,619.2L1094.1,623.6L1096.4,628.2L1098.6,632.7L1100.8,637.4L1102.8,642.2L1104.8,647.0L1106.8,651.8L1108.6,656.8L1110.4,661.8L1112.2,666.9L1113.8,672.0L1115.4,677.3L1116.9,682.5L1118.3,687.9L1119.7,693.3L1121.0,698.8L1122.2,704.3L1123.4,709.9L1124.5,715.5L1125.5,721.3L1126.5,727.1L1127.5,732.9L1128.3,738.8L1129.2,744.8L1129.9,750.8L1130.7,756.8L1131.3,763.0L1132.0,769.1L1132.5,775.3L1133.1,781.6L1133.6,787.8L1134.0,794.2L1134.4,800.5L1134.8,807.0L1135.1,813.4L1135.4,819.9L1135.6,826.4L1135.8,833.0L1136.0,839.6L1136.1,846.3L1136.2,853.0L1136.3,859.7L1136.4,866.5L1136.4,873.3L1136.4,880.2L1136.4,887.1L1136.4,894.0L1136.3,901.0L1136.3,908.0L1136.2,915.1L1136.1,922.2L1136.1,929.3L1136.0,936.5L1135.9,943.7L1135.9,950.9L1135.8,958.2L1135.8,965.5L1135.8,972.9L1135.8,980.3L1135.9,987.7L1135.9,995.2L1136.1,1002.6L1136.1,1010.2" stroke="#8a8b8d" stroke-width="6.4"/>
<path d="M638.9,471.0L646.3,471.0L653.6,471.1L660.9,471.1L668.1,471.2L675.3,471.2L682.5,471.3L689.5,471.4L696.6,471.4L703.6,471.5L710.6,471.6L717.5,471.7L724.3,471.9L731.1,472.0L737.9,472.2L744.6,472.4L751.3,472.6L757.9,472.9L764.5,473.2L771.0,473.5L777.4,473.9L783.9,474.3L790.2,474.7L796.6,475.1L802.8,475.6L809.1,476.2L815.2,476.7L821.4,477.3L827.5,478.0L833.5,478.7L839.5,479.4L845.5,480.2L851.4,481.0L857.2,481.9L863.1,482.8L868.9,483.8L874.6,484.8L880.4,485.9L886.1,487.0L891.8,488.2L897.5,489.5L903.2,490.8L908.8,492.2L914.4,493.6L920.0,495.2L925.6,496.8L931.1,498.4L936.6,500.2L942.0,502.0L947.4,503.9L952.7,505.9L958.0,507.9L963.2,510.0L968.3,512.3L973.4,514.5L978.4,516.9L983.3,519.3L988.1,521.8L992.9,524.4L997.6,527.1L1002.2,529.8L1006.7,532.6L1011.1,535.5L1015.4,538.4L1019.7,541.4L1023.8,544.5L1027.9,547.6L1031.8,550.7L1035.7,553.9L1039.5,557.2L1043.2,560.5L1046.7,563.8L1050.2,567.2L1053.6,570.7L1056.9,574.2L1060.1,577.7L1063.2,581.3L1066.2,584.9L1069.2,588.5L1072.0,592.2L1074.8,595.9L1077.4,599.7L1080.0,603.6L1082.6,607.6L1085.1,611.7L1087.6,615.9L1090.0,620.2L1092.3,624.6L1094.6,629.0L1096.8,633.6L1099.0,638.2L1101.1,643.0L1103.0,647.7L1105.0,652.6L1106.8,657.5L1108.6,662.5L1110.3,667.5L1111.9,672.7L1113.5,677.8L1115.0,683.1L1116.4,688.4L1117.8,693.8L1119.1,699.2L1120.3,704.7L1121.4,710.3L1122.5,716.0L1123.6,721.7L1124.6,727.4L1125.5,733.2L1126.4,739.1L1127.2,745.1L1127.9,751.1L1128.7,757.1L1129.3,763.2L1130.0,769.3L1130.5,775.5L1131.1,781.8L1131.5,788.0L1132.0,794.3L1132.4,800.7L1132.7,807.1L1133.1,813.5L1133.3,820.0L1133.6,826.5L1133.8,833.1L1133.9,839.7L1134.1,846.4L1134.2,853.1L1134.3,859.8L1134.3,866.6L1134.3,873.4L1134.4,880.2L1134.3,887.1L1134.3,894.1L1134.3,901.0L1134.2,908.0L1134.1,915.1L1134.1,922.2L1134.0,929.3L1133.9,936.5L1133.9,943.7L1133.8,950.9L1133.8,958.2L1133.7,965.5L1133.7,972.9L1133.8,980.3L1133.8,987.7L1133.9,995.1L1134.0,1002.6L1134.0,1010.2" stroke="#88888a" stroke-width="6.4"/>
<path d="M638.9,473.0L646.2,473.1L653.6,473.1L660.9,473.2L668.1,473.2L675.3,473.3L682.4,473.3L689.5,473.4L696.6,473.5L703.6,473.6L710.5,473.7L717.4,473.8L724.3,473.9L731.1,474.1L737.8,474.3L744.5,474.5L751.2,474.7L757.8,475.0L764.3,475.2L770.9,475.6L777.3,475.9L783.7,476.3L790.1,476.7L796.4,477.2L802.6,477.7L808.9,478.2L815.0,478.8L821.1,479.4L827.2,480.0L833.2,480.7L839.2,481.4L845.1,482.2L851.0,483.0L856.9,483.9L862.7,484.8L868.5,485.8L874.2,486.8L879.9,487.8L885.6,489.0L891.3,490.1L897.0,491.4L902.6,492.7L908.3,494.1L913.9,495.5L919.4,497.0L925.0,498.6L930.5,500.3L935.9,502.0L941.3,503.8L946.7,505.7L952.0,507.6L957.2,509.7L962.4,511.8L967.5,514.0L972.5,516.2L977.5,518.6L982.4,521.0L987.2,523.5L992.0,526.1L996.6,528.7L1001.2,531.4L1005.7,534.2L1010.1,537.1L1014.4,540.0L1018.6,543.0L1022.7,546.0L1026.7,549.1L1030.7,552.2L1034.5,555.4L1038.2,558.6L1041.9,561.9L1045.4,565.3L1048.9,568.6L1052.3,572.0L1055.5,575.5L1058.7,579.0L1061.8,582.5L1064.8,586.1L1067.7,589.7L1070.5,593.4L1073.2,597.1L1075.8,600.8L1078.4,604.7L1081.0,608.6L1083.5,612.7L1085.9,616.9L1088.3,621.1L1090.6,625.5L1092.9,629.9L1095.1,634.5L1097.2,639.1L1099.3,643.8L1101.2,648.5L1103.2,653.3L1105.0,658.2L1106.7,663.2L1108.4,668.2L1110.1,673.3L1111.6,678.4L1113.1,683.7L1114.5,688.9L1115.8,694.3L1117.1,699.7L1118.3,705.2L1119.5,710.8L1120.6,716.4L1121.6,722.0L1122.6,727.8L1123.5,733.6L1124.4,739.4L1125.2,745.4L1125.9,751.3L1126.7,757.4L1127.3,763.5L1127.9,769.6L1128.5,775.7L1129.0,782.0L1129.5,788.2L1130.0,794.5L1130.4,800.8L1130.7,807.2L1131.0,813.7L1131.3,820.1L1131.5,826.6L1131.7,833.2L1131.9,839.8L1132.0,846.4L1132.1,853.1L1132.2,859.8L1132.3,866.6L1132.3,873.4L1132.3,880.3L1132.3,887.1L1132.2,894.1L1132.2,901.0L1132.1,908.0L1132.1,915.1L1132.0,922.2L1131.9,929.3L1131.9,936.5L1131.8,943.7L1131.7,950.9L1131.7,958.2L1131.7,965.5L1131.7,972.9L1131.7,980.3L1131.7,987.7L1131.8,995.1L1131.9,1002.6L1131.9,1010.2" stroke="#858688" stroke-width="6.4"/>
<path d="M638.8,475.1L646.2,475.2L653.6,475.2L660.8,475.3L668.1,475.3L675.3,475.4L682.4,475.4L689.5,475.5L696.5,475.5L703.5,475.6L710.5,475.7L717.4,475.9L724.2,476.0L731.0,476.1L737.8,476.3L744.5,476.5L751.1,476.8L757.7,477.0L764.2,477.3L770.7,477.6L777.2,478.0L783.6,478.3L789.9,478.8L796.2,479.2L802.4,479.7L808.6,480.2L814.8,480.8L820.9,481.4L826.9,482.0L832.9,482.7L838.9,483.4L844.8,484.2L850.7,485.0L856.5,485.9L862.3,486.8L868.1,487.7L873.8,488.7L879.5,489.8L885.2,490.9L890.8,492.1L896.5,493.3L902.1,494.6L907.7,496.0L913.3,497.4L918.8,498.9L924.3,500.5L929.8,502.1L935.2,503.8L940.6,505.6L945.9,507.5L951.2,509.4L956.4,511.4L961.6,513.5L966.7,515.7L971.7,518.0L976.7,520.3L981.5,522.7L986.3,525.2L991.0,527.7L995.7,530.4L1000.2,533.1L1004.7,535.8L1009.0,538.7L1013.3,541.6L1017.5,544.5L1021.6,547.5L1025.6,550.6L1029.5,553.7L1033.3,556.9L1037.0,560.1L1040.6,563.4L1044.1,566.7L1047.6,570.0L1050.9,573.4L1054.1,576.8L1057.3,580.3L1060.3,583.8L1063.3,587.4L1066.2,590.9L1069.0,594.6L1071.7,598.2L1074.3,602.0L1076.8,605.8L1079.3,609.7L1081.8,613.7L1084.2,617.9L1086.6,622.1L1088.9,626.4L1091.2,630.8L1093.3,635.3L1095.5,639.9L1097.5,644.6L1099.4,649.3L1101.3,654.1L1103.2,658.9L1104.9,663.8L1106.6,668.8L1108.2,673.9L1109.7,679.0L1111.2,684.2L1112.6,689.5L1113.9,694.8L1115.2,700.2L1116.4,705.7L1117.6,711.2L1118.6,716.8L1119.7,722.4L1120.6,728.2L1121.5,733.9L1122.4,739.8L1123.2,745.7L1123.9,751.6L1124.7,757.6L1125.3,763.7L1125.9,769.8L1126.5,776.0L1127.0,782.2L1127.5,788.4L1127.9,794.7L1128.3,801.0L1128.7,807.4L1129.0,813.8L1129.3,820.2L1129.5,826.7L1129.7,833.3L1129.8,839.9L1130.0,846.5L1130.1,853.2L1130.2,859.9L1130.2,866.6L1130.2,873.4L1130.2,880.3L1130.2,887.2L1130.2,894.1L1130.1,901.0L1130.1,908.0L1130.0,915.1L1129.9,922.2L1129.8,929.3L1129.8,936.5L1129.7,943.7L1129.7,950.9L1129.6,958.2L1129.6,965.5L1129.6,972.8L1129.6,980.2L1129.6,987.7L1129.7,995.1L1129.9,1002.6L1129.9,1010.2" stroke="#838486" stroke-width="6.4"/>
<path d="M638.8,477.2L646.2,477.2L653.5,477.3L660.8,477.3L668.1,477.4L675.2,477.4L682.4,477.5L689.5,477.5L696.5,477.6L703.5,477.7L710.4,477.8L717.3,477.9L724.2,478.0L731.0,478.2L737.7,478.4L744.4,478.6L751.0,478.8L757.6,479.1L764.1,479.3L770.6,479.7L777.0,480.0L783.4,480.4L789.7,480.8L796.0,481.2L802.3,481.7L808.4,482.3L814.6,482.8L820.6,483.4L826.7,484.0L832.7,484.7L838.6,485.4L844.5,486.2L850.3,487.0L856.2,487.9L861.9,488.8L867.7,489.7L873.3,490.7L879.0,491.7L884.7,492.8L890.3,494.0L896.0,495.2L901.6,496.5L907.1,497.8L912.7,499.3L918.2,500.7L923.7,502.3L929.2,503.9L934.6,505.6L939.9,507.4L945.2,509.3L950.5,511.2L955.7,513.2L960.8,515.3L965.9,517.4L970.9,519.7L975.8,522.0L980.6,524.4L985.4,526.8L990.1,529.4L994.7,532.0L999.2,534.7L1003.7,537.4L1008.0,540.3L1012.2,543.1L1016.4,546.1L1020.5,549.1L1024.4,552.1L1028.3,555.2L1032.1,558.4L1035.8,561.6L1039.4,564.8L1042.8,568.1L1046.2,571.4L1049.6,574.8L1052.8,578.2L1055.9,581.6L1058.9,585.1L1061.8,588.6L1064.7,592.2L1067.4,595.8L1070.1,599.4L1072.7,603.1L1075.2,606.9L1077.7,610.7L1080.2,614.7L1082.6,618.8L1084.9,623.1L1087.2,627.3L1089.4,631.7L1091.6,636.2L1093.7,640.7L1095.7,645.4L1097.6,650.0L1099.5,654.8L1101.3,659.6L1103.1,664.5L1104.7,669.5L1106.3,674.5L1107.8,679.6L1109.3,684.8L1110.7,690.0L1112.0,695.3L1113.3,700.7L1114.5,706.1L1115.6,711.6L1116.7,717.2L1117.7,722.8L1118.7,728.5L1119.6,734.3L1120.4,740.1L1121.2,746.0L1122.0,751.9L1122.7,757.9L1123.3,764.0L1123.9,770.0L1124.5,776.2L1125.0,782.4L1125.5,788.6L1125.9,794.8L1126.3,801.2L1126.6,807.5L1126.9,813.9L1127.2,820.4L1127.4,826.8L1127.6,833.4L1127.8,839.9L1127.9,846.6L1128.0,853.2L1128.1,859.9L1128.1,866.7L1128.2,873.5L1128.2,880.3L1128.1,887.2L1128.1,894.1L1128.0,901.1L1128.0,908.0L1127.9,915.1L1127.8,922.2L1127.8,929.3L1127.7,936.4L1127.6,943.6L1127.6,950.9L1127.5,958.2L1127.5,965.5L1127.5,972.8L1127.5,980.2L1127.6,987.7L1127.7,995.1L1127.8,1002.6L1127.8,1010.2" stroke="#818284" stroke-width="6.4"/>
<path d="M638.8,479.2L646.2,479.3L653.5,479.3L660.8,479.4L668.0,479.4L675.2,479.5L682.4,479.5L689.4,479.6L696.5,479.7L703.5,479.8L710.4,479.9L717.3,480.0L724.1,480.1L730.9,480.3L737.6,480.4L744.3,480.6L750.9,480.9L757.5,481.1L764.0,481.4L770.5,481.7L776.9,482.1L783.3,482.4L789.6,482.8L795.8,483.3L802.1,483.8L808.2,484.3L814.3,484.8L820.4,485.4L826.4,486.1L832.4,486.7L838.3,487.5L844.2,488.2L850.0,489.0L855.8,489.9L861.5,490.7L867.2,491.7L872.9,492.7L878.6,493.7L884.2,494.8L889.8,495.9L895.4,497.1L901.0,498.4L906.6,499.7L912.1,501.1L917.6,502.6L923.1,504.1L928.5,505.8L933.9,507.4L939.2,509.2L944.5,511.0L949.7,513.0L954.9,514.9L960.0,517.0L965.1,519.2L970.0,521.4L974.9,523.7L979.8,526.1L984.5,528.5L989.2,531.0L993.8,533.6L998.2,536.3L1002.6,539.0L1007.0,541.8L1011.2,544.7L1015.3,547.6L1019.3,550.6L1023.3,553.6L1027.1,556.7L1030.9,559.8L1034.5,563.0L1038.1,566.2L1041.6,569.5L1044.9,572.8L1048.2,576.1L1051.4,579.5L1054.5,582.9L1057.5,586.4L1060.4,589.9L1063.2,593.4L1065.9,597.0L1068.6,600.6L1071.1,604.2L1073.6,608.0L1076.1,611.8L1078.5,615.8L1080.9,619.8L1083.2,624.0L1085.5,628.3L1087.7,632.6L1089.8,637.1L1091.9,641.6L1093.9,646.2L1095.8,650.8L1097.7,655.5L1099.5,660.3L1101.2,665.2L1102.9,670.1L1104.5,675.1L1106.0,680.2L1107.4,685.4L1108.8,690.6L1110.1,695.8L1111.4,701.2L1112.5,706.6L1113.7,712.1L1114.7,717.6L1115.7,723.2L1116.7,728.9L1117.6,734.6L1118.4,740.4L1119.2,746.3L1120.0,752.2L1120.7,758.2L1121.3,764.2L1121.9,770.3L1122.5,776.4L1123.0,782.6L1123.5,788.8L1123.9,795.0L1124.3,801.3L1124.6,807.6L1124.9,814.0L1125.2,820.5L1125.4,826.9L1125.6,833.5L1125.7,840.0L1125.9,846.6L1126.0,853.3L1126.0,860.0L1126.1,866.7L1126.1,873.5L1126.1,880.3L1126.1,887.2L1126.0,894.1L1126.0,901.1L1125.9,908.1L1125.8,915.1L1125.8,922.2L1125.7,929.3L1125.6,936.4L1125.5,943.6L1125.5,950.9L1125.4,958.2L1125.4,965.5L1125.4,972.8L1125.4,980.2L1125.5,987.7L1125.6,995.1L1125.7,1002.6L1125.7,1010.2" stroke="#7f8082" stroke-width="6.4"/>
<path d="M638.8,481.3L646.2,481.3L653.5,481.4L660.8,481.4L668.0,481.5L675.2,481.5L682.3,481.6L689.4,481.7L696.5,481.7L703.4,481.8L710.4,481.9L717.2,482.0L724.1,482.2L730.8,482.3L737.5,482.5L744.2,482.7L750.8,482.9L757.4,483.2L763.9,483.4L770.4,483.8L776.8,484.1L783.1,484.5L789.4,484.9L795.7,485.3L801.9,485.8L808.0,486.3L814.1,486.9L820.2,487.5L826.1,488.1L832.1,488.8L838.0,489.5L843.9,490.2L849.7,491.0L855.4,491.8L861.2,492.7L866.8,493.6L872.5,494.6L878.1,495.6L883.7,496.7L889.3,497.8L894.9,499.0L900.5,500.3L906.0,501.6L911.5,503.0L917.0,504.5L922.5,506.0L927.9,507.6L933.2,509.3L938.5,511.0L943.8,512.8L949.0,514.7L954.1,516.7L959.2,518.8L964.2,520.9L969.2,523.1L974.1,525.4L978.9,527.7L983.6,530.2L988.2,532.7L992.8,535.3L997.3,537.9L1001.6,540.6L1005.9,543.4L1010.1,546.3L1014.2,549.2L1018.2,552.1L1022.1,555.1L1025.9,558.2L1029.7,561.3L1033.3,564.5L1036.8,567.7L1040.3,570.9L1043.6,574.2L1046.8,577.5L1050.0,580.8L1053.1,584.2L1056.0,587.6L1058.9,591.1L1061.7,594.6L1064.4,598.1L1067.0,601.7L1069.5,605.3L1072.0,609.0L1074.5,612.9L1076.9,616.8L1079.2,620.8L1081.5,625.0L1083.8,629.2L1086.0,633.5L1088.1,637.9L1090.2,642.4L1092.1,647.0L1094.0,651.6L1095.9,656.3L1097.7,661.0L1099.4,665.9L1101.0,670.8L1102.6,675.8L1104.1,680.8L1105.5,685.9L1106.9,691.1L1108.2,696.4L1109.4,701.7L1110.6,707.1L1111.7,712.5L1112.8,718.0L1113.8,723.6L1114.7,729.3L1115.6,735.0L1116.4,740.7L1117.2,746.6L1118.0,752.5L1118.7,758.4L1119.3,764.5L1119.9,770.5L1120.5,776.6L1121.0,782.8L1121.4,788.9L1121.9,795.2L1122.2,801.5L1122.6,807.8L1122.9,814.2L1123.1,820.6L1123.4,827.0L1123.5,833.5L1123.7,840.1L1123.8,846.7L1123.9,853.3L1124.0,860.0L1124.0,866.8L1124.0,873.5L1124.0,880.4L1124.0,887.2L1124.0,894.1L1123.9,901.1L1123.8,908.1L1123.8,915.1L1123.7,922.2L1123.6,929.3L1123.5,936.4L1123.5,943.6L1123.4,950.9L1123.4,958.1L1123.3,965.5L1123.3,972.8L1123.4,980.2L1123.4,987.6L1123.5,995.1L1123.6,1002.6L1123.7,1010.2" stroke="#7d7e80" stroke-width="6.4"/>
<path d="M638.8,483.4L646.2,483.4L653.5,483.5L660.8,483.5L668.0,483.6L675.2,483.6L682.3,483.7L689.4,483.7L696.4,483.8L703.4,483.9L710.3,484.0L717.2,484.1L724.0,484.2L730.8,484.4L737.5,484.5L744.1,484.7L750.7,485.0L757.3,485.2L763.8,485.5L770.2,485.8L776.6,486.1L783.0,486.5L789.3,486.9L795.5,487.4L801.7,487.8L807.8,488.3L813.9,488.9L819.9,489.5L825.9,490.1L831.8,490.8L837.7,491.5L843.5,492.2L849.3,493.0L855.1,493.8L860.8,494.7L866.4,495.6L872.1,496.6L877.7,497.6L883.3,498.6L888.8,499.8L894.4,500.9L900.0,502.2L905.5,503.5L911.0,504.9L916.4,506.3L921.8,507.8L927.2,509.4L932.5,511.1L937.8,512.8L943.1,514.6L948.3,516.5L953.4,518.5L958.4,520.5L963.4,522.6L968.4,524.8L973.2,527.1L978.0,529.4L982.7,531.8L987.3,534.3L991.8,536.9L996.3,539.5L1000.6,542.2L1004.9,545.0L1009.0,547.8L1013.1,550.7L1017.1,553.7L1021.0,556.7L1024.8,559.7L1028.5,562.8L1032.1,565.9L1035.6,569.1L1039.0,572.3L1042.3,575.5L1045.5,578.8L1048.6,582.2L1051.7,585.5L1054.6,588.9L1057.4,592.4L1060.2,595.8L1062.9,599.3L1065.5,602.9L1068.0,606.5L1070.4,610.1L1072.8,613.9L1075.2,617.8L1077.6,621.8L1079.8,625.9L1082.1,630.1L1084.2,634.4L1086.3,638.8L1088.4,643.2L1090.4,647.8L1092.2,652.3L1094.1,657.0L1095.8,661.7L1097.5,666.6L1099.2,671.4L1100.7,676.4L1102.2,681.4L1103.6,686.5L1105.0,691.6L1106.3,696.9L1107.5,702.2L1108.7,707.5L1109.8,712.9L1110.8,718.4L1111.8,724.0L1112.8,729.6L1113.6,735.3L1114.5,741.1L1115.2,746.9L1116.0,752.8L1116.7,758.7L1117.3,764.7L1117.9,770.7L1118.4,776.8L1118.9,782.9L1119.4,789.1L1119.8,795.3L1120.2,801.6L1120.5,807.9L1120.8,814.3L1121.1,820.7L1121.3,827.1L1121.5,833.6L1121.6,840.2L1121.8,846.8L1121.9,853.4L1121.9,860.1L1122.0,866.8L1122.0,873.6L1122.0,880.4L1121.9,887.2L1121.9,894.1L1121.8,901.1L1121.8,908.1L1121.7,915.1L1121.6,922.1L1121.5,929.3L1121.5,936.4L1121.4,943.6L1121.3,950.8L1121.3,958.1L1121.3,965.4L1121.3,972.8L1121.3,980.2L1121.3,987.6L1121.4,995.1L1121.6,1002.6L1121.6,1010.2" stroke="#7a7c7e" stroke-width="6.4"/>
<path d="M638.8,485.4L646.1,485.5L653.5,485.5L660.8,485.6L668.0,485.6L675.2,485.7L682.3,485.7L689.4,485.8L696.4,485.9L703.4,485.9L710.3,486.0L717.1,486.2L723.9,486.3L730.7,486.4L737.4,486.6L744.1,486.8L750.7,487.0L757.2,487.3L763.7,487.5L770.1,487.9L776.5,488.2L782.8,488.6L789.1,489.0L795.3,489.4L801.5,489.9L807.6,490.4L813.7,490.9L819.7,491.5L825.6,492.1L831.5,492.8L837.4,493.5L843.2,494.2L849.0,495.0L854.7,495.8L860.4,496.7L866.0,497.6L871.6,498.5L877.2,499.5L882.8,500.6L888.4,501.7L893.9,502.9L899.4,504.1L904.9,505.4L910.4,506.7L915.8,508.2L921.2,509.7L926.6,511.2L931.9,512.9L937.1,514.6L942.4,516.4L947.5,518.3L952.6,520.2L957.7,522.2L962.6,524.3L967.5,526.5L972.4,528.8L977.1,531.1L981.8,533.5L986.4,536.0L990.9,538.5L995.3,541.2L999.6,543.8L1003.8,546.6L1008.0,549.4L1012.0,552.3L1016.0,555.2L1019.8,558.2L1023.6,561.2L1027.3,564.3L1030.8,567.4L1034.3,570.5L1037.7,573.7L1041.0,576.9L1044.1,580.2L1047.2,583.5L1050.2,586.8L1053.2,590.2L1056.0,593.6L1058.7,597.0L1061.3,600.5L1063.9,604.0L1066.4,607.6L1068.8,611.2L1071.2,615.0L1073.6,618.8L1075.9,622.8L1078.2,626.9L1080.4,631.1L1082.5,635.3L1084.6,639.7L1086.6,644.1L1088.6,648.6L1090.4,653.1L1092.3,657.7L1094.0,662.5L1095.7,667.2L1097.3,672.1L1098.8,677.0L1100.3,682.0L1101.7,687.1L1103.1,692.2L1104.4,697.4L1105.6,702.6L1106.7,708.0L1107.8,713.4L1108.9,718.9L1109.9,724.4L1110.8,730.0L1111.7,735.7L1112.5,741.4L1113.3,747.2L1114.0,753.1L1114.7,759.0L1115.3,765.0L1115.9,771.0L1116.4,777.0L1116.9,783.1L1117.4,789.3L1117.8,795.5L1118.2,801.8L1118.5,808.1L1118.8,814.4L1119.0,820.8L1119.3,827.2L1119.4,833.7L1119.6,840.3L1119.7,846.8L1119.8,853.5L1119.9,860.1L1119.9,866.8L1119.9,873.6L1119.9,880.4L1119.9,887.2L1119.8,894.1L1119.8,901.1L1119.7,908.1L1119.6,915.1L1119.5,922.1L1119.5,929.3L1119.4,936.4L1119.3,943.6L1119.3,950.8L1119.2,958.1L1119.2,965.4L1119.2,972.8L1119.2,980.2L1119.3,987.6L1119.4,995.1L1119.5,1002.6L1119.5,1010.2" stroke="#78797b" stroke-width="6.4"/>
<path d="M638.7,487.5L646.1,487.5L653.5,487.6L660.7,487.6L668.0,487.7L675.1,487.7L682.3,487.8L689.3,487.9L696.4,487.9L703.3,488.0L710.2,488.1L717.1,488.2L723.9,488.3L730.6,488.5L737.3,488.7L744.0,488.9L750.6,489.1L757.1,489.3L763.6,489.6L770.0,489.9L776.4,490.2L782.7,490.6L788.9,491.0L795.1,491.4L801.3,491.9L807.4,492.4L813.4,492.9L819.4,493.5L825.4,494.1L831.3,494.8L837.1,495.5L842.9,496.2L848.6,497.0L854.3,497.8L860.0,498.6L865.6,499.5L871.2,500.5L876.8,501.5L882.3,502.5L887.9,503.6L893.4,504.8L898.9,506.0L904.3,507.3L909.8,508.6L915.2,510.0L920.6,511.5L925.9,513.1L931.2,514.7L936.4,516.4L941.6,518.2L946.8,520.0L951.9,522.0L956.9,524.0L961.8,526.1L966.7,528.2L971.5,530.5L976.2,532.8L980.9,535.2L985.4,537.6L989.9,540.2L994.3,542.8L998.6,545.4L1002.8,548.2L1006.9,551.0L1010.9,553.8L1014.9,556.7L1018.7,559.7L1022.4,562.7L1026.0,565.7L1029.6,568.8L1033.0,571.9L1036.4,575.1L1039.6,578.3L1042.8,581.6L1045.9,584.8L1048.8,588.1L1051.7,591.5L1054.5,594.9L1057.2,598.3L1059.8,601.7L1062.4,605.2L1064.8,608.7L1067.2,612.3L1069.6,616.0L1071.9,619.9L1074.2,623.8L1076.5,627.8L1078.7,632.0L1080.8,636.2L1082.8,640.5L1084.9,644.9L1086.8,649.4L1088.6,653.9L1090.4,658.5L1092.2,663.2L1093.8,667.9L1095.4,672.7L1097.0,677.6L1098.4,682.6L1099.8,687.6L1101.2,692.7L1102.4,697.9L1103.7,703.1L1104.8,708.4L1105.9,713.8L1106.9,719.3L1107.9,724.8L1108.8,730.4L1109.7,736.0L1110.5,741.7L1111.3,747.5L1112.0,753.3L1112.7,759.2L1113.3,765.2L1113.9,771.2L1114.4,777.3L1114.9,783.3L1115.4,789.5L1115.8,795.7L1116.1,801.9L1116.5,808.2L1116.8,814.5L1117.0,820.9L1117.2,827.3L1117.4,833.8L1117.5,840.3L1117.7,846.9L1117.7,853.5L1117.8,860.2L1117.8,866.9L1117.8,873.6L1117.8,880.4L1117.8,887.3L1117.7,894.2L1117.7,901.1L1117.6,908.1L1117.5,915.1L1117.5,922.1L1117.4,929.2L1117.3,936.4L1117.2,943.6L1117.2,950.8L1117.1,958.1L1117.1,965.4L1117.1,972.8L1117.1,980.2L1117.2,987.6L1117.3,995.1L1117.4,1002.6L1117.4,1010.2" stroke="#767779" stroke-width="6.4"/>
<path d="M638.7,489.5L646.1,489.6L653.4,489.7L660.7,489.7L668.0,489.8L675.1,489.8L682.2,489.9L689.3,489.9L696.3,490.0L703.3,490.1L710.2,490.2L717.0,490.3L723.8,490.4L730.6,490.5L737.3,490.7L743.9,490.9L750.5,491.1L757.0,491.4L763.5,491.7L769.9,492.0L776.2,492.3L782.5,492.6L788.8,493.0L795.0,493.5L801.1,493.9L807.2,494.4L813.2,495.0L819.2,495.5L825.1,496.2L831.0,496.8L836.8,497.5L842.6,498.2L848.3,499.0L854.0,499.8L859.6,500.6L865.2,501.5L870.8,502.4L876.3,503.4L881.9,504.4L887.4,505.5L892.9,506.7L898.3,507.9L903.8,509.1L909.2,510.5L914.6,511.9L920.0,513.4L925.3,514.9L930.5,516.5L935.8,518.2L940.9,520.0L946.0,521.8L951.1,523.7L956.1,525.7L961.0,527.8L965.9,530.0L970.6,532.2L975.3,534.5L980.0,536.9L984.5,539.3L989.0,541.8L993.3,544.4L997.6,547.1L1001.8,549.8L1005.8,552.5L1009.8,555.4L1013.7,558.3L1017.5,561.2L1021.2,564.2L1024.8,567.2L1028.4,570.3L1031.8,573.4L1035.1,576.5L1038.3,579.7L1041.4,582.9L1044.5,586.2L1047.4,589.4L1050.3,592.8L1053.0,596.1L1055.7,599.5L1058.3,602.9L1060.8,606.3L1063.2,609.8L1065.6,613.4L1068.0,617.1L1070.3,620.9L1072.5,624.8L1074.8,628.8L1076.9,632.9L1079.1,637.1L1081.1,641.4L1083.1,645.7L1085.0,650.2L1086.8,654.7L1088.6,659.2L1090.3,663.9L1092.0,668.6L1093.6,673.4L1095.1,678.3L1096.6,683.2L1097.9,688.2L1099.3,693.3L1100.5,698.4L1101.7,703.6L1102.9,708.9L1104.0,714.3L1105.0,719.7L1105.9,725.2L1106.9,730.7L1107.7,736.4L1108.5,742.1L1109.3,747.8L1110.0,753.6L1110.7,759.5L1111.3,765.4L1111.9,771.4L1112.4,777.5L1112.9,783.5L1113.3,789.7L1113.7,795.8L1114.1,802.1L1114.4,808.3L1114.7,814.7L1115.0,821.0L1115.2,827.4L1115.4,833.9L1115.5,840.4L1115.6,847.0L1115.7,853.6L1115.7,860.2L1115.8,866.9L1115.8,873.7L1115.8,880.5L1115.7,887.3L1115.7,894.2L1115.6,901.1L1115.5,908.1L1115.5,915.1L1115.4,922.1L1115.3,929.2L1115.2,936.4L1115.1,943.6L1115.1,950.8L1115.0,958.1L1115.0,965.4L1115.0,972.8L1115.1,980.2L1115.1,987.6L1115.2,995.1L1115.4,1002.6L1115.4,1010.2" stroke="#747577" stroke-width="6.4"/>
<path d="M638.7,491.6L646.1,491.7L653.4,491.7L660.7,491.8L667.9,491.8L675.1,491.9L682.2,491.9L689.3,492.0L696.3,492.0L703.3,492.1L710.2,492.2L717.0,492.3L723.8,492.5L730.5,492.6L737.2,492.8L743.8,493.0L750.4,493.2L756.9,493.4L763.3,493.7L769.7,494.0L776.1,494.3L782.4,494.7L788.6,495.1L794.8,495.5L800.9,496.0L807.0,496.5L813.0,497.0L818.9,497.6L824.8,498.2L830.7,498.8L836.5,499.5L842.3,500.2L848.0,501.0L853.6,501.8L859.2,502.6L864.8,503.5L870.4,504.4L875.9,505.4L881.4,506.4L886.9,507.4L892.3,508.6L897.8,509.8L903.2,511.0L908.6,512.4L914.0,513.7L919.3,515.2L924.6,516.7L929.9,518.3L935.1,520.0L940.2,521.8L945.3,523.6L950.3,525.5L955.3,527.5L960.2,529.5L965.0,531.7L969.8,533.9L974.5,536.2L979.1,538.5L983.6,540.9L988.0,543.5L992.3,546.0L996.6,548.7L1000.7,551.4L1004.8,554.1L1008.7,556.9L1012.6,559.8L1016.4,562.7L1020.1,565.7L1023.6,568.7L1027.1,571.7L1030.5,574.8L1033.8,577.9L1037.0,581.1L1040.1,584.3L1043.1,587.5L1046.0,590.8L1048.8,594.0L1051.6,597.4L1054.2,600.7L1056.8,604.1L1059.3,607.5L1061.7,611.0L1064.0,614.5L1066.3,618.1L1068.6,621.9L1070.9,625.8L1073.1,629.8L1075.2,633.8L1077.3,638.0L1079.4,642.2L1081.3,646.6L1083.2,651.0L1085.0,655.4L1086.8,660.0L1088.5,664.6L1090.2,669.3L1091.7,674.0L1093.2,678.9L1094.7,683.8L1096.1,688.7L1097.4,693.8L1098.6,698.9L1099.8,704.1L1100.9,709.4L1102.0,714.7L1103.0,720.1L1104.0,725.6L1104.9,731.1L1105.7,736.7L1106.5,742.4L1107.3,748.1L1108.0,753.9L1108.7,759.8L1109.3,765.7L1109.9,771.7L1110.4,777.7L1110.9,783.7L1111.3,789.9L1111.7,796.0L1112.1,802.2L1112.4,808.5L1112.7,814.8L1112.9,821.1L1113.1,827.5L1113.3,834.0L1113.4,840.5L1113.6,847.0L1113.6,853.6L1113.7,860.3L1113.7,867.0L1113.7,873.7L1113.7,880.5L1113.7,887.3L1113.6,894.2L1113.5,901.1L1113.5,908.1L1113.4,915.1L1113.3,922.1L1113.2,929.2L1113.1,936.4L1113.1,943.6L1113.0,950.8L1113.0,958.1L1112.9,965.4L1113.0,972.8L1113.0,980.2L1113.0,987.6L1113.2,995.1L1113.3,1002.6L1113.3,1010.2" stroke="#727375" stroke-width="6.4"/>
<path d="M638.7,493.7L646.1,493.7L653.4,493.8L660.7,493.8L667.9,493.9L675.1,493.9L682.2,494.0L689.3,494.0L696.3,494.1L703.2,494.2L710.1,494.3L717.0,494.4L723.7,494.5L730.5,494.7L737.1,494.8L743.7,495.0L750.3,495.2L756.8,495.5L763.2,495.8L769.6,496.1L775.9,496.4L782.2,496.7L788.4,497.1L794.6,497.6L800.7,498.0L806.7,498.5L812.7,499.0L818.7,499.6L824.6,500.2L830.4,500.8L836.2,501.5L841.9,502.2L847.6,502.9L853.3,503.7L858.9,504.6L864.4,505.4L869.9,506.3L875.4,507.3L880.9,508.3L886.4,509.4L891.8,510.5L897.3,511.7L902.7,512.9L908.0,514.2L913.4,515.6L918.7,517.0L924.0,518.6L929.2,520.2L934.4,521.8L939.5,523.5L944.6,525.4L949.6,527.3L954.5,529.2L959.4,531.3L964.2,533.4L968.9,535.6L973.6,537.8L978.1,540.2L982.6,542.6L987.0,545.1L991.3,547.6L995.6,550.3L999.7,552.9L1003.7,555.7L1007.7,558.5L1011.5,561.3L1015.2,564.2L1018.9,567.2L1022.4,570.1L1025.9,573.2L1029.2,576.2L1032.5,579.3L1035.7,582.5L1038.7,585.6L1041.7,588.8L1044.6,592.1L1047.4,595.3L1050.1,598.6L1052.7,601.9L1055.3,605.3L1057.7,608.7L1060.1,612.1L1062.4,615.6L1064.7,619.2L1067.0,622.9L1069.2,626.8L1071.4,630.7L1073.5,634.8L1075.6,638.9L1077.6,643.1L1079.6,647.4L1081.4,651.8L1083.2,656.2L1085.0,660.7L1086.7,665.3L1088.3,670.0L1089.9,674.7L1091.4,679.5L1092.8,684.4L1094.2,689.3L1095.5,694.3L1096.7,699.4L1097.9,704.6L1099.0,709.8L1100.1,715.1L1101.1,720.5L1102.0,726.0L1102.9,731.5L1103.8,737.1L1104.6,742.7L1105.3,748.4L1106.0,754.2L1106.7,760.0L1107.3,765.9L1107.8,771.9L1108.4,777.9L1108.9,783.9L1109.3,790.0L1109.7,796.2L1110.0,802.4L1110.4,808.6L1110.6,814.9L1110.9,821.2L1111.1,827.6L1111.3,834.1L1111.4,840.6L1111.5,847.1L1111.6,853.7L1111.6,860.3L1111.6,867.0L1111.6,873.7L1111.6,880.5L1111.6,887.3L1111.5,894.2L1111.5,901.1L1111.4,908.1L1111.3,915.1L1111.2,922.1L1111.1,929.2L1111.1,936.4L1111.0,943.5L1110.9,950.8L1110.9,958.1L1110.9,965.4L1110.9,972.7L1110.9,980.2L1111.0,987.6L1111.1,995.1L1111.2,1002.6L1111.2,1010.2" stroke="#707173" stroke-width="6.4"/>
<path d="M638.7,495.7L646.1,495.8L653.4,495.9L660.7,495.9L667.9,495.9L675.1,496.0L682.2,496.0L689.2,496.1L696.2,496.2L703.2,496.3L710.1,496.3L716.9,496.5L723.7,496.6L730.4,496.7L737.1,496.9L743.7,497.1L750.2,497.3L756.7,497.5L763.1,497.8L769.5,498.1L775.8,498.4L782.1,498.8L788.3,499.2L794.4,499.6L800.5,500.0L806.5,500.5L812.5,501.1L818.4,501.6L824.3,502.2L830.1,502.8L835.9,503.5L841.6,504.2L847.3,504.9L852.9,505.7L858.5,506.5L864.0,507.4L869.5,508.3L875.0,509.2L880.4,510.2L885.9,511.3L891.3,512.4L896.7,513.6L902.1,514.8L907.5,516.1L912.8,517.5L918.1,518.9L923.3,520.4L928.5,522.0L933.7,523.6L938.8,525.3L943.8,527.1L948.8,529.0L953.7,531.0L958.6,533.0L963.4,535.1L968.1,537.3L972.7,539.5L977.2,541.9L981.7,544.3L986.1,546.7L990.4,549.3L994.6,551.9L998.6,554.5L1002.6,557.3L1006.6,560.0L1010.4,562.9L1014.1,565.7L1017.7,568.7L1021.2,571.6L1024.6,574.6L1028.0,577.7L1031.2,580.7L1034.3,583.9L1037.4,587.0L1040.3,590.2L1043.2,593.4L1046.0,596.6L1048.6,599.9L1051.2,603.1L1053.7,606.5L1056.2,609.8L1058.5,613.2L1060.8,616.7L1063.1,620.3L1065.3,624.0L1067.5,627.8L1069.7,631.7L1071.8,635.7L1073.9,639.8L1075.9,644.0L1077.8,648.2L1079.6,652.6L1081.4,657.0L1083.2,661.4L1084.9,666.0L1086.5,670.6L1088.0,675.3L1089.5,680.1L1090.9,685.0L1092.3,689.9L1093.6,694.9L1094.8,699.9L1096.0,705.1L1097.1,710.3L1098.1,715.6L1099.1,720.9L1100.1,726.3L1100.9,731.8L1101.8,737.4L1102.6,743.0L1103.3,748.7L1104.0,754.5L1104.7,760.3L1105.3,766.2L1105.8,772.1L1106.4,778.1L1106.8,784.1L1107.3,790.2L1107.7,796.3L1108.0,802.5L1108.3,808.8L1108.6,815.0L1108.8,821.4L1109.0,827.7L1109.2,834.2L1109.3,840.6L1109.4,847.2L1109.5,853.7L1109.6,860.4L1109.6,867.0L1109.6,873.8L1109.6,880.5L1109.5,887.3L1109.5,894.2L1109.4,901.1L1109.3,908.1L1109.2,915.1L1109.1,922.1L1109.1,929.2L1109.0,936.3L1108.9,943.5L1108.9,950.8L1108.8,958.0L1108.8,965.4L1108.8,972.7L1108.8,980.1L1108.9,987.6L1109.0,995.1L1109.2,1002.6L1109.2,1010.2" stroke="#6e6e70" stroke-width="6.4"/>
<path d="M638.6,497.8L646.0,497.9L653.4,497.9L660.7,498.0L667.9,498.0L675.0,498.1L682.2,498.1L689.2,498.2L696.2,498.2L703.2,498.3L710.0,498.4L716.9,498.5L723.6,498.6L730.3,498.8L737.0,498.9L743.6,499.1L750.1,499.3L756.6,499.6L763.0,499.9L769.4,500.1L775.7,500.5L781.9,500.8L788.1,501.2L794.2,501.6L800.3,502.1L806.3,502.6L812.3,503.1L818.2,503.6L824.0,504.2L829.8,504.8L835.6,505.5L841.3,506.2L846.9,506.9L852.5,507.7L858.1,508.5L863.6,509.4L869.1,510.3L874.5,511.2L880.0,512.2L885.4,513.2L890.8,514.3L896.2,515.5L901.5,516.7L906.9,518.0L912.2,519.3L917.4,520.7L922.7,522.2L927.8,523.8L933.0,525.4L938.1,527.1L943.1,528.9L948.0,530.8L952.9,532.7L957.8,534.7L962.5,536.8L967.2,539.0L971.8,541.2L976.3,543.5L980.8,545.9L985.1,548.4L989.4,550.9L993.5,553.5L997.6,556.1L1001.6,558.8L1005.5,561.6L1009.2,564.4L1012.9,567.3L1016.5,570.2L1020.0,573.1L1023.4,576.1L1026.7,579.1L1029.9,582.2L1033.0,585.2L1036.0,588.4L1039.0,591.5L1041.8,594.7L1044.5,597.9L1047.2,601.1L1049.7,604.4L1052.2,607.7L1054.6,611.0L1056.9,614.3L1059.2,617.8L1061.5,621.3L1063.7,625.0L1065.9,628.8L1068.0,632.6L1070.1,636.6L1072.1,640.7L1074.1,644.8L1076.0,649.1L1077.9,653.4L1079.6,657.7L1081.4,662.2L1083.0,666.7L1084.6,671.3L1086.2,676.0L1087.6,680.7L1089.0,685.6L1090.4,690.4L1091.7,695.4L1092.9,700.4L1094.0,705.6L1095.1,710.7L1096.2,716.0L1097.2,721.3L1098.1,726.7L1099.0,732.2L1099.8,737.7L1100.6,743.4L1101.3,749.0L1102.0,754.8L1102.7,760.6L1103.3,766.4L1103.8,772.4L1104.3,778.3L1104.8,784.3L1105.2,790.4L1105.6,796.5L1106.0,802.7L1106.3,808.9L1106.6,815.2L1106.8,821.5L1107.0,827.8L1107.2,834.3L1107.3,840.7L1107.4,847.2L1107.5,853.8L1107.5,860.4L1107.5,867.1L1107.5,873.8L1107.5,880.5L1107.4,887.4L1107.4,894.2L1107.3,901.1L1107.2,908.1L1107.2,915.1L1107.1,922.1L1107.0,929.2L1106.9,936.3L1106.8,943.5L1106.8,950.8L1106.7,958.0L1106.7,965.4L1106.7,972.7L1106.8,980.1L1106.8,987.6L1106.9,995.1L1107.1,1002.6L1107.1,1010.2" stroke="#6b6c6e" stroke-width="6.4"/>
<path d="M638.6,499.9L646.0,499.9L653.4,500.0L660.6,500.0L667.9,500.1L675.0,500.1L682.1,500.2L689.2,500.2L696.2,500.3L703.1,500.4L710.0,500.5L716.8,500.6L723.6,500.7L730.3,500.8L736.9,501.0L743.5,501.2L750.0,501.4L756.5,501.6L762.9,501.9L769.3,502.2L775.5,502.5L781.8,502.9L787.9,503.3L794.1,503.7L800.1,504.1L806.1,504.6L812.1,505.1L818.0,505.7L823.8,506.2L829.6,506.9L835.3,507.5L841.0,508.2L846.6,508.9L852.2,509.7L857.7,510.5L863.2,511.3L868.6,512.2L874.1,513.1L879.5,514.1L884.9,515.1L890.3,516.2L895.6,517.4L901.0,518.6L906.3,519.8L911.6,521.2L916.8,522.6L922.0,524.1L927.2,525.6L932.3,527.2L937.3,528.9L942.3,530.7L947.3,532.5L952.2,534.4L957.0,536.4L961.7,538.5L966.4,540.7L970.9,542.9L975.4,545.2L979.8,547.6L984.2,550.0L988.4,552.5L992.5,555.1L996.6,557.7L1000.5,560.4L1004.4,563.1L1008.1,565.9L1011.8,568.8L1015.3,571.6L1018.8,574.6L1022.2,577.5L1025.4,580.5L1028.6,583.6L1031.7,586.6L1034.7,589.7L1037.6,592.8L1040.4,596.0L1043.1,599.2L1045.7,602.4L1048.2,605.6L1050.7,608.8L1053.1,612.1L1055.4,615.4L1057.6,618.9L1059.8,622.4L1062.0,626.0L1064.2,629.8L1066.3,633.6L1068.4,637.5L1070.4,641.6L1072.4,645.7L1074.3,649.9L1076.1,654.2L1077.8,658.5L1079.6,662.9L1081.2,667.4L1082.8,672.0L1084.3,676.6L1085.8,681.4L1087.1,686.1L1088.5,691.0L1089.7,695.9L1091.0,701.0L1092.1,706.0L1093.2,711.2L1094.2,716.4L1095.2,721.7L1096.1,727.1L1097.0,732.6L1097.8,738.1L1098.6,743.7L1099.3,749.3L1100.0,755.1L1100.7,760.8L1101.3,766.7L1101.8,772.6L1102.3,778.5L1102.8,784.5L1103.2,790.6L1103.6,796.7L1104.0,802.8L1104.3,809.0L1104.5,815.3L1104.8,821.6L1105.0,827.9L1105.1,834.3L1105.2,840.8L1105.3,847.3L1105.4,853.9L1105.4,860.5L1105.5,867.1L1105.5,873.8L1105.4,880.6L1105.4,887.4L1105.3,894.2L1105.2,901.1L1105.2,908.1L1105.1,915.1L1105.0,922.1L1104.9,929.2L1104.8,936.3L1104.8,943.5L1104.7,950.7L1104.7,958.0L1104.6,965.3L1104.6,972.7L1104.7,980.1L1104.7,987.6L1104.9,995.1L1105.0,1002.6L1105.0,1010.2" stroke="#696a6c" stroke-width="6.4"/>
<path d="M638.6,501.9L646.0,502.0L653.3,502.0L660.6,502.1L667.8,502.1L675.0,502.2L682.1,502.2L689.2,502.3L696.2,502.4L703.1,502.4L710.0,502.5L716.8,502.6L723.5,502.8L730.2,502.9L736.8,503.1L743.4,503.2L749.9,503.5L756.4,503.7L762.8,504.0L769.1,504.2L775.4,504.6L781.6,504.9L787.8,505.3L793.9,505.7L799.9,506.1L805.9,506.6L811.8,507.1L817.7,507.7L823.5,508.3L829.3,508.9L835.0,509.5L840.6,510.2L846.3,510.9L851.8,511.7L857.3,512.5L862.8,513.3L868.2,514.2L873.6,515.1L879.0,516.0L884.4,517.1L889.8,518.1L895.1,519.3L900.4,520.5L905.7,521.7L911.0,523.0L916.2,524.4L921.4,525.9L926.5,527.4L931.6,529.0L936.6,530.7L941.6,532.5L946.5,534.3L951.4,536.2L956.1,538.2L960.9,540.2L965.5,542.4L970.0,544.6L974.5,546.9L978.9,549.2L983.2,551.6L987.4,554.1L991.5,556.7L995.5,559.3L999.5,562.0L1003.3,564.7L1007.0,567.5L1010.6,570.3L1014.2,573.1L1017.6,576.0L1020.9,579.0L1024.2,582.0L1027.3,585.0L1030.4,588.0L1033.3,591.1L1036.2,594.2L1039.0,597.3L1041.6,600.4L1044.2,603.6L1046.7,606.8L1049.2,610.0L1051.5,613.3L1053.8,616.6L1056.0,619.9L1058.2,623.4L1060.4,627.0L1062.5,630.7L1064.6,634.6L1066.7,638.5L1068.7,642.5L1070.6,646.6L1072.5,650.7L1074.3,655.0L1076.0,659.3L1077.7,663.7L1079.4,668.1L1080.9,672.7L1082.4,677.3L1083.9,682.0L1085.3,686.7L1086.6,691.6L1087.8,696.5L1089.0,701.5L1090.2,706.5L1091.3,711.7L1092.3,716.9L1093.3,722.2L1094.2,727.5L1095.0,732.9L1095.9,738.4L1096.6,744.0L1097.4,749.6L1098.0,755.3L1098.7,761.1L1099.3,766.9L1099.8,772.8L1100.3,778.8L1100.8,784.7L1101.2,790.8L1101.6,796.8L1101.9,803.0L1102.2,809.2L1102.5,815.4L1102.7,821.7L1102.9,828.0L1103.1,834.4L1103.2,840.9L1103.3,847.4L1103.4,853.9L1103.4,860.5L1103.4,867.2L1103.4,873.9L1103.4,880.6L1103.3,887.4L1103.3,894.2L1103.2,901.1L1103.1,908.1L1103.0,915.1L1102.9,922.1L1102.8,929.2L1102.7,936.3L1102.7,943.5L1102.6,950.7L1102.6,958.0L1102.6,965.3L1102.6,972.7L1102.6,980.1L1102.7,987.6L1102.8,995.1L1103.0,1002.6L1103.0,1010.2" stroke="#67686a" stroke-width="6.4"/>
<path d="M638.6,504.0L646.0,504.1L653.3,504.1L660.6,504.2L667.8,504.2L675.0,504.3L682.1,504.3L689.1,504.4L696.1,504.4L703.0,504.5L709.9,504.6L716.7,504.7L723.5,504.8L730.2,505.0L736.8,505.1L743.3,505.3L749.9,505.5L756.3,505.7L762.7,506.0L769.0,506.3L775.3,506.6L781.5,507.0L787.6,507.3L793.7,507.7L799.7,508.2L805.7,508.7L811.6,509.2L817.5,509.7L823.3,510.3L829.0,510.9L834.7,511.5L840.3,512.2L845.9,512.9L851.5,513.7L856.9,514.4L862.4,515.3L867.8,516.1L873.2,517.0L878.6,518.0L883.9,519.0L889.3,520.0L894.6,521.2L899.9,522.3L905.1,523.6L910.4,524.9L915.6,526.3L920.7,527.7L925.8,529.2L930.9,530.8L935.9,532.5L940.9,534.2L945.8,536.0L950.6,537.9L955.3,539.9L960.0,541.9L964.6,544.1L969.2,546.3L973.6,548.5L978.0,550.9L982.2,553.3L986.4,555.7L990.5,558.3L994.5,560.9L998.4,563.5L1002.2,566.2L1005.9,569.0L1009.5,571.8L1013.0,574.6L1016.4,577.5L1019.7,580.4L1022.9,583.4L1026.0,586.4L1029.0,589.4L1032.0,592.4L1034.8,595.5L1037.6,598.6L1040.2,601.7L1042.8,604.9L1045.3,608.0L1047.6,611.2L1050.0,614.4L1052.2,617.7L1054.4,621.0L1056.6,624.5L1058.7,628.1L1060.9,631.7L1062.9,635.5L1065.0,639.4L1066.9,643.4L1068.9,647.4L1070.7,651.6L1072.5,655.8L1074.2,660.0L1075.9,664.4L1077.5,668.8L1079.1,673.3L1080.6,677.9L1082.0,682.6L1083.4,687.3L1084.7,692.1L1085.9,697.0L1087.1,702.0L1088.3,707.0L1089.3,712.1L1090.3,717.3L1091.3,722.6L1092.2,727.9L1093.1,733.3L1093.9,738.8L1094.6,744.3L1095.4,749.9L1096.0,755.6L1096.7,761.4L1097.3,767.2L1097.8,773.1L1098.3,779.0L1098.8,784.9L1099.2,790.9L1099.6,797.0L1099.9,803.1L1100.2,809.3L1100.5,815.5L1100.7,821.8L1100.9,828.1L1101.0,834.5L1101.1,841.0L1101.2,847.4L1101.3,854.0L1101.3,860.6L1101.3,867.2L1101.3,873.9L1101.3,880.6L1101.2,887.4L1101.2,894.2L1101.1,901.1L1101.0,908.1L1100.9,915.1L1100.8,922.1L1100.7,929.2L1100.7,936.3L1100.6,943.5L1100.5,950.7L1100.5,958.0L1100.5,965.3L1100.5,972.7L1100.5,980.1L1100.6,987.6L1100.7,995.1L1100.9,1002.6L1100.9,1010.2" stroke="#656668" stroke-width="6.4"/>
<path d="M638.6,506.1L646.0,506.1L653.3,506.2L660.6,506.2L667.8,506.3L675.0,506.3L682.1,506.4L689.1,506.4L696.1,506.5L703.0,506.6L709.9,506.6L716.7,506.8L723.4,506.9L730.1,507.0L736.7,507.2L743.3,507.4L749.8,507.6L756.2,507.8L762.6,508.1L768.9,508.3L775.1,508.7L781.3,509.0L787.5,509.4L793.5,509.8L799.5,510.2L805.5,510.7L811.4,511.2L817.2,511.7L823.0,512.3L828.7,512.9L834.4,513.5L840.0,514.2L845.6,514.9L851.1,515.6L856.6,516.4L862.0,517.2L867.4,518.1L872.7,519.0L878.1,519.9L883.4,520.9L888.7,522.0L894.0,523.1L899.3,524.2L904.6,525.5L909.8,526.7L914.9,528.1L920.1,529.5L925.2,531.0L930.2,532.6L935.2,534.3L940.1,536.0L945.0,537.8L949.8,539.7L954.5,541.6L959.2,543.7L963.8,545.8L968.3,547.9L972.7,550.2L977.0,552.5L981.3,554.9L985.4,557.4L989.5,559.9L993.5,562.5L997.3,565.1L1001.1,567.8L1004.8,570.5L1008.3,573.3L1011.8,576.1L1015.2,579.0L1018.5,581.9L1021.6,584.8L1024.7,587.8L1027.7,590.8L1030.6,593.8L1033.4,596.8L1036.1,599.9L1038.8,603.0L1041.3,606.1L1043.8,609.2L1046.1,612.4L1048.4,615.6L1050.6,618.8L1052.8,622.1L1055.0,625.6L1057.1,629.1L1059.2,632.7L1061.2,636.5L1063.2,640.3L1065.2,644.3L1067.1,648.3L1069.0,652.4L1070.7,656.6L1072.4,660.8L1074.1,665.1L1075.7,669.5L1077.2,674.0L1078.7,678.6L1080.1,683.2L1081.5,687.9L1082.8,692.7L1084.0,697.6L1085.2,702.5L1086.3,707.5L1087.4,712.6L1088.4,717.7L1089.4,723.0L1090.3,728.3L1091.1,733.7L1091.9,739.1L1092.7,744.7L1093.4,750.3L1094.0,755.9L1094.7,761.7L1095.2,767.4L1095.8,773.3L1096.3,779.2L1096.7,785.1L1097.2,791.1L1097.5,797.2L1097.9,803.3L1098.2,809.4L1098.4,815.7L1098.6,821.9L1098.8,828.2L1099.0,834.6L1099.1,841.0L1099.2,847.5L1099.2,854.0L1099.3,860.6L1099.3,867.2L1099.3,873.9L1099.2,880.6L1099.2,887.4L1099.1,894.3L1099.0,901.1L1098.9,908.1L1098.9,915.1L1098.8,922.1L1098.7,929.2L1098.6,936.3L1098.5,943.5L1098.5,950.7L1098.4,958.0L1098.4,965.3L1098.4,972.7L1098.4,980.1L1098.5,987.6L1098.6,995.1L1098.8,1002.6L1098.8,1010.2" stroke="#636466" stroke-width="6.4"/>
<path d="M638.6,508.1L646.0,508.2L653.3,508.2L660.6,508.3L667.8,508.3L674.9,508.4L682.0,508.4L689.1,508.5L696.1,508.5L703.0,508.6L709.8,508.7L716.6,508.8L723.4,508.9L730.0,509.1L736.6,509.2L743.2,509.4L749.7,509.6L756.1,509.9L762.5,510.1L768.8,510.4L775.0,510.7L781.2,511.0L787.3,511.4L793.3,511.8L799.3,512.2L805.3,512.7L811.2,513.2L817.0,513.7L822.7,514.3L828.4,514.9L834.1,515.5L839.7,516.2L845.2,516.9L850.7,517.6L856.2,518.4L861.6,519.2L866.9,520.0L872.3,520.9L877.6,521.8L882.9,522.8L888.2,523.9L893.5,525.0L898.7,526.1L904.0,527.3L909.2,528.6L914.3,530.0L919.4,531.4L924.5,532.9L929.5,534.4L934.5,536.1L939.4,537.8L944.2,539.6L949.0,541.4L953.7,543.4L958.4,545.4L962.9,547.5L967.4,549.6L971.8,551.9L976.1,554.2L980.3,556.5L984.4,559.0L988.5,561.5L992.4,564.0L996.3,566.7L1000.0,569.3L1003.6,572.1L1007.2,574.8L1010.6,577.6L1014.0,580.5L1017.2,583.3L1020.4,586.3L1023.4,589.2L1026.4,592.2L1029.3,595.1L1032.0,598.2L1034.7,601.2L1037.3,604.3L1039.8,607.4L1042.3,610.5L1044.6,613.6L1046.9,616.8L1049.1,619.9L1051.2,623.2L1053.3,626.6L1055.4,630.1L1057.5,633.7L1059.5,637.4L1061.5,641.3L1063.5,645.2L1065.4,649.2L1067.2,653.2L1068.9,657.4L1070.6,661.6L1072.3,665.9L1073.9,670.3L1075.4,674.7L1076.9,679.2L1078.3,683.8L1079.6,688.5L1080.9,693.3L1082.1,698.1L1083.3,703.0L1084.4,708.0L1085.5,713.1L1086.5,718.2L1087.4,723.4L1088.3,728.7L1089.1,734.0L1089.9,739.5L1090.7,745.0L1091.4,750.6L1092.0,756.2L1092.7,761.9L1093.2,767.7L1093.8,773.5L1094.3,779.4L1094.7,785.3L1095.1,791.3L1095.5,797.3L1095.8,803.4L1096.1,809.6L1096.4,815.8L1096.6,822.0L1096.8,828.3L1096.9,834.7L1097.0,841.1L1097.1,847.6L1097.2,854.1L1097.2,860.7L1097.2,867.3L1097.2,873.9L1097.2,880.7L1097.1,887.4L1097.0,894.3L1097.0,901.1L1096.9,908.1L1096.8,915.1L1096.7,922.1L1096.6,929.2L1096.5,936.3L1096.4,943.5L1096.4,950.7L1096.3,958.0L1096.3,965.3L1096.3,972.7L1096.4,980.1L1096.4,987.5L1096.6,995.1L1096.7,1002.6L1096.7,1010.2" stroke="#606264" stroke-width="6.4"/>
<path d="M638.5,510.2L645.9,510.3L653.3,510.3L660.6,510.4L667.8,510.4L674.9,510.4L682.0,510.5L689.1,510.5L696.0,510.6L702.9,510.7L709.8,510.8L716.6,510.9L723.3,511.0L730.0,511.1L736.6,511.3L743.1,511.5L749.6,511.7L756.0,511.9L762.3,512.2L768.6,512.4L774.9,512.8L781.0,513.1L787.1,513.5L793.2,513.9L799.1,514.3L805.1,514.7L810.9,515.2L816.7,515.8L822.5,516.3L828.2,516.9L833.8,517.5L839.4,518.2L844.9,518.9L850.4,519.6L855.8,520.4L861.2,521.2L866.5,522.0L871.8,522.9L877.1,523.8L882.4,524.7L887.7,525.8L893.0,526.9L898.2,528.0L903.4,529.2L908.6,530.5L913.7,531.8L918.8,533.2L923.8,534.7L928.8,536.2L933.8,537.8L938.6,539.5L943.5,541.3L948.2,543.2L952.9,545.1L957.5,547.1L962.1,549.2L966.5,551.3L970.9,553.5L975.2,555.8L979.4,558.2L983.5,560.6L987.5,563.1L991.4,565.6L995.2,568.2L998.9,570.9L1002.5,573.6L1006.0,576.3L1009.4,579.1L1012.8,581.9L1016.0,584.8L1019.1,587.7L1022.1,590.6L1025.1,593.5L1027.9,596.5L1030.7,599.5L1033.3,602.5L1035.9,605.5L1038.4,608.6L1040.8,611.7L1043.1,614.8L1045.3,617.9L1047.5,621.1L1049.6,624.3L1051.7,627.7L1053.8,631.1L1055.8,634.7L1057.9,638.4L1059.8,642.2L1061.7,646.1L1063.6,650.0L1065.4,654.1L1067.2,658.2L1068.8,662.3L1070.5,666.6L1072.0,671.0L1073.6,675.4L1075.0,679.9L1076.4,684.5L1077.7,689.1L1079.0,693.8L1080.2,698.6L1081.4,703.5L1082.5,708.5L1083.5,713.5L1084.5,718.6L1085.5,723.8L1086.3,729.1L1087.2,734.4L1088.0,739.8L1088.7,745.3L1089.4,750.9L1090.1,756.5L1090.7,762.2L1091.2,767.9L1091.8,773.7L1092.3,779.6L1092.7,785.5L1093.1,791.5L1093.5,797.5L1093.8,803.6L1094.1,809.7L1094.3,815.9L1094.6,822.1L1094.7,828.4L1094.9,834.8L1095.0,841.2L1095.1,847.6L1095.1,854.1L1095.2,860.7L1095.2,867.3L1095.1,874.0L1095.1,880.7L1095.0,887.5L1095.0,894.3L1094.9,901.2L1094.8,908.1L1094.7,915.1L1094.6,922.1L1094.5,929.1L1094.4,936.3L1094.4,943.5L1094.3,950.7L1094.3,958.0L1094.2,965.3L1094.2,972.6L1094.3,980.1L1094.4,987.5L1094.5,995.1L1094.7,1002.6L1094.7,1010.2" stroke="#5e5f61" stroke-width="6.4"/>
<path d="M638.5,512.3L645.9,512.3L653.3,512.4L660.5,512.4L667.8,512.5L674.9,512.5L682.0,512.6L689.0,512.6L696.0,512.7L702.9,512.7L709.8,512.8L716.5,512.9L723.3,513.1L729.9,513.2L736.5,513.3L743.0,513.5L749.5,513.7L755.9,514.0L762.2,514.2L768.5,514.5L774.7,514.8L780.9,515.1L787.0,515.5L793.0,515.9L799.0,516.3L804.9,516.8L810.7,517.3L816.5,517.8L822.2,518.3L827.9,518.9L833.5,519.5L839.0,520.2L844.5,520.9L850.0,521.6L855.4,522.3L860.8,523.1L866.1,523.9L871.4,524.8L876.7,525.7L881.9,526.7L887.2,527.7L892.4,528.8L897.6,529.9L902.8,531.1L908.0,532.3L913.1,533.6L918.1,535.0L923.1,536.5L928.1,538.0L933.0,539.6L937.9,541.3L942.7,543.1L947.4,544.9L952.1,546.8L956.7,548.8L961.2,550.9L965.6,553.0L970.0,555.2L974.2,557.5L978.4,559.8L982.5,562.2L986.5,564.7L990.3,567.2L994.1,569.8L997.8,572.4L1001.4,575.1L1004.9,577.9L1008.3,580.6L1011.6,583.4L1014.8,586.3L1017.8,589.1L1020.8,592.0L1023.8,594.9L1026.6,597.9L1029.3,600.8L1031.9,603.8L1034.5,606.8L1036.9,609.9L1039.3,612.9L1041.6,616.0L1043.8,619.1L1045.9,622.2L1048.0,625.4L1050.1,628.7L1052.1,632.2L1054.2,635.7L1056.2,639.4L1058.1,643.1L1060.0,647.0L1061.9,650.9L1063.7,654.9L1065.4,659.0L1067.1,663.1L1068.7,667.4L1070.2,671.7L1071.7,676.1L1073.2,680.5L1074.5,685.1L1075.9,689.7L1077.1,694.4L1078.3,699.2L1079.5,704.0L1080.6,709.0L1081.6,714.0L1082.6,719.1L1083.5,724.2L1084.4,729.5L1085.2,734.8L1086.0,740.2L1086.7,745.6L1087.4,751.2L1088.1,756.8L1088.7,762.5L1089.2,768.2L1089.8,774.0L1090.2,779.8L1090.7,785.7L1091.1,791.7L1091.4,797.7L1091.8,803.7L1092.1,809.9L1092.3,816.0L1092.5,822.3L1092.7,828.5L1092.8,834.9L1092.9,841.3L1093.0,847.7L1093.1,854.2L1093.1,860.8L1093.1,867.4L1093.1,874.0L1093.0,880.7L1093.0,887.5L1092.9,894.3L1092.8,901.2L1092.7,908.1L1092.6,915.0L1092.5,922.1L1092.4,929.1L1092.3,936.3L1092.3,943.4L1092.2,950.7L1092.2,957.9L1092.2,965.3L1092.2,972.6L1092.2,980.1L1092.3,987.5L1092.4,995.1L1092.6,1002.6L1092.6,1010.2" stroke="#5c5d5f" stroke-width="6.4"/>
<path d="M638.5,514.3L645.9,514.4L653.2,514.4L660.5,514.5L667.7,514.5L674.9,514.6L682.0,514.6L689.0,514.7L696.0,514.7L702.9,514.8L709.7,514.9L716.5,515.0L723.2,515.1L729.8,515.2L736.4,515.4L742.9,515.6L749.4,515.8L755.8,516.0L762.1,516.3L768.4,516.5L774.6,516.8L780.7,517.2L786.8,517.5L792.8,517.9L798.8,518.4L804.6,518.8L810.5,519.3L816.2,519.8L821.9,520.4L827.6,520.9L833.2,521.5L838.7,522.2L844.2,522.9L849.6,523.6L855.0,524.3L860.4,525.1L865.7,525.9L870.9,526.7L876.2,527.6L881.4,528.6L886.7,529.6L891.9,530.6L897.1,531.8L902.2,532.9L907.3,534.2L912.4,535.5L917.5,536.9L922.5,538.3L927.4,539.8L932.3,541.4L937.2,543.1L941.9,544.8L946.7,546.6L951.3,548.5L955.9,550.5L960.3,552.5L964.7,554.7L969.1,556.9L973.3,559.1L977.4,561.4L981.5,563.8L985.4,566.3L989.3,568.8L993.1,571.4L996.7,574.0L1000.3,576.7L1003.7,579.4L1007.1,582.1L1010.3,584.9L1013.5,587.7L1016.6,590.5L1019.6,593.4L1022.4,596.3L1025.2,599.2L1027.9,602.2L1030.5,605.1L1033.0,608.1L1035.4,611.1L1037.8,614.1L1040.0,617.2L1042.2,620.2L1044.3,623.3L1046.4,626.5L1048.5,629.8L1050.5,633.2L1052.5,636.7L1054.5,640.3L1056.4,644.0L1058.3,647.8L1060.1,651.7L1061.9,655.7L1063.6,659.8L1065.3,663.9L1066.8,668.1L1068.4,672.4L1069.9,676.7L1071.3,681.2L1072.7,685.7L1074.0,690.3L1075.2,695.0L1076.4,699.7L1077.6,704.5L1078.6,709.4L1079.7,714.4L1080.6,719.5L1081.6,724.6L1082.4,729.9L1083.2,735.1L1084.0,740.5L1084.7,746.0L1085.4,751.5L1086.1,757.1L1086.7,762.7L1087.2,768.4L1087.7,774.2L1088.2,780.0L1088.7,785.9L1089.1,791.9L1089.4,797.9L1089.7,803.9L1090.0,810.0L1090.3,816.2L1090.5,822.4L1090.6,828.6L1090.8,835.0L1090.9,841.3L1091.0,847.8L1091.0,854.3L1091.0,860.8L1091.0,867.4L1091.0,874.0L1091.0,880.7L1090.9,887.5L1090.8,894.3L1090.7,901.2L1090.6,908.1L1090.6,915.0L1090.5,922.1L1090.4,929.1L1090.3,936.3L1090.2,943.4L1090.1,950.6L1090.1,957.9L1090.1,965.2L1090.1,972.6L1090.1,980.1L1090.2,987.5L1090.4,995.1L1090.5,1002.6L1090.5,1010.2" stroke="#5a5b5d" stroke-width="6.4"/>
<path d="M638.5,517.5L645.9,517.6L653.2,517.6L660.5,517.7L667.7,517.7L674.9,517.8L681.9,517.8L689.0,517.9L695.9,517.9L702.8,518.0L709.6,518.1L716.4,518.2L723.1,518.3L729.7,518.4L736.3,518.6L742.8,518.8L749.3,519.0L755.6,519.2L762.0,519.5L768.2,519.7L774.4,520.0L780.5,520.4L786.5,520.7L792.5,521.1L798.5,521.5L804.3,522.0L810.1,522.5L815.9,523.0L821.5,523.5L827.2,524.1L832.7,524.7L838.2,525.3L843.7,526.0L849.1,526.7L854.4,527.5L859.7,528.2L865.0,529.0L870.2,529.9L875.4,530.8L880.6,531.7L885.8,532.7L891.0,533.7L896.2,534.8L901.3,536.0L906.4,537.2L911.4,538.5L916.4,539.9L921.4,541.3L926.3,542.8L931.1,544.4L935.9,546.0L940.7,547.8L945.3,549.6L949.9,551.4L954.5,553.4L958.9,555.4L963.3,557.5L967.5,559.7L971.7,561.9L975.8,564.2L979.8,566.6L983.7,569.0L987.5,571.5L991.3,574.0L994.9,576.6L998.4,579.2L1001.8,581.9L1005.1,584.6L1008.3,587.4L1011.4,590.1L1014.5,592.9L1017.4,595.8L1020.2,598.6L1023.0,601.5L1025.6,604.4L1028.2,607.3L1030.6,610.2L1033.0,613.2L1035.3,616.1L1037.5,619.1L1039.7,622.1L1041.7,625.2L1043.8,628.3L1045.8,631.5L1047.8,634.9L1049.8,638.3L1051.7,641.9L1053.6,645.6L1055.4,649.3L1057.2,653.2L1059.0,657.1L1060.7,661.1L1062.3,665.1L1063.9,669.3L1065.4,673.5L1066.9,677.8L1068.3,682.2L1069.6,686.7L1070.9,691.3L1072.2,695.9L1073.3,700.6L1074.5,705.4L1075.5,710.2L1076.5,715.2L1077.5,720.2L1078.4,725.3L1079.3,730.5L1080.1,735.7L1080.9,741.1L1081.6,746.5L1082.3,752.0L1082.9,757.5L1083.5,763.1L1084.1,768.8L1084.6,774.6L1085.0,780.4L1085.5,786.2L1085.9,792.1L1086.2,798.1L1086.5,804.1L1086.8,810.2L1087.1,816.4L1087.3,822.5L1087.4,828.8L1087.6,835.1L1087.7,841.5L1087.8,847.9L1087.8,854.3L1087.8,860.9L1087.8,867.5L1087.8,874.1L1087.8,880.8L1087.7,887.5L1087.6,894.3L1087.5,901.2L1087.4,908.1L1087.4,915.0L1087.3,922.1L1087.2,929.1L1087.1,936.2L1087.0,943.4L1086.9,950.6L1086.9,957.9L1086.9,965.2L1086.9,972.6L1086.9,980.0L1087.0,987.5L1087.2,995.0L1087.3,1002.6L1087.3,1010.3" stroke="#808183" stroke-width="6.4"/>
<path d="M638.5,519.9L645.9,520.0L653.2,520.0L660.5,520.1L667.7,520.1L674.8,520.2L681.9,520.2L688.9,520.3L695.9,520.3L702.8,520.4L709.6,520.5L716.4,520.6L723.1,520.7L729.7,520.8L736.2,521.0L742.7,521.2L749.2,521.4L755.5,521.6L761.8,521.9L768.1,522.1L774.2,522.4L780.3,522.8L786.4,523.1L792.3,523.5L798.2,523.9L804.1,524.4L809.8,524.9L815.6,525.4L821.2,525.9L826.8,526.5L832.4,527.1L837.8,527.7L843.3,528.4L848.6,529.1L854.0,529.8L859.2,530.6L864.5,531.4L869.7,532.2L874.9,533.1L880.0,534.0L885.2,535.0L890.4,536.0L895.5,537.1L900.6,538.3L905.6,539.5L910.6,540.8L915.6,542.1L920.5,543.6L925.4,545.1L930.2,546.6L935.0,548.3L939.7,550.0L944.3,551.7L948.9,553.6L953.4,555.5L957.8,557.5L962.1,559.6L966.4,561.8L970.5,564.0L974.6,566.3L978.6,568.6L982.5,571.0L986.2,573.5L989.9,576.0L993.5,578.6L997.0,581.2L1000.3,583.8L1003.6,586.5L1006.8,589.2L1009.9,592.0L1012.9,594.7L1015.8,597.5L1018.6,600.4L1021.3,603.2L1023.9,606.1L1026.4,608.9L1028.8,611.8L1031.2,614.7L1033.4,617.7L1035.6,620.6L1037.7,623.6L1039.8,626.6L1041.8,629.6L1043.8,632.8L1045.7,636.1L1047.7,639.6L1049.6,643.1L1051.5,646.7L1053.3,650.4L1055.1,654.2L1056.8,658.1L1058.5,662.1L1060.1,666.1L1061.7,670.2L1063.2,674.4L1064.6,678.7L1066.0,683.0L1067.4,687.5L1068.6,692.0L1069.9,696.6L1071.0,701.2L1072.1,706.0L1073.2,710.8L1074.2,715.7L1075.2,720.7L1076.1,725.8L1076.9,730.9L1077.7,736.2L1078.5,741.5L1079.2,746.9L1079.9,752.3L1080.5,757.9L1081.1,763.5L1081.7,769.1L1082.2,774.9L1082.7,780.6L1083.1,786.5L1083.5,792.4L1083.8,798.3L1084.2,804.3L1084.4,810.4L1084.7,816.5L1084.9,822.7L1085.1,828.9L1085.2,835.2L1085.3,841.6L1085.4,848.0L1085.4,854.4L1085.4,860.9L1085.4,867.5L1085.4,874.1L1085.4,880.8L1085.3,887.5L1085.2,894.3L1085.1,901.2L1085.0,908.1L1085.0,915.0L1084.9,922.0L1084.8,929.1L1084.7,936.2L1084.6,943.4L1084.5,950.6L1084.5,957.9L1084.5,965.2L1084.5,972.6L1084.5,980.0L1084.6,987.5L1084.8,995.0L1084.9,1002.6L1084.9,1010.3" stroke="#868789" stroke-width="6.4"/>
<path d="M638.4,522.3L645.8,522.4L653.2,522.4L660.5,522.5L667.7,522.5L674.8,522.6L681.9,522.6L688.9,522.7L695.9,522.7L702.7,522.8L709.6,522.9L716.3,523.0L723.0,523.1L729.6,523.2L736.2,523.4L742.6,523.6L749.1,523.8L755.4,524.0L761.7,524.2L767.9,524.5L774.1,524.8L780.1,525.2L786.2,525.5L792.1,525.9L798.0,526.3L803.8,526.8L809.6,527.2L815.3,527.7L820.9,528.3L826.5,528.9L832.0,529.5L837.5,530.1L842.9,530.7L848.2,531.4L853.5,532.2L858.7,532.9L863.9,533.7L869.1,534.5L874.3,535.4L879.5,536.3L884.6,537.3L889.7,538.3L894.8,539.4L899.8,540.6L904.9,541.8L909.9,543.1L914.8,544.4L919.7,545.8L924.6,547.3L929.3,548.8L934.1,550.5L938.8,552.2L943.4,553.9L947.9,555.8L952.4,557.7L956.7,559.7L961.0,561.7L965.2,563.9L969.4,566.1L973.4,568.3L977.3,570.7L981.2,573.1L984.9,575.5L988.6,578.0L992.1,580.5L995.5,583.1L998.9,585.7L1002.1,588.4L1005.3,591.1L1008.3,593.8L1011.3,596.5L1014.1,599.3L1016.9,602.1L1019.6,604.9L1022.1,607.7L1024.6,610.6L1027.0,613.4L1029.4,616.3L1031.6,619.2L1033.7,622.1L1035.8,625.0L1037.8,628.0L1039.8,631.0L1041.8,634.1L1043.7,637.4L1045.6,640.8L1047.5,644.3L1049.4,647.8L1051.2,651.5L1052.9,655.3L1054.6,659.1L1056.3,663.0L1057.9,667.0L1059.4,671.1L1060.9,675.3L1062.4,679.5L1063.7,683.8L1065.1,688.2L1066.3,692.7L1067.6,697.3L1068.7,701.9L1069.8,706.6L1070.9,711.4L1071.9,716.3L1072.8,721.3L1073.7,726.3L1074.6,731.4L1075.4,736.6L1076.1,741.9L1076.8,747.3L1077.5,752.7L1078.1,758.2L1078.7,763.8L1079.3,769.4L1079.8,775.1L1080.3,780.9L1080.7,786.7L1081.1,792.6L1081.4,798.5L1081.8,804.5L1082.0,810.5L1082.3,816.6L1082.5,822.8L1082.7,829.0L1082.8,835.3L1082.9,841.6L1083.0,848.0L1083.0,854.5L1083.0,861.0L1083.0,867.5L1083.0,874.2L1083.0,880.8L1082.9,887.6L1082.8,894.4L1082.7,901.2L1082.6,908.1L1082.6,915.0L1082.5,922.0L1082.4,929.1L1082.3,936.2L1082.2,943.4L1082.1,950.6L1082.1,957.9L1082.1,965.2L1082.1,972.6L1082.1,980.0L1082.2,987.5L1082.4,995.0L1082.5,1002.6L1082.5,1010.3" stroke="#8b8c8e" stroke-width="6.4"/>
<path d="M638.4,524.7L645.8,524.8L653.2,524.8L660.4,524.9L667.6,524.9L674.8,525.0L681.9,525.0L688.9,525.1L695.8,525.1L702.7,525.2L709.5,525.3L716.3,525.4L722.9,525.5L729.5,525.6L736.1,525.8L742.5,526.0L749.0,526.2L755.3,526.4L761.6,526.6L767.8,526.9L773.9,527.2L780.0,527.5L786.0,527.9L791.9,528.3L797.8,528.7L803.6,529.2L809.3,529.6L815.0,530.1L820.6,530.7L826.2,531.2L831.6,531.8L837.1,532.5L842.5,533.1L847.8,533.8L853.0,534.5L858.3,535.3L863.4,536.1L868.6,536.9L873.7,537.7L878.9,538.7L884.0,539.6L889.0,540.7L894.1,541.7L899.1,542.9L904.1,544.1L909.1,545.3L914.0,546.7L918.9,548.1L923.7,549.5L928.5,551.1L933.2,552.7L937.8,554.4L942.4,556.1L946.9,558.0L951.3,559.9L955.7,561.8L959.9,563.9L964.1,566.0L968.2,568.2L972.2,570.4L976.1,572.7L979.9,575.1L983.6,577.5L987.2,580.0L990.7,582.5L994.1,585.1L997.4,587.6L1000.6,590.3L1003.8,592.9L1006.8,595.6L1009.7,598.3L1012.5,601.1L1015.2,603.8L1017.9,606.6L1020.4,609.4L1022.9,612.2L1025.2,615.0L1027.5,617.9L1029.7,620.7L1031.8,623.6L1033.9,626.5L1035.9,629.4L1037.8,632.3L1039.7,635.5L1041.7,638.7L1043.6,642.0L1045.4,645.5L1047.3,649.0L1049.0,652.6L1050.8,656.3L1052.5,660.2L1054.1,664.0L1055.7,668.0L1057.2,672.0L1058.7,676.1L1060.1,680.3L1061.5,684.6L1062.8,689.0L1064.1,693.4L1065.3,697.9L1066.4,702.5L1067.5,707.2L1068.6,712.0L1069.5,716.8L1070.5,721.8L1071.4,726.8L1072.2,731.9L1073.0,737.1L1073.8,742.3L1074.5,747.6L1075.1,753.0L1075.8,758.5L1076.4,764.1L1076.9,769.7L1077.4,775.4L1077.9,781.1L1078.3,786.9L1078.7,792.8L1079.1,798.7L1079.4,804.7L1079.6,810.7L1079.9,816.8L1080.1,822.9L1080.3,829.1L1080.4,835.4L1080.5,841.7L1080.6,848.1L1080.6,854.5L1080.6,861.0L1080.6,867.6L1080.6,874.2L1080.6,880.9L1080.5,887.6L1080.4,894.4L1080.3,901.2L1080.2,908.1L1080.2,915.0L1080.1,922.0L1080.0,929.1L1079.9,936.2L1079.8,943.4L1079.7,950.6L1079.7,957.9L1079.7,965.2L1079.7,972.6L1079.7,980.0L1079.8,987.5L1080.0,995.0L1080.1,1002.6L1080.1,1010.3" stroke="#919294" stroke-width="6.4"/>
<path d="M638.4,527.1L645.8,527.2L653.1,527.2L660.4,527.3L667.6,527.3L674.8,527.4L681.8,527.4L688.8,527.5L695.8,527.5L702.7,527.6L709.5,527.7L716.2,527.8L722.9,527.9L729.5,528.0L736.0,528.2L742.5,528.4L748.9,528.6L755.2,528.8L761.4,529.0L767.6,529.3L773.7,529.6L779.8,529.9L785.8,530.3L791.7,530.7L797.5,531.1L803.3,531.5L809.0,532.0L814.7,532.5L820.3,533.0L825.8,533.6L831.3,534.2L836.7,534.8L842.0,535.5L847.3,536.2L852.6,536.9L857.8,537.6L862.9,538.4L868.0,539.2L873.2,540.1L878.3,541.0L883.3,542.0L888.4,543.0L893.4,544.0L898.4,545.2L903.4,546.4L908.3,547.6L913.2,548.9L918.0,550.3L922.8,551.8L927.6,553.3L932.2,554.9L936.8,556.6L941.4,558.3L945.9,560.1L950.3,562.0L954.6,564.0L958.8,566.0L962.9,568.1L967.0,570.3L971.0,572.5L974.8,574.8L978.6,577.1L982.3,579.5L985.9,582.0L989.3,584.5L992.7,587.0L996.0,589.6L999.2,592.2L1002.2,594.8L1005.2,597.5L1008.1,600.1L1010.9,602.8L1013.6,605.6L1016.2,608.3L1018.7,611.1L1021.1,613.8L1023.5,616.6L1025.7,619.4L1027.9,622.2L1030.0,625.0L1032.0,627.9L1033.9,630.7L1035.8,633.7L1037.7,636.8L1039.6,639.9L1041.5,643.2L1043.3,646.6L1045.1,650.1L1046.9,653.7L1048.6,657.4L1050.3,661.2L1051.9,665.0L1053.5,668.9L1055.0,672.9L1056.5,677.0L1057.9,681.2L1059.2,685.4L1060.5,689.7L1061.8,694.1L1063.0,698.6L1064.1,703.2L1065.2,707.9L1066.2,712.6L1067.2,717.4L1068.1,722.3L1069.0,727.3L1069.9,732.4L1070.7,737.5L1071.4,742.7L1072.1,748.0L1072.8,753.4L1073.4,758.9L1074.0,764.4L1074.5,770.0L1075.0,775.7L1075.5,781.4L1075.9,787.2L1076.3,793.0L1076.7,798.9L1077.0,804.9L1077.3,810.9L1077.5,816.9L1077.7,823.1L1077.9,829.3L1078.0,835.5L1078.1,841.8L1078.2,848.2L1078.2,854.6L1078.2,861.1L1078.2,867.6L1078.2,874.2L1078.2,880.9L1078.1,887.6L1078.0,894.4L1077.9,901.2L1077.8,908.1L1077.8,915.0L1077.7,922.0L1077.6,929.1L1077.5,936.2L1077.4,943.4L1077.3,950.6L1077.3,957.8L1077.3,965.2L1077.3,972.6L1077.3,980.0L1077.4,987.5L1077.6,995.0L1077.7,1002.6L1077.7,1010.3" stroke="#97989a" stroke-width="6.4"/>
<path d="M638.4,529.5L645.8,529.6L653.1,529.6L660.4,529.7L667.6,529.7L674.7,529.8L681.8,529.8L688.8,529.9L695.8,529.9L702.6,530.0L709.4,530.1L716.1,530.2L722.8,530.3L729.4,530.4L735.9,530.6L742.4,530.8L748.7,531.0L755.1,531.2L761.3,531.4L767.5,531.7L773.6,532.0L779.6,532.3L785.6,532.7L791.5,533.1L797.3,533.5L803.1,533.9L808.8,534.4L814.4,534.9L820.0,535.4L825.5,536.0L830.9,536.6L836.3,537.2L841.6,537.8L846.9,538.5L852.1,539.2L857.3,540.0L862.4,540.7L867.5,541.6L872.6,542.4L877.7,543.3L882.7,544.3L887.7,545.3L892.7,546.3L897.7,547.5L902.6,548.6L907.5,549.9L912.4,551.2L917.2,552.6L922.0,554.0L926.7,555.5L931.3,557.1L935.9,558.8L940.4,560.5L944.8,562.3L949.2,564.2L953.5,566.1L957.7,568.1L961.8,570.2L965.8,572.3L969.8,574.6L973.6,576.8L977.3,579.1L981.0,581.5L984.5,583.9L987.9,586.4L991.3,588.9L994.5,591.5L997.7,594.0L1000.7,596.6L1003.7,599.3L1006.5,601.9L1009.3,604.6L1011.9,607.3L1014.5,610.0L1017.0,612.7L1019.4,615.5L1021.7,618.2L1023.9,621.0L1026.0,623.7L1028.1,626.5L1030.0,629.3L1031.9,632.1L1033.8,635.0L1035.7,638.1L1037.6,641.2L1039.4,644.5L1041.3,647.8L1043.0,651.3L1044.8,654.8L1046.5,658.5L1048.1,662.2L1049.7,666.0L1051.3,669.9L1052.8,673.8L1054.2,677.9L1055.6,682.0L1057.0,686.2L1058.2,690.5L1059.5,694.9L1060.7,699.3L1061.8,703.9L1062.9,708.5L1063.9,713.2L1064.9,718.0L1065.8,722.8L1066.7,727.8L1067.5,732.8L1068.3,737.9L1069.0,743.1L1069.7,748.4L1070.4,753.8L1071.0,759.2L1071.6,764.7L1072.1,770.3L1072.6,776.0L1073.1,781.6L1073.5,787.4L1073.9,793.2L1074.3,799.1L1074.6,805.0L1074.9,811.0L1075.1,817.1L1075.3,823.2L1075.5,829.4L1075.6,835.6L1075.7,841.9L1075.8,848.3L1075.8,854.7L1075.8,861.2L1075.8,867.7L1075.8,874.3L1075.8,880.9L1075.7,887.6L1075.6,894.4L1075.5,901.2L1075.4,908.1L1075.4,915.0L1075.3,922.0L1075.2,929.1L1075.1,936.2L1075.0,943.3L1074.9,950.6L1074.9,957.8L1074.9,965.2L1074.9,972.5L1074.9,980.0L1075.0,987.5L1075.2,995.0L1075.3,1002.6L1075.3,1010.3" stroke="#9d9ea0" stroke-width="6.4"/>
<path d="M638.4,531.9L645.8,532.0L653.1,532.0L660.4,532.1L667.6,532.1L674.7,532.2L681.8,532.2L688.8,532.3L695.7,532.3L702.6,532.4L709.4,532.5L716.1,532.6L722.7,532.7L729.3,532.8L735.8,533.0L742.3,533.2L748.6,533.4L754.9,533.6L761.2,533.8L767.3,534.1L773.4,534.4L779.4,534.7L785.4,535.1L791.3,535.5L797.1,535.9L802.8,536.3L808.5,536.8L814.1,537.3L819.7,537.8L825.2,538.4L830.6,538.9L835.9,539.6L841.2,540.2L846.5,540.9L851.7,541.6L856.8,542.3L861.9,543.1L867.0,543.9L872.0,544.7L877.1,545.6L882.1,546.6L887.1,547.6L892.1,548.6L897.0,549.7L901.9,550.9L906.8,552.2L911.6,553.5L916.4,554.8L921.1,556.3L925.8,557.8L930.4,559.3L934.9,561.0L939.4,562.7L943.8,564.5L948.2,566.3L952.4,568.3L956.6,570.2L960.6,572.3L964.6,574.4L968.5,576.6L972.3,578.9L976.0,581.2L979.7,583.5L983.2,585.9L986.6,588.4L989.9,590.9L993.1,593.4L996.2,595.9L999.2,598.5L1002.1,601.1L1004.9,603.7L1007.6,606.4L1010.3,609.0L1012.8,611.7L1015.2,614.4L1017.6,617.1L1019.9,619.8L1022.0,622.5L1024.1,625.3L1026.2,628.0L1028.1,630.8L1030.0,633.5L1031.9,636.4L1033.7,639.4L1035.5,642.5L1037.4,645.7L1039.2,649.0L1040.9,652.4L1042.6,655.9L1044.3,659.5L1046.0,663.2L1047.5,667.0L1049.1,670.8L1050.5,674.7L1052.0,678.7L1053.4,682.8L1054.7,687.0L1056.0,691.3L1057.2,695.6L1058.4,700.0L1059.5,704.5L1060.6,709.1L1061.6,713.8L1062.5,718.5L1063.5,723.4L1064.3,728.3L1065.2,733.3L1065.9,738.4L1066.7,743.6L1067.4,748.8L1068.0,754.1L1068.6,759.6L1069.2,765.0L1069.8,770.6L1070.3,776.2L1070.7,781.9L1071.1,787.6L1071.5,793.4L1071.9,799.3L1072.2,805.2L1072.5,811.2L1072.7,817.2L1072.9,823.3L1073.1,829.5L1073.2,835.7L1073.3,842.0L1073.4,848.3L1073.4,854.7L1073.4,861.2L1073.4,867.7L1073.4,874.3L1073.4,881.0L1073.3,887.7L1073.2,894.4L1073.1,901.2L1073.0,908.1L1073.0,915.0L1072.9,922.0L1072.8,929.1L1072.7,936.2L1072.6,943.3L1072.5,950.5L1072.5,957.8L1072.5,965.1L1072.5,972.5L1072.5,980.0L1072.6,987.5L1072.8,995.0L1072.9,1002.6L1072.9,1010.3" stroke="#a3a4a6" stroke-width="6.4"/>
<path d="M638.3,534.3L645.7,534.4L653.1,534.4L660.4,534.5L667.6,534.5L674.7,534.6L681.8,534.6L688.8,534.7L695.7,534.7L702.5,534.8L709.3,534.9L716.0,535.0L722.7,535.1L729.2,535.2L735.8,535.4L742.2,535.6L748.5,535.8L754.8,536.0L761.0,536.2L767.2,536.5L773.3,536.8L779.3,537.1L785.2,537.5L791.1,537.9L796.9,538.3L802.6,538.7L808.2,539.2L813.8,539.7L819.4,540.2L824.8,540.7L830.2,541.3L835.6,541.9L840.8,542.6L846.1,543.2L851.2,543.9L856.3,544.7L861.4,545.4L866.4,546.2L871.5,547.1L876.5,548.0L881.5,548.9L886.4,549.9L891.4,550.9L896.3,552.0L901.2,553.2L906.0,554.4L910.8,555.7L915.5,557.1L920.2,558.5L924.9,560.0L929.5,561.5L934.0,563.2L938.4,564.9L942.8,566.6L947.1,568.5L951.3,570.4L955.5,572.4L959.5,574.4L963.5,576.5L967.3,578.7L971.1,580.9L974.8,583.2L978.3,585.5L981.8,587.9L985.2,590.3L988.5,592.8L991.6,595.3L994.7,597.8L997.7,600.4L1000.6,602.9L1003.3,605.5L1006.0,608.1L1008.6,610.8L1011.1,613.4L1013.5,616.1L1015.8,618.7L1018.1,621.4L1020.2,624.1L1022.3,626.8L1024.3,629.5L1026.2,632.2L1028.0,634.9L1029.9,637.7L1031.7,640.7L1033.5,643.7L1035.3,646.9L1037.1,650.2L1038.8,653.6L1040.5,657.0L1042.2,660.6L1043.8,664.2L1045.4,668.0L1046.9,671.8L1048.3,675.6L1049.7,679.6L1051.1,683.7L1052.4,687.8L1053.7,692.0L1054.9,696.3L1056.1,700.7L1057.2,705.2L1058.2,709.7L1059.2,714.3L1060.2,719.1L1061.1,723.9L1062.0,728.8L1062.8,733.8L1063.6,738.8L1064.3,744.0L1065.0,749.2L1065.7,754.5L1066.3,759.9L1066.8,765.4L1067.4,770.9L1067.9,776.5L1068.3,782.2L1068.8,787.9L1069.1,793.7L1069.5,799.5L1069.8,805.4L1070.1,811.4L1070.3,817.4L1070.5,823.5L1070.7,829.6L1070.8,835.8L1070.9,842.1L1071.0,848.4L1071.0,854.8L1071.0,861.3L1071.0,867.8L1071.0,874.4L1071.0,881.0L1070.9,887.7L1070.8,894.4L1070.7,901.2L1070.6,908.1L1070.6,915.0L1070.5,922.0L1070.4,929.1L1070.3,936.2L1070.2,943.3L1070.1,950.5L1070.1,957.8L1070.1,965.1L1070.1,972.5L1070.1,980.0L1070.2,987.5L1070.4,995.0L1070.5,1002.6L1070.5,1010.3" stroke="#a8a9ab" stroke-width="6.4"/>
<path d="M638.3,536.7L645.7,536.8L653.1,536.8L660.3,536.9L667.5,536.9L674.7,537.0L681.7,537.0L688.7,537.1L695.6,537.1L702.5,537.2L709.3,537.3L716.0,537.4L722.6,537.5L729.2,537.6L735.7,537.8L742.1,538.0L748.4,538.2L754.7,538.4L760.9,538.6L767.0,538.9L773.1,539.2L779.1,539.5L785.0,539.9L790.9,540.2L796.6,540.7L802.3,541.1L808.0,541.6L813.5,542.0L819.1,542.6L824.5,543.1L829.9,543.7L835.2,544.3L840.4,544.9L845.6,545.6L850.8,546.3L855.8,547.0L860.9,547.8L865.9,548.6L870.9,549.4L875.9,550.3L880.8,551.2L885.8,552.2L890.7,553.2L895.6,554.3L900.4,555.5L905.2,556.7L910.0,558.0L914.7,559.3L919.4,560.7L924.0,562.2L928.5,563.8L933.0,565.4L937.4,567.1L941.8,568.8L946.0,570.6L950.2,572.5L954.3,574.5L958.4,576.5L962.3,578.6L966.1,580.8L969.8,583.0L973.5,585.2L977.0,587.5L980.5,589.9L983.8,592.3L987.0,594.7L990.2,597.2L993.2,599.7L996.2,602.2L999.0,604.8L1001.7,607.3L1004.4,609.9L1007.0,612.5L1009.4,615.1L1011.8,617.7L1014.1,620.4L1016.3,623.0L1018.4,625.6L1020.4,628.3L1022.4,631.0L1024.3,633.6L1026.1,636.3L1027.9,639.1L1029.7,642.0L1031.5,645.0L1033.2,648.1L1035.0,651.4L1036.7,654.7L1038.4,658.1L1040.0,661.7L1041.6,665.3L1043.2,668.9L1044.7,672.7L1046.1,676.5L1047.5,680.5L1048.9,684.5L1050.2,688.6L1051.4,692.8L1052.6,697.0L1053.8,701.4L1054.9,705.8L1055.9,710.3L1056.9,714.9L1057.9,719.6L1058.8,724.4L1059.6,729.3L1060.5,734.2L1061.2,739.3L1062.0,744.4L1062.6,749.6L1063.3,754.9L1063.9,760.2L1064.5,765.7L1065.0,771.2L1065.5,776.8L1066.0,782.4L1066.4,788.1L1066.8,793.9L1067.1,799.7L1067.4,805.6L1067.7,811.5L1067.9,817.5L1068.1,823.6L1068.3,829.7L1068.4,835.9L1068.5,842.2L1068.6,848.5L1068.6,854.9L1068.6,861.3L1068.6,867.8L1068.6,874.4L1068.6,881.0L1068.5,887.7L1068.4,894.4L1068.3,901.2L1068.2,908.1L1068.2,915.0L1068.1,922.0L1068.0,929.0L1067.9,936.1L1067.8,943.3L1067.7,950.5L1067.7,957.8L1067.7,965.1L1067.7,972.5L1067.7,979.9L1067.8,987.4L1068.0,995.0L1068.1,1002.6L1068.1,1010.3" stroke="#aeafb1" stroke-width="6.4"/>
<path d="M638.3,539.1L645.7,539.2L653.1,539.2L660.3,539.3L667.5,539.3L674.7,539.4L681.7,539.4L688.7,539.5L695.6,539.5L702.5,539.6L709.2,539.7L715.9,539.8L722.6,539.9L729.1,540.0L735.6,540.2L742.0,540.4L748.3,540.6L754.6,540.8L760.8,541.0L766.9,541.3L772.9,541.6L778.9,541.9L784.8,542.3L790.6,542.6L796.4,543.0L802.1,543.5L807.7,543.9L813.3,544.4L818.7,544.9L824.2,545.5L829.5,546.1L834.8,546.7L840.0,547.3L845.2,548.0L850.3,548.7L855.4,549.4L860.4,550.1L865.3,550.9L870.3,551.7L875.3,552.6L880.2,553.5L885.1,554.5L890.0,555.5L894.9,556.6L899.7,557.8L904.5,559.0L909.2,560.2L913.9,561.6L918.5,563.0L923.1,564.4L927.6,566.0L932.1,567.6L936.5,569.3L940.8,571.0L945.0,572.8L949.2,574.7L953.2,576.6L957.2,578.6L961.1,580.7L964.9,582.8L968.6,585.0L972.2,587.3L975.7,589.6L979.1,591.9L982.4,594.3L985.6,596.7L988.7,599.1L991.7,601.6L994.6,604.1L997.4,606.6L1000.2,609.1L1002.8,611.7L1005.3,614.2L1007.7,616.8L1010.1,619.4L1012.3,622.0L1014.5,624.6L1016.6,627.2L1018.6,629.8L1020.5,632.4L1022.3,635.1L1024.1,637.7L1025.9,640.4L1027.7,643.3L1029.4,646.3L1031.2,649.4L1032.9,652.6L1034.6,655.9L1036.3,659.2L1037.9,662.7L1039.4,666.3L1041.0,669.9L1042.4,673.6L1043.9,677.4L1045.3,681.3L1046.6,685.3L1047.9,689.4L1049.1,693.5L1050.3,697.7L1051.5,702.1L1052.6,706.5L1053.6,711.0L1054.6,715.5L1055.5,720.2L1056.4,724.9L1057.3,729.8L1058.1,734.7L1058.9,739.7L1059.6,744.8L1060.3,750.0L1060.9,755.2L1061.5,760.6L1062.1,766.0L1062.6,771.5L1063.1,777.1L1063.6,782.7L1064.0,788.3L1064.4,794.1L1064.7,799.9L1065.0,805.8L1065.3,811.7L1065.5,817.7L1065.7,823.7L1065.9,829.9L1066.0,836.0L1066.1,842.3L1066.2,848.6L1066.2,854.9L1066.2,861.4L1066.2,867.9L1066.2,874.4L1066.2,881.0L1066.1,887.7L1066.0,894.4L1065.9,901.2L1065.8,908.1L1065.8,915.0L1065.7,922.0L1065.6,929.0L1065.5,936.1L1065.4,943.3L1065.3,950.5L1065.3,957.8L1065.3,965.1L1065.3,972.5L1065.3,979.9L1065.4,987.4L1065.6,995.0L1065.7,1002.6L1065.7,1010.3" stroke="#b4b5b7" stroke-width="6.4"/>
<path d="M638.3,541.5L645.7,541.6L653.0,541.6L660.3,541.7L667.5,541.7L674.6,541.8L681.7,541.8L688.7,541.9L695.6,541.9L702.4,542.0L709.2,542.1L715.9,542.2L722.5,542.3L729.0,542.4L735.5,542.6L741.9,542.8L748.2,543.0L754.5,543.2L760.7,543.4L766.8,543.7L772.8,544.0L778.7,544.3L784.6,544.7L790.4,545.0L796.2,545.4L801.8,545.9L807.4,546.3L813.0,546.8L818.4,547.3L823.8,547.9L829.2,548.4L834.4,549.0L839.6,549.7L844.8,550.3L849.8,551.0L854.9,551.7L859.9,552.5L864.8,553.2L869.7,554.1L874.7,554.9L879.6,555.9L884.5,556.8L889.3,557.8L894.1,558.9L898.9,560.0L903.7,561.2L908.4,562.5L913.0,563.8L917.7,565.2L922.2,566.7L926.7,568.2L931.1,569.8L935.5,571.4L939.7,573.2L943.9,575.0L948.1,576.8L952.1,578.8L956.1,580.7L959.9,582.8L963.7,584.9L967.3,587.1L970.9,589.3L974.4,591.6L977.8,593.9L981.0,596.2L984.2,598.6L987.3,601.0L990.2,603.5L993.1,605.9L995.9,608.4L998.6,610.9L1001.1,613.4L1003.6,616.0L1006.0,618.5L1008.3,621.1L1010.6,623.6L1012.7,626.2L1014.7,628.7L1016.7,631.3L1018.6,633.9L1020.4,636.5L1022.2,639.1L1023.9,641.8L1025.7,644.6L1027.4,647.5L1029.1,650.6L1030.8,653.7L1032.5,657.0L1034.1,660.3L1035.7,663.8L1037.3,667.3L1038.8,670.9L1040.2,674.6L1041.7,678.3L1043.0,682.2L1044.4,686.1L1045.6,690.2L1046.9,694.3L1048.0,698.5L1049.2,702.8L1050.2,707.1L1051.3,711.6L1052.3,716.1L1053.2,720.7L1054.1,725.5L1054.9,730.3L1055.7,735.2L1056.5,740.1L1057.2,745.2L1057.9,750.4L1058.5,755.6L1059.1,760.9L1059.7,766.3L1060.2,771.8L1060.7,777.3L1061.2,782.9L1061.6,788.6L1062.0,794.3L1062.3,800.1L1062.6,805.9L1062.9,811.8L1063.1,817.8L1063.3,823.9L1063.5,830.0L1063.6,836.1L1063.7,842.4L1063.8,848.7L1063.8,855.0L1063.8,861.4L1063.8,867.9L1063.8,874.5L1063.8,881.1L1063.7,887.7L1063.6,894.5L1063.5,901.3L1063.4,908.1L1063.4,915.0L1063.3,922.0L1063.2,929.0L1063.1,936.1L1063.0,943.3L1062.9,950.5L1062.9,957.7L1062.9,965.1L1062.9,972.5L1062.9,979.9L1063.0,987.4L1063.2,995.0L1063.3,1002.6L1063.3,1010.3" stroke="#babbbd" stroke-width="6.4"/>
<path d="M638.3,543.9L645.7,544.0L653.0,544.0L660.3,544.1L667.5,544.1L674.6,544.2L681.7,544.2L688.6,544.3L695.5,544.3L702.4,544.4L709.1,544.5L715.8,544.6L722.4,544.7L729.0,544.8L735.4,545.0L741.8,545.2L748.1,545.4L754.4,545.6L760.5,545.8L766.6,546.1L772.6,546.4L778.6,546.7L784.4,547.0L790.2,547.4L795.9,547.8L801.6,548.2L807.2,548.7L812.7,549.2L818.1,549.7L823.5,550.2L828.8,550.8L834.0,551.4L839.2,552.0L844.3,552.7L849.4,553.4L854.4,554.1L859.3,554.8L864.3,555.6L869.2,556.4L874.1,557.3L879.0,558.2L883.8,559.1L888.6,560.1L893.4,561.2L898.2,562.3L902.9,563.5L907.6,564.8L912.2,566.1L916.8,567.4L921.3,568.9L925.8,570.4L930.2,572.0L934.5,573.6L938.7,575.3L942.9,577.1L947.0,579.0L951.0,580.9L954.9,582.8L958.7,584.9L962.5,587.0L966.1,589.1L969.6,591.3L973.1,593.6L976.4,595.9L979.6,598.2L982.8,600.5L985.8,602.9L988.8,605.4L991.6,607.8L994.3,610.2L997.0,612.7L999.5,615.2L1002.0,617.7L1004.3,620.2L1006.6,622.7L1008.8,625.2L1010.9,627.8L1012.9,630.3L1014.8,632.8L1016.7,635.4L1018.5,637.9L1020.2,640.5L1021.9,643.1L1023.6,645.9L1025.4,648.8L1027.1,651.8L1028.7,654.9L1030.4,658.1L1032.0,661.4L1033.6,664.8L1035.1,668.3L1036.6,671.9L1038.0,675.5L1039.4,679.3L1040.8,683.1L1042.1,687.0L1043.4,691.0L1044.6,695.0L1045.7,699.2L1046.9,703.4L1047.9,707.8L1049.0,712.2L1049.9,716.7L1050.9,721.3L1051.8,726.0L1052.6,730.8L1053.4,735.6L1054.1,740.6L1054.9,745.6L1055.5,750.8L1056.2,756.0L1056.8,761.3L1057.3,766.6L1057.9,772.1L1058.3,777.6L1058.8,783.2L1059.2,788.8L1059.6,794.5L1059.9,800.3L1060.2,806.1L1060.5,812.0L1060.7,818.0L1060.9,824.0L1061.1,830.1L1061.2,836.2L1061.3,842.5L1061.4,848.7L1061.4,855.1L1061.4,861.5L1061.4,868.0L1061.4,874.5L1061.4,881.1L1061.3,887.8L1061.2,894.5L1061.1,901.3L1061.0,908.1L1061.0,915.0L1060.9,922.0L1060.8,929.0L1060.7,936.1L1060.6,943.3L1060.5,950.5L1060.5,957.7L1060.5,965.1L1060.5,972.5L1060.5,979.9L1060.6,987.4L1060.8,995.0L1060.9,1002.6L1060.9,1010.3" stroke="#bfc0c2" stroke-width="6.4"/>
<path d="M638.2,546.3L645.7,546.4L653.0,546.4L660.3,546.5L667.5,546.5L674.6,546.6L681.6,546.6L688.6,546.7L695.5,546.7L702.3,546.8L709.1,546.9L715.8,547.0L722.4,547.1L728.9,547.2L735.3,547.4L741.7,547.6L748.0,547.8L754.2,548.0L760.4,548.2L766.5,548.5L772.5,548.8L778.4,549.1L784.2,549.4L790.0,549.8L795.7,550.2L801.3,550.6L806.9,551.1L812.4,551.6L817.8,552.1L823.2,552.6L828.4,553.2L833.7,553.8L838.8,554.4L843.9,555.0L848.9,555.7L853.9,556.4L858.8,557.2L863.7,557.9L868.6,558.7L873.5,559.6L878.3,560.5L883.2,561.4L888.0,562.4L892.7,563.5L897.4,564.6L902.1,565.8L906.8,567.0L911.4,568.3L915.9,569.7L920.4,571.1L924.8,572.6L929.2,574.2L933.5,575.8L937.7,577.5L941.8,579.3L945.9,581.1L949.9,583.0L953.8,585.0L957.6,587.0L961.3,589.0L964.9,591.2L968.4,593.3L971.8,595.6L975.1,597.8L978.3,600.1L981.4,602.5L984.4,604.8L987.3,607.2L990.1,609.6L992.8,612.1L995.4,614.5L997.9,617.0L1000.3,619.4L1002.6,621.9L1004.9,624.4L1007.0,626.9L1009.1,629.4L1011.1,631.9L1013.0,634.4L1014.8,636.9L1016.6,639.4L1018.3,641.9L1020.0,644.5L1021.6,647.2L1023.3,650.1L1025.0,653.0L1026.6,656.1L1028.3,659.3L1029.9,662.6L1031.4,665.9L1032.9,669.4L1034.4,672.9L1035.8,676.5L1037.2,680.2L1038.6,683.9L1039.8,687.8L1041.1,691.8L1042.3,695.8L1043.5,699.9L1044.6,704.1L1045.6,708.4L1046.6,712.8L1047.6,717.3L1048.5,721.9L1049.4,726.5L1050.2,731.3L1051.0,736.1L1051.8,741.0L1052.5,746.0L1053.2,751.1L1053.8,756.3L1054.4,761.6L1054.9,767.0L1055.5,772.4L1056.0,777.9L1056.4,783.4L1056.8,789.0L1057.2,794.7L1057.5,800.5L1057.8,806.3L1058.1,812.2L1058.3,818.1L1058.5,824.1L1058.7,830.2L1058.8,836.3L1058.9,842.5L1059.0,848.8L1059.0,855.2L1059.0,861.5L1059.0,868.0L1059.0,874.5L1059.0,881.1L1058.9,887.8L1058.8,894.5L1058.7,901.3L1058.6,908.1L1058.6,915.0L1058.5,922.0L1058.4,929.0L1058.3,936.1L1058.2,943.2L1058.1,950.4L1058.1,957.7L1058.1,965.1L1058.1,972.4L1058.1,979.9L1058.2,987.4L1058.4,995.0L1058.5,1002.6L1058.5,1010.3" stroke="#c5c6c8" stroke-width="6.4"/>
<path d="M638.2,548.7L645.6,548.8L653.0,548.8L660.2,548.9L667.4,548.9L674.6,549.0L681.6,549.0L688.6,549.1L695.5,549.1L702.3,549.2L709.0,549.3L715.7,549.4L722.3,549.5L728.8,549.6L735.3,549.8L741.6,550.0L747.9,550.2L754.1,550.4L760.3,550.6L766.3,550.9L772.3,551.2L778.2,551.5L784.1,551.8L789.8,552.2L795.5,552.6L801.1,553.0L806.6,553.5L812.1,554.0L817.5,554.5L822.8,555.0L828.1,555.6L833.3,556.1L838.4,556.8L843.5,557.4L848.5,558.1L853.4,558.8L858.3,559.5L863.2,560.3L868.0,561.1L872.9,561.9L877.7,562.8L882.5,563.7L887.3,564.7L892.0,565.8L896.7,566.9L901.4,568.1L906.0,569.3L910.6,570.6L915.1,571.9L919.5,573.3L923.9,574.8L928.2,576.4L932.5,578.0L936.7,579.7L940.8,581.4L944.8,583.2L948.8,585.1L952.6,587.1L956.4,589.1L960.0,591.1L963.6,593.2L967.1,595.4L970.4,597.6L973.7,599.8L976.9,602.1L979.9,604.4L982.9,606.8L985.8,609.1L988.6,611.5L991.2,613.9L993.8,616.3L996.3,618.7L998.7,621.2L1001.0,623.6L1003.2,626.1L1005.3,628.5L1007.3,631.0L1009.3,633.4L1011.1,635.9L1012.9,638.3L1014.7,640.8L1016.3,643.3L1018.0,645.9L1019.6,648.5L1021.3,651.3L1022.9,654.3L1024.6,657.3L1026.2,660.4L1027.7,663.7L1029.3,667.0L1030.8,670.4L1032.2,673.9L1033.6,677.4L1035.0,681.1L1036.3,684.8L1037.6,688.6L1038.8,692.5L1040.0,696.5L1041.2,700.6L1042.3,704.8L1043.3,709.1L1044.3,713.4L1045.3,717.9L1046.2,722.4L1047.1,727.0L1047.9,731.8L1048.7,736.6L1049.4,741.5L1050.1,746.5L1050.8,751.5L1051.4,756.7L1052.0,761.9L1052.6,767.3L1053.1,772.7L1053.6,778.1L1054.0,783.7L1054.4,789.3L1054.8,794.9L1055.1,800.7L1055.4,806.5L1055.7,812.3L1055.9,818.3L1056.1,824.3L1056.3,830.3L1056.4,836.4L1056.5,842.6L1056.6,848.9L1056.6,855.2L1056.6,861.6L1056.6,868.1L1056.6,874.6L1056.6,881.2L1056.5,887.8L1056.4,894.5L1056.3,901.3L1056.2,908.1L1056.2,915.0L1056.1,922.0L1056.0,929.0L1055.9,936.1L1055.8,943.2L1055.7,950.4L1055.7,957.7L1055.7,965.0L1055.7,972.4L1055.7,979.9L1055.8,987.4L1056.0,995.0L1056.1,1002.6L1056.1,1010.3" stroke="#cbccce" stroke-width="6.4"/>
<path d="M638.2,551.1L645.6,551.2L653.0,551.2L660.2,551.3L667.4,551.3L674.5,551.4L681.6,551.4L688.5,551.5L695.4,551.5L702.3,551.6L709.0,551.7L715.7,551.8L722.2,551.9L728.7,552.0L735.2,552.2L741.5,552.4L747.8,552.5L754.0,552.8L760.1,553.0L766.2,553.3L772.2,553.6L778.0,553.9L783.9,554.2L789.6,554.6L795.3,555.0L800.9,555.4L806.4,555.9L811.8,556.3L817.2,556.8L822.5,557.4L827.7,557.9L832.9,558.5L838.0,559.1L843.0,559.8L848.0,560.4L852.9,561.1L857.8,561.8L862.6,562.6L867.5,563.4L872.3,564.2L877.1,565.1L881.8,566.1L886.6,567.0L891.3,568.1L896.0,569.2L900.6,570.3L905.2,571.5L909.7,572.8L914.2,574.2L918.6,575.6L923.0,577.0L927.3,578.6L931.5,580.2L935.7,581.9L939.7,583.6L943.7,585.4L947.6,587.3L951.5,589.2L955.2,591.2L958.8,593.2L962.4,595.3L965.8,597.4L969.1,599.6L972.4,601.8L975.5,604.1L978.5,606.4L981.5,608.7L984.3,611.0L987.0,613.4L989.7,615.7L992.2,618.1L994.6,620.5L997.0,622.9L999.3,625.3L1001.4,627.7L1003.5,630.1L1005.5,632.6L1007.4,635.0L1009.3,637.4L1011.0,639.8L1012.7,642.2L1014.4,644.7L1016.0,647.2L1017.6,649.8L1019.2,652.6L1020.9,655.5L1022.5,658.5L1024.0,661.6L1025.6,664.8L1027.1,668.0L1028.6,671.4L1030.0,674.8L1031.4,678.4L1032.8,682.0L1034.1,685.7L1035.3,689.5L1036.6,693.3L1037.7,697.3L1038.9,701.4L1040.0,705.5L1041.0,709.7L1042.0,714.1L1043.0,718.5L1043.9,723.0L1044.7,727.6L1045.6,732.3L1046.3,737.0L1047.1,741.9L1047.8,746.9L1048.4,751.9L1049.0,757.1L1049.6,762.3L1050.2,767.6L1050.7,773.0L1051.2,778.4L1051.6,783.9L1052.0,789.5L1052.4,795.2L1052.7,800.9L1053.0,806.7L1053.3,812.5L1053.5,818.4L1053.7,824.4L1053.9,830.4L1054.0,836.5L1054.1,842.7L1054.2,849.0L1054.2,855.3L1054.2,861.7L1054.2,868.1L1054.2,874.6L1054.2,881.2L1054.1,887.8L1054.0,894.5L1053.9,901.3L1053.8,908.1L1053.8,915.0L1053.7,922.0L1053.6,929.0L1053.5,936.1L1053.4,943.2L1053.3,950.4L1053.3,957.7L1053.3,965.0L1053.3,972.4L1053.3,979.9L1053.4,987.4L1053.6,995.0L1053.7,1002.6L1053.7,1010.3" stroke="#d1d2d4" stroke-width="6.4"/>
<path d="M638.2,553.5L645.6,553.6L652.9,553.6L660.2,553.7L667.4,553.7L674.5,553.8L681.6,553.8L688.5,553.9L695.4,553.9L702.2,554.0L708.9,554.1L715.6,554.2L722.2,554.3L728.7,554.4L735.1,554.6L741.4,554.8L747.7,554.9L753.9,555.2L760.0,555.4L766.0,555.7L772.0,556.0L777.9,556.3L783.7,556.6L789.4,557.0L795.0,557.4L800.6,557.8L806.1,558.2L811.5,558.7L816.9,559.2L822.2,559.8L827.4,560.3L832.5,560.9L837.6,561.5L842.6,562.1L847.6,562.8L852.5,563.5L857.3,564.2L862.1,564.9L866.9,565.7L871.7,566.6L876.5,567.4L881.2,568.4L885.9,569.3L890.6,570.4L895.2,571.5L899.8,572.6L904.4,573.8L908.9,575.1L913.3,576.4L917.7,577.8L922.1,579.3L926.3,580.8L930.5,582.4L934.7,584.0L938.7,585.8L942.7,587.5L946.5,589.4L950.3,591.3L954.0,593.2L957.6,595.3L961.1,597.3L964.5,599.4L967.8,601.6L971.0,603.8L974.1,606.0L977.1,608.3L980.0,610.6L982.8,612.9L985.5,615.2L988.1,617.6L990.6,619.9L993.0,622.3L995.3,624.6L997.6,627.0L999.7,629.4L1001.8,631.8L1003.7,634.2L1005.6,636.5L1007.4,638.9L1009.1,641.3L1010.8,643.7L1012.4,646.1L1014.0,648.6L1015.6,651.2L1017.2,653.9L1018.8,656.7L1020.4,659.7L1021.9,662.7L1023.5,665.9L1025.0,669.1L1026.4,672.4L1027.8,675.8L1029.2,679.3L1030.5,682.9L1031.8,686.5L1033.1,690.3L1034.3,694.1L1035.5,698.1L1036.6,702.1L1037.7,706.2L1038.7,710.4L1039.7,714.7L1040.6,719.1L1041.5,723.5L1042.4,728.1L1043.2,732.8L1044.0,737.5L1044.7,742.3L1045.4,747.3L1046.1,752.3L1046.7,757.4L1047.3,762.6L1047.8,767.9L1048.3,773.3L1048.8,778.7L1049.2,784.2L1049.7,789.8L1050.0,795.4L1050.4,801.1L1050.7,806.8L1050.9,812.7L1051.1,818.6L1051.3,824.5L1051.5,830.6L1051.6,836.7L1051.7,842.8L1051.8,849.1L1051.8,855.4L1051.8,861.7L1051.8,868.1L1051.8,874.6L1051.8,881.2L1051.7,887.8L1051.6,894.5L1051.5,901.3L1051.4,908.1L1051.4,915.0L1051.3,922.0L1051.2,929.0L1051.1,936.1L1051.0,943.2L1050.9,950.4L1050.9,957.7L1050.9,965.0L1050.9,972.4L1050.9,979.9L1051.0,987.4L1051.2,995.0L1051.3,1002.6L1051.3,1010.3" stroke="#d7d8da" stroke-width="6.4"/>
<path d="M638.2,555.9L645.6,556.0L652.9,556.0L660.2,556.1L667.4,556.1L674.5,556.2L681.5,556.2L688.5,556.3L695.4,556.3L702.2,556.4L708.9,556.5L715.5,556.6L722.1,556.7L728.6,556.8L735.0,557.0L741.3,557.2L747.6,557.3L753.8,557.6L759.9,557.8L765.9,558.1L771.8,558.4L777.7,558.7L783.5,559.0L789.2,559.4L794.8,559.8L800.4,560.2L805.8,560.6L811.2,561.1L816.6,561.6L821.8,562.1L827.0,562.7L832.1,563.3L837.2,563.9L842.2,564.5L847.1,565.1L852.0,565.8L856.8,566.5L861.6,567.3L866.3,568.1L871.1,568.9L875.8,569.8L880.5,570.7L885.2,571.6L889.9,572.7L894.5,573.7L899.1,574.9L903.6,576.1L908.1,577.3L912.5,578.6L916.8,580.0L921.1,581.5L925.4,583.0L929.5,584.6L933.6,586.2L937.6,587.9L941.6,589.7L945.4,591.5L949.2,593.4L952.8,595.3L956.4,597.3L959.9,599.4L963.2,601.5L966.5,603.6L969.7,605.8L972.7,608.0L975.7,610.2L978.6,612.5L981.3,614.8L984.0,617.1L986.6,619.4L989.0,621.7L991.4,624.0L993.7,626.4L995.9,628.7L998.0,631.1L1000.0,633.4L1001.9,635.7L1003.8,638.1L1005.6,640.4L1007.3,642.8L1008.9,645.1L1010.5,647.5L1012.0,649.9L1013.6,652.5L1015.2,655.1L1016.7,657.9L1018.3,660.8L1019.8,663.9L1021.3,667.0L1022.8,670.2L1024.2,673.4L1025.6,676.8L1027.0,680.2L1028.3,683.8L1029.6,687.4L1030.8,691.1L1032.0,694.9L1033.2,698.8L1034.3,702.8L1035.4,706.9L1036.4,711.0L1037.4,715.3L1038.3,719.6L1039.2,724.1L1040.0,728.6L1040.9,733.3L1041.6,738.0L1042.4,742.8L1043.0,747.7L1043.7,752.7L1044.3,757.8L1044.9,763.0L1045.4,768.2L1045.9,773.6L1046.4,779.0L1046.9,784.4L1047.3,790.0L1047.6,795.6L1048.0,801.3L1048.3,807.0L1048.5,812.8L1048.7,818.7L1048.9,824.7L1049.1,830.7L1049.2,836.8L1049.3,842.9L1049.4,849.1L1049.4,855.4L1049.4,861.8L1049.4,868.2L1049.4,874.7L1049.4,881.2L1049.3,887.9L1049.2,894.5L1049.1,901.3L1049.0,908.1L1049.0,915.0L1048.9,921.9L1048.8,929.0L1048.7,936.0L1048.6,943.2L1048.5,950.4L1048.5,957.7L1048.5,965.0L1048.5,972.4L1048.5,979.8L1048.6,987.4L1048.8,995.0L1048.9,1002.6L1048.9,1010.3" stroke="#dcdddf" stroke-width="6.4"/>
<path d="M638.1,558.3L645.6,558.4L652.9,558.4L660.2,558.5L667.4,558.5L674.5,558.6L681.5,558.6L688.5,558.7L695.3,558.7L702.1,558.8L708.9,558.9L715.5,559.0L722.1,559.1L728.5,559.2L734.9,559.4L741.3,559.5L747.5,559.7L753.7,560.0L759.7,560.2L765.7,560.5L771.7,560.7L777.5,561.1L783.3,561.4L789.0,561.8L794.6,562.2L800.1,562.6L805.6,563.0L811.0,563.5L816.3,564.0L821.5,564.5L826.7,565.1L831.8,565.6L836.8,566.2L841.7,566.9L846.6,567.5L851.5,568.2L856.3,568.9L861.0,569.6L865.8,570.4L870.5,571.2L875.2,572.1L879.9,573.0L884.5,573.9L889.2,575.0L893.7,576.0L898.3,577.1L902.8,578.3L907.2,579.6L911.6,580.9L915.9,582.3L920.2,583.7L924.4,585.2L928.6,586.8L932.6,588.4L936.6,590.1L940.5,591.8L944.3,593.6L948.0,595.5L951.6,597.4L955.2,599.4L958.6,601.4L962.0,603.5L965.2,605.6L968.3,607.8L971.3,610.0L974.3,612.2L977.1,614.4L979.8,616.7L982.5,618.9L985.0,621.2L987.4,623.5L989.8,625.8L992.0,628.1L994.2,630.4L996.3,632.7L998.2,635.0L1000.1,637.3L1002.0,639.6L1003.7,641.9L1005.4,644.3L1007.0,646.6L1008.5,648.9L1010.0,651.3L1011.6,653.8L1013.1,656.4L1014.7,659.2L1016.2,662.0L1017.7,665.0L1019.2,668.1L1020.7,671.2L1022.1,674.5L1023.5,677.8L1024.8,681.2L1026.1,684.7L1027.4,688.3L1028.6,691.9L1029.8,695.7L1030.9,699.6L1032.0,703.5L1033.1,707.6L1034.1,711.7L1035.0,715.9L1036.0,720.2L1036.9,724.6L1037.7,729.1L1038.5,733.7L1039.3,738.4L1040.0,743.2L1040.7,748.1L1041.3,753.1L1041.9,758.1L1042.5,763.3L1043.1,768.5L1043.6,773.9L1044.0,779.2L1044.5,784.7L1044.9,790.2L1045.2,795.8L1045.6,801.5L1045.9,807.2L1046.1,813.0L1046.3,818.9L1046.5,824.8L1046.7,830.8L1046.8,836.9L1046.9,843.0L1047.0,849.2L1047.0,855.5L1047.0,861.8L1047.0,868.2L1047.0,874.7L1047.0,881.3L1046.9,887.9L1046.8,894.6L1046.7,901.3L1046.6,908.1L1046.6,915.0L1046.5,921.9L1046.4,929.0L1046.3,936.0L1046.2,943.2L1046.1,950.4L1046.1,957.6L1046.1,965.0L1046.1,972.4L1046.1,979.8L1046.2,987.4L1046.4,995.0L1046.5,1002.6L1046.5,1010.3" stroke="#e2e3e5" stroke-width="6.4"/>
<path d="M638.1,560.7L645.5,560.8L652.9,560.8L660.1,560.9L667.3,560.9L674.4,561.0L681.5,561.0L688.4,561.1L695.3,561.1L702.1,561.2L708.8,561.3L715.4,561.4L722.0,561.5L728.5,561.6L734.9,561.8L741.2,561.9L747.4,562.1L753.5,562.4L759.6,562.6L765.6,562.9L771.5,563.1L777.3,563.5L783.1,563.8L788.8,564.2L794.4,564.5L799.9,565.0L805.3,565.4L810.7,565.9L815.9,566.4L821.2,566.9L826.3,567.4L831.4,568.0L836.4,568.6L841.3,569.2L846.2,569.9L851.0,570.5L855.8,571.2L860.5,572.0L865.2,572.7L869.9,573.5L874.6,574.4L879.2,575.3L883.9,576.2L888.4,577.2L893.0,578.3L897.5,579.4L902.0,580.6L906.4,581.8L910.8,583.1L915.1,584.5L919.3,585.9L923.5,587.4L927.6,588.9L931.6,590.6L935.5,592.2L939.4,594.0L943.2,595.8L946.9,597.6L950.5,599.5L954.0,601.5L957.4,603.5L960.7,605.5L963.9,607.6L967.0,609.7L970.0,611.9L972.9,614.1L975.7,616.3L978.4,618.5L980.9,620.8L983.4,623.0L985.8,625.3L988.2,627.6L990.4,629.8L992.5,632.1L994.5,634.4L996.5,636.7L998.3,638.9L1000.1,641.2L1001.8,643.5L1003.5,645.7L1005.0,648.0L1006.5,650.3L1008.0,652.6L1009.6,655.1L1011.1,657.7L1012.6,660.4L1014.1,663.2L1015.6,666.1L1017.1,669.2L1018.5,672.3L1019.9,675.5L1021.3,678.8L1022.6,682.1L1023.9,685.6L1025.1,689.1L1026.3,692.8L1027.5,696.5L1028.6,700.3L1029.7,704.2L1030.8,708.2L1031.8,712.3L1032.7,716.5L1033.6,720.8L1034.5,725.2L1035.4,729.7L1036.2,734.2L1036.9,738.9L1037.6,743.7L1038.3,748.5L1039.0,753.5L1039.6,758.5L1040.1,763.6L1040.7,768.9L1041.2,774.2L1041.7,779.5L1042.1,785.0L1042.5,790.5L1042.9,796.0L1043.2,801.7L1043.5,807.4L1043.7,813.2L1044.0,819.0L1044.1,824.9L1044.3,830.9L1044.4,837.0L1044.5,843.1L1044.6,849.3L1044.6,855.6L1044.7,861.9L1044.6,868.3L1044.6,874.8L1044.6,881.3L1044.5,887.9L1044.4,894.6L1044.3,901.3L1044.2,908.1L1044.2,915.0L1044.1,921.9L1044.0,928.9L1043.9,936.0L1043.8,943.2L1043.7,950.4L1043.7,957.6L1043.7,965.0L1043.7,972.4L1043.7,979.8L1043.8,987.4L1044.0,994.9L1044.1,1002.6L1044.1,1010.3" stroke="#e7e8ea" stroke-width="6.4"/>
<path d="M638.1,563.1L645.5,563.2L652.9,563.2L660.1,563.3L667.3,563.3L674.4,563.4L681.4,563.4L688.4,563.5L695.3,563.5L702.1,563.6L708.8,563.7L715.4,563.8L721.9,563.9L728.4,564.0L734.8,564.2L741.1,564.3L747.3,564.5L753.4,564.8L759.5,565.0L765.5,565.3L771.4,565.5L777.2,565.8L782.9,566.2L788.6,566.5L794.1,566.9L799.6,567.3L805.0,567.8L810.4,568.3L815.6,568.7L820.8,569.3L825.9,569.8L831.0,570.4L836.0,571.0L840.9,571.6L845.7,572.2L850.5,572.9L855.2,573.6L859.9,574.3L864.6,575.1L869.3,575.9L873.9,576.7L878.6,577.6L883.2,578.5L887.7,579.5L892.3,580.6L896.7,581.7L901.2,582.9L905.6,584.1L909.9,585.4L914.2,586.7L918.4,588.1L922.5,589.6L926.6,591.1L930.6,592.7L934.5,594.4L938.3,596.1L942.1,597.9L945.7,599.7L949.3,601.6L952.8,603.5L956.1,605.5L959.4,607.6L962.6,609.6L965.6,611.7L968.6,613.9L971.4,616.0L974.2,618.2L976.9,620.4L979.4,622.6L981.9,624.9L984.3,627.1L986.5,629.3L988.7,631.6L990.8,633.8L992.8,636.1L994.7,638.3L996.5,640.5L998.3,642.8L1000.0,645.0L1001.6,647.2L1003.1,649.4L1004.6,651.6L1006.1,654.0L1007.6,656.4L1009.0,658.9L1010.5,661.6L1012.0,664.4L1013.5,667.3L1014.9,670.3L1016.4,673.3L1017.7,676.5L1019.1,679.8L1020.4,683.1L1021.7,686.5L1022.9,690.0L1024.1,693.6L1025.2,697.3L1026.4,701.1L1027.4,705.0L1028.5,708.9L1029.5,713.0L1030.4,717.1L1031.3,721.4L1032.2,725.8L1033.0,730.2L1033.8,734.7L1034.6,739.4L1035.3,744.1L1035.9,748.9L1036.6,753.9L1037.2,758.9L1037.8,764.0L1038.3,769.2L1038.8,774.5L1039.3,779.8L1039.7,785.2L1040.1,790.7L1040.5,796.2L1040.8,801.9L1041.1,807.6L1041.3,813.3L1041.6,819.1L1041.7,825.1L1041.9,831.0L1042.0,837.1L1042.1,843.2L1042.2,849.4L1042.2,855.6L1042.3,861.9L1042.2,868.3L1042.2,874.8L1042.2,881.3L1042.1,887.9L1042.0,894.6L1041.9,901.3L1041.8,908.1L1041.8,915.0L1041.7,921.9L1041.6,928.9L1041.5,936.0L1041.4,943.1L1041.3,950.3L1041.3,957.6L1041.3,964.9L1041.3,972.3L1041.3,979.8L1041.4,987.3L1041.6,994.9L1041.7,1002.6L1041.7,1010.3" stroke="#e7e8ea" stroke-width="6.4"/>
<path d="M638.1,565.5L645.5,565.6L652.8,565.6L660.1,565.7L667.3,565.7L674.4,565.8L681.4,565.8L688.4,565.9L695.2,565.9L702.0,566.0L708.7,566.1L715.3,566.2L721.9,566.3L728.3,566.4L734.7,566.6L741.0,566.7L747.2,566.9L753.3,567.1L759.4,567.4L765.3,567.6L771.2,567.9L777.0,568.2L782.7,568.6L788.3,568.9L793.9,569.3L799.4,569.7L804.8,570.2L810.1,570.6L815.3,571.1L820.5,571.6L825.6,572.2L830.6,572.7L835.6,573.3L840.5,573.9L845.3,574.6L850.0,575.2L854.7,575.9L859.4,576.6L864.1,577.4L868.7,578.2L873.3,579.0L877.9,579.9L882.5,580.8L887.0,581.8L891.5,582.9L896.0,584.0L900.4,585.1L904.7,586.3L909.0,587.6L913.3,588.9L917.4,590.3L921.6,591.8L925.6,593.3L929.6,594.9L933.4,596.5L937.2,598.2L941.0,600.0L944.6,601.8L948.1,603.7L951.5,605.6L954.9,607.6L958.1,609.6L961.2,611.6L964.3,613.7L967.2,615.8L970.0,618.0L972.8,620.1L975.4,622.3L977.9,624.5L980.3,626.7L982.7,628.9L984.9,631.1L987.0,633.3L989.1,635.5L991.1,637.7L993.0,639.9L994.8,642.1L996.5,644.3L998.1,646.5L999.7,648.7L1001.2,650.9L1002.6,653.0L1004.1,655.3L1005.5,657.7L1007.0,660.2L1008.5,662.8L1009.9,665.6L1011.4,668.4L1012.8,671.4L1014.2,674.4L1015.6,677.5L1016.9,680.7L1018.2,684.0L1019.4,687.4L1020.6,690.9L1021.8,694.4L1023.0,698.1L1024.1,701.8L1025.1,705.7L1026.2,709.6L1027.1,713.6L1028.1,717.8L1029.0,722.0L1029.9,726.3L1030.7,730.7L1031.5,735.2L1032.2,739.8L1032.9,744.6L1033.6,749.4L1034.2,754.3L1034.8,759.2L1035.4,764.3L1035.9,769.5L1036.4,774.8L1036.9,780.1L1037.3,785.5L1037.7,790.9L1038.1,796.5L1038.4,802.1L1038.7,807.7L1038.9,813.5L1039.2,819.3L1039.4,825.2L1039.5,831.1L1039.6,837.2L1039.7,843.3L1039.8,849.4L1039.8,855.7L1039.9,862.0L1039.8,868.4L1039.8,874.8L1039.8,881.4L1039.7,887.9L1039.6,894.6L1039.5,901.3L1039.4,908.1L1039.4,915.0L1039.3,921.9L1039.2,928.9L1039.1,936.0L1039.0,943.1L1038.9,950.3L1038.9,957.6L1038.9,964.9L1038.9,972.3L1038.9,979.8L1039.0,987.3L1039.2,994.9L1039.3,1002.6L1039.3,1010.3" stroke="#e7e8ea" stroke-width="6.4"/>
</g>
<path d="M639.9,344.9L647.3,345.0L654.6,345.1L661.9,345.1L669.2,345.2L676.5,345.2L683.8,345.3L691.1,345.4L698.4,345.5L705.7,345.6L713.0,345.7L720.3,345.9L727.6,346.1L734.9,346.3L742.2,346.5L749.4,346.8L756.7,347.1L764.0,347.4L771.2,347.8L778.5,348.2L785.8,348.7L793.0,349.2L800.3,349.7L807.5,350.3L814.7,351.0L821.9,351.7L829.2,352.5L836.4,353.3L843.6,354.2L850.8,355.2L858.0,356.2L865.2,357.4L872.4,358.5L879.5,359.8L886.7,361.2L893.8,362.6L901.0,364.1L908.1,365.7L915.3,367.4L922.4,369.2L929.5,371.1L936.6,373.0L943.6,375.1L950.7,377.2L957.7,379.4L964.7,381.8L971.6,384.2L978.5,386.7L985.4,389.3L992.3,392.0L999.1,394.8L1005.8,397.6L1012.5,400.6L1019.2,403.7L1025.8,406.8L1032.4,410.1L1038.9,413.4L1045.3,416.9L1051.7,420.4L1058.0,424.1L1064.3,427.8L1070.5,431.6L1076.6,435.6L1082.6,439.6L1088.6,443.7L1094.5,448.0L1100.3,452.3L1106.0,456.7L1111.6,461.2L1117.2,465.9L1122.6,470.6L1128.0,475.4L1133.3,480.4L1138.4,485.4L1143.5,490.6L1148.5,495.8L1153.3,501.2L1158.1,506.6L1162.7,512.2L1167.2,517.8L1171.6,523.6L1175.9,529.5L1180.1,535.5L1184.1,541.5L1188.1,547.7L1191.9,554.0L1195.5,560.3L1199.1,566.7L1202.5,573.2L1205.9,579.8L1209.1,586.4L1212.1,593.1L1215.1,599.8L1217.9,606.6L1220.6,613.4L1223.2,620.3L1225.7,627.2L1228.0,634.1L1230.3,641.0L1232.4,648.0L1234.5,655.0L1236.4,662.1L1238.2,669.1L1240.0,676.2L1241.6,683.3L1243.2,690.4L1244.6,697.6L1246.0,704.7L1247.3,711.9L1248.5,719.1L1249.7,726.3L1250.7,733.5L1251.7,740.7L1252.7,747.9L1253.5,755.1L1254.3,762.3L1255.1,769.6L1255.8,776.8L1256.4,784.1L1257.0,791.3L1257.5,798.6L1257.9,805.9L1258.4,813.1L1258.7,820.4L1259.1,827.7L1259.4,835.0L1259.6,842.3L1259.9,849.6L1260.0,856.8L1260.2,864.1L1260.3,871.4L1260.4,878.7L1260.5,886.0L1260.5,893.3L1260.6,900.6L1260.6,907.9L1260.6,915.2L1260.6,922.5L1260.6,929.8L1260.5,937.1L1260.5,944.4L1260.4,951.7L1260.4,959.0L1260.3,966.3L1260.3,973.6L1260.3,980.9L1260.2,988.2L1260.2,995.4L1260.2,1002.7L1260.2,1010.0" fill="none" stroke="#231f20" stroke-width="5.8"/>
<path d="M638.1,560.3L645.5,560.4L652.9,560.4L660.2,560.5L667.3,560.5L674.4,560.6L681.5,560.6L688.4,560.7L695.3,560.7L702.1,560.8L708.8,560.9L715.4,561.0L722.0,561.1L728.5,561.2L734.9,561.4L741.2,561.5L747.4,561.7L753.6,562.0L759.6,562.2L765.6,562.5L771.5,562.7L777.4,563.1L783.1,563.4L788.8,563.8L794.4,564.1L799.9,564.6L805.3,565.0L810.7,565.5L816.0,566.0L821.2,566.5L826.4,567.0L831.4,567.6L836.4,568.2L841.4,568.8L846.3,569.5L851.1,570.1L855.8,570.8L860.6,571.6L865.3,572.3L870.0,573.1L874.7,574.0L879.3,574.9L884.0,575.9L888.6,576.9L893.1,577.9L897.6,579.0L902.1,580.2L906.5,581.5L910.9,582.8L915.2,584.1L919.4,585.5L923.6,587.0L927.7,588.6L931.8,590.2L935.7,591.9L939.6,593.6L943.4,595.4L947.1,597.3L950.7,599.2L954.2,601.1L957.6,603.1L960.9,605.2L964.1,607.3L967.2,609.4L970.2,611.6L973.1,613.8L975.9,616.0L978.6,618.2L981.2,620.5L983.7,622.7L986.1,625.0L988.4,627.3L990.6,629.6L992.8,631.8L994.8,634.1L996.8,636.4L998.6,638.7L1000.4,640.9L1002.1,643.2L1003.8,645.5L1005.4,647.8L1006.9,650.0L1008.4,652.4L1009.9,654.9L1011.4,657.5L1012.9,660.2L1014.5,663.0L1016.0,665.9L1017.4,669.0L1018.9,672.1L1020.3,675.3L1021.6,678.6L1023.0,682.0L1024.2,685.4L1025.5,689.0L1026.7,692.6L1027.9,696.4L1029.0,700.2L1030.1,704.1L1031.1,708.1L1032.2,712.2L1033.1,716.4L1034.0,720.7L1034.9,725.1L1035.8,729.6L1036.6,734.2L1037.3,738.8L1038.0,743.6L1038.7,748.5L1039.3,753.4L1040.0,758.5L1040.5,763.6L1041.1,768.8L1041.6,774.1L1042.1,779.5L1042.5,784.9L1042.9,790.4L1043.2,796.0L1043.6,801.6L1043.9,807.3L1044.1,813.1L1044.4,819.0L1044.5,824.9L1044.7,830.9L1044.8,836.9L1044.9,843.1L1045.0,849.3L1045.0,855.5L1045.1,861.9L1045.0,868.3L1045.0,874.8L1045.0,881.3L1044.9,887.9L1044.8,894.6L1044.7,901.3L1044.6,908.1L1044.6,915.0L1044.5,921.9L1044.4,928.9L1044.3,936.0L1044.2,943.2L1044.1,950.4L1044.1,957.6L1044.1,965.0L1044.1,972.4L1044.1,979.8L1044.2,987.4L1044.4,994.9L1044.5,1002.6L1044.5,1010.3" fill="none" stroke="#231f20" stroke-width="5.8"/>
<!-- fitting body -->
<rect x="129" y="358.6" width="257" height="186.2" fill="url(#gv)" stroke="#231f20" stroke-width="6.0" stroke-linejoin="round"/>
<path d="M3,361.5 Q3,357 7.5,356 L73,342.4 Q76.5,341.8 80,341.8 L125,341.8 Q129,341.8 129,345.8 L129,557 Q129,561 125,561 L84,561 Q79.5,561 76,560.2 L7.5,545.3 Q3,544.2 3,539.7 Z" fill="url(#gv)" stroke="#231f20" stroke-width="6.0" stroke-linejoin="round"/>
<rect x="150.0" y="341.8" width="39.1" height="219.2" rx="4.8" ry="4.8" fill="url(#gv)" stroke="#231f20" stroke-width="6.0" stroke-linejoin="round"/>
<rect x="207.8" y="341.8" width="38.6" height="219.2" rx="4.8" ry="4.8" fill="url(#gv)" stroke="#231f20" stroke-width="6.0" stroke-linejoin="round"/>
<rect x="264.9" y="341.8" width="38.9" height="219.2" rx="4.8" ry="4.8" fill="url(#gv)" stroke="#231f20" stroke-width="6.0" stroke-linejoin="round"/>
<path d="M322.8,358.6 L358.8,334.3 L358.8,569 L322.8,544.8 Z" fill="url(#gv)" stroke="#231f20" stroke-width="6.0" stroke-linejoin="round"/>
<path d="M449.4,342.4 L390.1,342.4 Q386.1,342.4 386.1,346.4 L386.1,556.8 Q386.1,560.8 390.1,560.8 L449.4,560.8 Z" fill="url(#gv)" stroke="#231f20" stroke-width="6.0" stroke-linejoin="round"/>
<rect x="503" y="344.1" width="58.6" height="216.7" fill="url(#gv)" stroke="#231f20" stroke-width="6.0" stroke-linejoin="round"/>
<path d="M464.4,293.4 L449.4,321.5 L449.4,582.5 L464.4,603.3 Z" fill="url(#gbev)" stroke="#231f20" stroke-width="6.0" stroke-linejoin="round"/>
<rect x="464.4" y="293.4" width="38.6" height="309.9" fill="url(#gv)" stroke="#231f20" stroke-width="6.0" stroke-linejoin="round"/>
<rect x="464.4" y="351.1" width="38.6" height="12.6" fill="#ebebec" stroke="#231f20" stroke-width="6.0" stroke-linejoin="round"/>
<rect x="464.4" y="445.3" width="38.6" height="13.5" fill="#ebebec" stroke="#231f20" stroke-width="6.0" stroke-linejoin="round"/>
<rect x="464.4" y="551.1" width="38.6" height="12.6" fill="#ebebec" stroke="#231f20" stroke-width="6.0" stroke-linejoin="round"/>
<path d="M580.1,273.2 L561.6,344.1 L561.6,560.8 L580.1,618.5 Z" fill="url(#gv)" stroke="#231f20" stroke-width="6.0" stroke-linejoin="round"/>
<path d="M643.1,273.2 L661.8,345.1 L661.8,560.8 L643.1,618.5 Z" fill="url(#gv)" stroke="#231f20" stroke-width="6.0" stroke-linejoin="round"/>
<rect x="580.1" y="273.2" width="63" height="345.3" fill="url(#gv)" stroke="#231f20" stroke-width="6.0" stroke-linejoin="round"/>
<!-- flange -->
<path d="M1043.8,998.7 L1263.8,998.7 L1310.3,1074.1 L1005.9,1074.1 Z" fill="url(#gh)" stroke="#231f20" stroke-width="6.0" stroke-linejoin="miter"/>
<rect x="960.1" y="1074.0" width="394.8" height="99" fill="url(#gh)" stroke="#231f20" stroke-width="6.0" stroke-linejoin="miter"/>
<!-- dimensions -->
<line x1="3.3" y1="14.1" x2="3.3" y2="332.6" stroke="#231f20" stroke-width="5.2" stroke-linecap="round"/>
<line x1="1169.3" y1="14.0" x2="1169.3" y2="440.6" stroke="#231f20" stroke-width="5.2" stroke-linecap="round"/>
<line x1="54.0" y1="37.7" x2="521.7" y2="37.7" stroke="#231f20" stroke-width="5.2" stroke-linecap="butt"/>
<line x1="606.1" y1="37.7" x2="1116.0" y2="37.7" stroke="#231f20" stroke-width="5.2" stroke-linecap="butt"/>
<path d="M2.2,37.7 L65.2,11.0 Q51.6,37.7 65.2,64.4 Z" fill="#231f20"/>
<path d="M1167.5,37.7 L1104.5,11.0 Q1118.1,37.7 1104.5,64.4 Z" fill="#231f20"/>
<line x1="450.2" y1="140.7" x2="450.2" y2="268.9" stroke="#231f20" stroke-width="5.2" stroke-linecap="round"/>
<line x1="501.0" y1="171.3" x2="754.7" y2="171.3" stroke="#231f20" stroke-width="5.2" stroke-linecap="butt"/>
<line x1="879.7" y1="171.3" x2="1118.5" y2="171.3" stroke="#231f20" stroke-width="5.2" stroke-linecap="butt"/>
<path d="M449.4,171.3 L512.4,144.6 Q498.8,171.3 512.4,198.0 Z" fill="#231f20"/>
<path d="M1170.2,171.3 L1107.2,144.6 Q1120.8,171.3 1107.2,198.0 Z" fill="#231f20"/>
<line x1="1189.8" y1="458.1" x2="1497.1" y2="458.1" stroke="#231f20" stroke-width="5.2" stroke-linecap="round"/>
<line x1="1394.7" y1="1170.4" x2="1497.1" y2="1170.4" stroke="#231f20" stroke-width="5.2" stroke-linecap="round"/>
<line x1="1441.2" y1="506.0" x2="1441.2" y2="753.6" stroke="#231f20" stroke-width="5.2" stroke-linecap="butt"/>
<line x1="1441.2" y1="862.8" x2="1441.2" y2="1119.0" stroke="#231f20" stroke-width="5.2" stroke-linecap="butt"/>
<path d="M1441.2,454.2 L1414.5,517.1 Q1441.2,503.5 1467.9,517.1 Z" fill="#231f20"/>
<path d="M1441.2,1169.5 L1414.5,1108.0 Q1441.2,1121.6 1467.9,1108.0 Z" fill="#231f20"/>
<line x1="795.2" y1="1079.3" x2="923.7" y2="1079.3" stroke="#231f20" stroke-width="5.2" stroke-linecap="round"/>
<line x1="795.2" y1="1170.5" x2="923.7" y2="1170.5" stroke="#231f20" stroke-width="5.2" stroke-linecap="round"/>
<line x1="857.3" y1="970.9" x2="857.3" y2="1028.5" stroke="#231f20" stroke-width="5.2" stroke-linecap="round"/>
<line x1="857.3" y1="1221.0" x2="857.3" y2="1278.9" stroke="#231f20" stroke-width="5.2" stroke-linecap="round"/>
<path d="M857.3,1078.0 L830.6,1017.3 Q857.3,1030.9 884.0,1017.3 Z" fill="#231f20"/>
<path d="M857.3,1172.0 L830.6,1232.4 Q857.3,1218.8 884.0,1232.4 Z" fill="#231f20"/>
<line x1="959.2" y1="1196.8" x2="959.2" y2="1389.6" stroke="#231f20" stroke-width="5.2" stroke-linecap="round"/>
<line x1="1355.8" y1="1196.8" x2="1355.8" y2="1389.6" stroke="#231f20" stroke-width="5.2" stroke-linecap="round"/>
<line x1="1015.5" y1="1332.7" x2="1099.9" y2="1332.7" stroke="#231f20" stroke-width="5.2" stroke-linecap="butt"/>
<line x1="1224.5" y1="1332.7" x2="1307.0" y2="1332.7" stroke="#231f20" stroke-width="5.2" stroke-linecap="butt"/>
<path d="M964.7,1332.7 L1026.6,1306.0 Q1013.0,1332.7 1026.6,1359.4 Z" fill="#231f20"/>
<path d="M1354.5,1332.7 L1295.7,1306.0 Q1309.3,1332.7 1295.7,1359.4 Z" fill="#231f20"/>
<g font-family="'Liberation Sans', Arial, Helvetica, sans-serif" fill="#231f20"><text transform="translate(549.46,61.85) scale(0.8742,0.8913)" font-size="100" stroke="#231f20" stroke-width="0.80">L</text>
<text transform="translate(784.08,206.04) scale(0.8535,0.9113)" font-size="100" stroke="#231f20" stroke-width="0.80">C</text>
<text transform="translate(1412.62,841.65) scale(0.8632,0.8855)" font-size="100" stroke="#231f20" stroke-width="0.80">T</text>
<text transform="translate(832.98,1154.95) scale(0.6213,0.8333)" font-size="100" stroke="#231f20" stroke-width="0.80">F</text>
<text transform="translate(1122.02,1360.55) scale(0.8788,0.8928)" font-size="100" stroke="#231f20" stroke-width="0.80">M</text></g>
</svg>
</body></html>
